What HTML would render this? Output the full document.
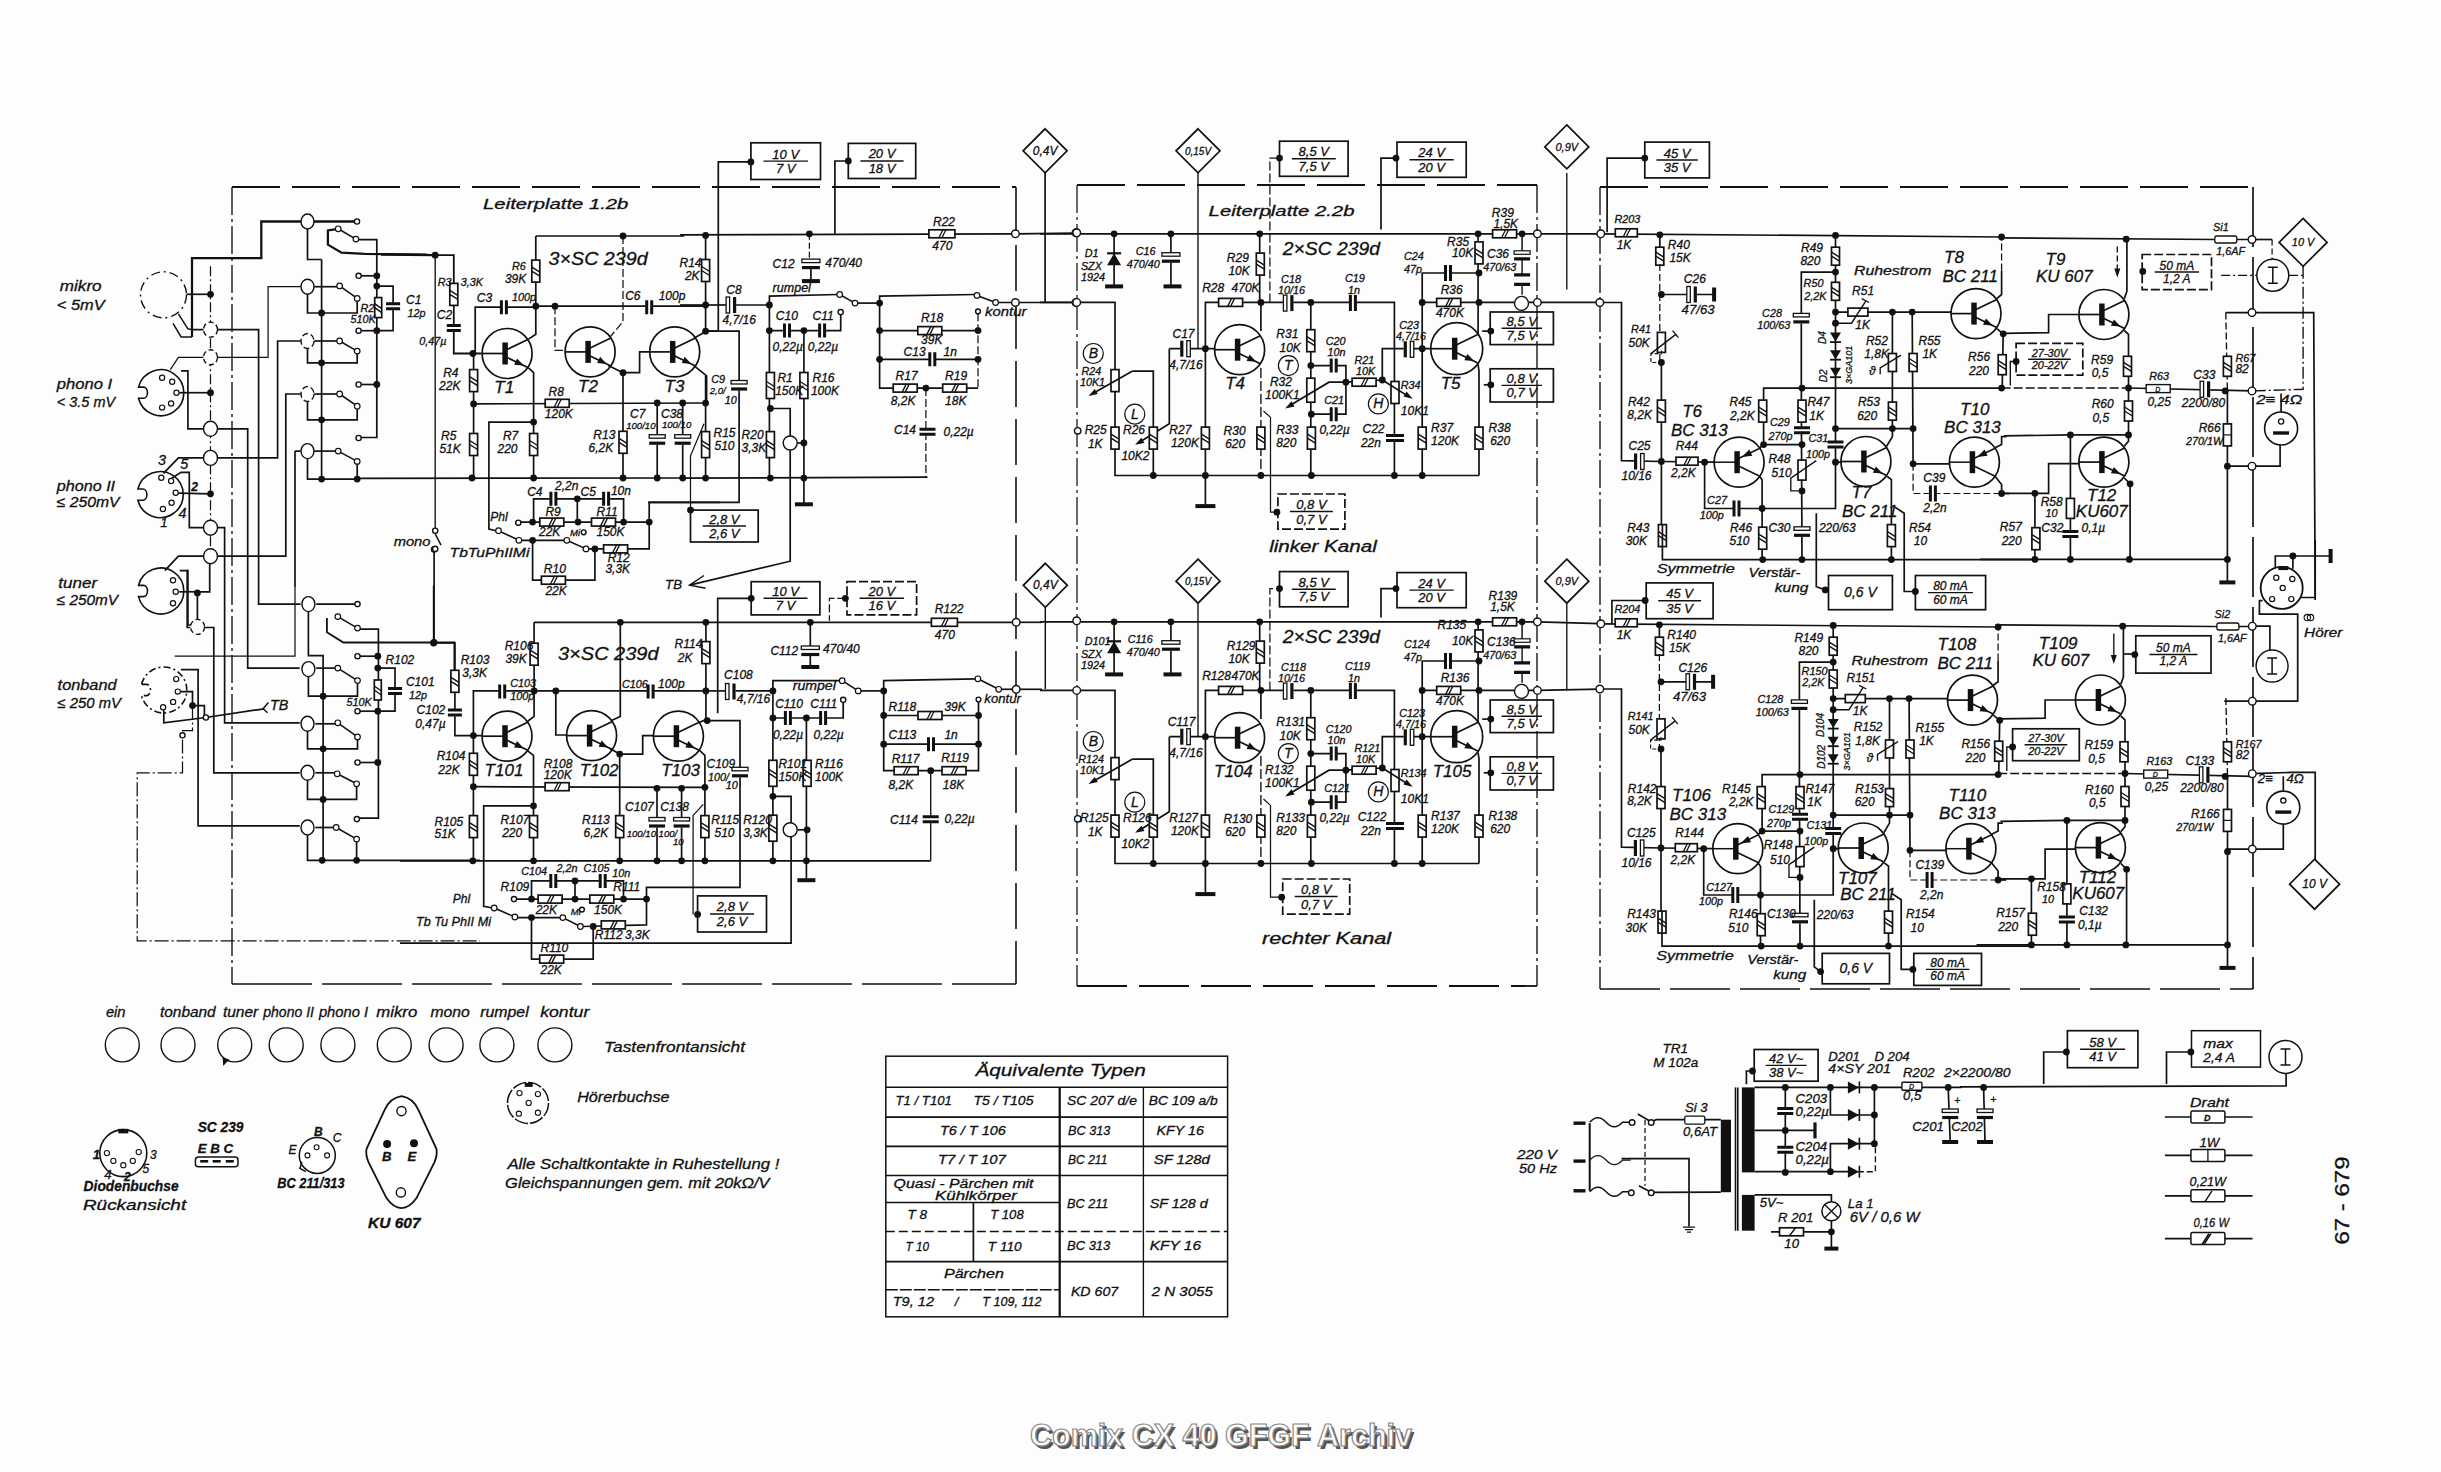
<!DOCTYPE html>
<html><head><meta charset="utf-8"><title>Comix CX 40</title>
<style>html,body{margin:0;padding:0;background:#fff}svg{display:block}text{font-family:"Liberation Sans",sans-serif;stroke:#111;stroke-width:.3px}</style>
</head><body>
<svg width="2441" height="1472" viewBox="0 0 2441 1472">
<rect width="2441" height="1472" fill="#fdfdfd"/>
<circle cx="163.5" cy="294.8" r="23" fill="none" stroke="#111" stroke-width="1.4" stroke-dasharray="9 4 2 4"/>
<path d="M186.6 294.3 L210.5 294.3" stroke="#111" stroke-width="1.69" fill="none"/>
<circle cx="210.5" cy="294.3" r="3.4" fill="#111"/>
<path d="M173.0 323.4 L181.1 337.0 L192.0 337.0" stroke="#111" stroke-width="1.47" fill="none"/>
<path d="M178.4 313.9 L187.9 328.8 L192.0 329.6" stroke="#111" stroke-width="1.47" fill="none"/>
<path d="M192.0 337.0 L192.0 258.2 L261.3 258.2 L261.3 221.5 L355.3 221.5" stroke="#111" stroke-width="2.26" fill="none"/>
<path d="M192.0 329.6 L258.6 329.6 L258.6 587.0" stroke="#111" stroke-width="1.69" fill="none"/>
<path d="M210.5 266.3 L210.5 548.9" stroke="#111" stroke-width="1.24" fill="none" stroke-dasharray="10 3 2 3"/>
<path d="M138.5 387.1 A23 23 0 1 1 138.5 398.3 L143.5 398.3 A4 5.6 0 0 0 143.5 387.1 Z" fill="#fff" stroke="#111" stroke-width="1.6"/>
<path d="M179.2 392.7 L210.5 392.7" stroke="#111" stroke-width="1.69" fill="none"/>
<circle cx="210.5" cy="392.7" r="3.4" fill="#111"/>
<path d="M181.1 370.9 L187.9 370.9 L187.9 428.8 L247.7 428.8 L247.7 587.0" stroke="#111" stroke-width="1.69" fill="none"/>
<path d="M170.3 369.6 L178.4 357.3 L268.1 357.3 L268.1 286.7 L300.7 286.7" stroke="#111" stroke-width="1.24" fill="none"/>
<path d="M137.9 489.0 A23 23 0 1 1 137.9 500.2 L142.9 500.2 A4 5.6 0 0 0 142.9 489.0 Z" fill="#fff" stroke="#111" stroke-width="1.6"/>
<path d="M178.4 493.2 L210.5 493.8" stroke="#111" stroke-width="1.69" fill="none"/>
<circle cx="210.5" cy="493.8" r="3.4" fill="#111"/>
<path d="M163.5 473.4 L178.4 457.9 L277.6 457.9 L277.6 341.0 L300.7 341.0" stroke="#111" stroke-width="1.69" fill="none"/>
<path d="M171.6 478.3 L181.1 472.3 L189.3 472.3 L189.3 527.7 L224.6 527.7 L224.6 587.0" stroke="#111" stroke-width="1.69" fill="none"/>
<text x="158.0" y="464.7" font-size="14.4" font-style="italic" text-anchor="start" fill="#111">3</text>
<text x="180.3" y="468.8" font-size="14.4" font-style="italic" text-anchor="start" fill="#111">5</text>
<text x="191.2" y="490.5" font-size="12.0" font-style="italic" font-weight="bold" text-anchor="start" fill="#111">2</text>
<text x="178.4" y="517.7" font-size="14.4" font-style="italic" text-anchor="start" fill="#111">4</text>
<text x="160.2" y="527.2" font-size="13.2" font-style="italic" text-anchor="start" fill="#111">1</text>
<path d="M138.5 585.4 A23 23 0 1 1 138.5 596.6 L143.5 596.6 A4 5.6 0 0 0 143.5 585.4 Z" fill="#fff" stroke="#111" stroke-width="1.6"/>
<path d="M164.8 570.7 L178.4 556.2 L285.8 556.2 L285.8 394.0 L300.7 394.0" stroke="#111" stroke-width="1.69" fill="none"/>
<path d="M179.2 591.8 L197.4 591.8" stroke="#111" stroke-width="1.69" fill="none"/>
<circle cx="197.4" cy="592.9" r="3.4" fill="#111"/>
<path d="M197.4 591.8 L209.7 591.8 L209.7 562.5" stroke="#111" stroke-width="1.69" fill="none"/>
<path d="M197.4 591.8 L197.4 623.6" stroke="#111" stroke-width="1.69" fill="none"/>
<path d="M179.8 570.7 L187.9 570.7 L187.9 625.0 L191.2 625.0" stroke="#111" stroke-width="1.69" fill="none"/>
<ellipse cx="210.5" cy="329.6" rx="7" ry="7.5" fill="#fff" stroke="#111" stroke-width="1.4" stroke-dasharray="5 3"/>
<ellipse cx="210.5" cy="357.3" rx="7" ry="7.5" fill="#fff" stroke="#111" stroke-width="1.4" stroke-dasharray="5 3"/>
<ellipse cx="210.5" cy="428.8" rx="7" ry="7.5" fill="#fff" stroke="#111" stroke-width="1.4"/>
<ellipse cx="210.5" cy="457.9" rx="7" ry="7.5" fill="#fff" stroke="#111" stroke-width="1.4"/>
<ellipse cx="210.5" cy="527.7" rx="7" ry="7.5" fill="#fff" stroke="#111" stroke-width="1.4"/>
<ellipse cx="210.5" cy="556.2" rx="7" ry="7.5" fill="#fff" stroke="#111" stroke-width="1.4"/>
<path d="M321.6 259.5 L321.6 479.1" stroke="#111" stroke-width="1.69" fill="none"/>
<path d="M307.5 228.3 L307.5 259.5 L321.6 259.5" stroke="#111" stroke-width="1.69" fill="none"/>
<path d="M314.3 286.7 L337.4 286.7" stroke="#111" stroke-width="1.69" fill="none"/>
<path d="M357.2 300.3 L357.2 313.0 L307.5 313.0 L307.5 293.5" stroke="#111" stroke-width="1.69" fill="none"/>
<circle cx="321.6" cy="313.0" r="3.4" fill="#111"/>
<path d="M339.6 285.9 L357.2 298.4" stroke="#111" stroke-width="1.58" fill="none"/>
<ellipse cx="307.5" cy="286.7" rx="6.5" ry="7.5" fill="#fff" stroke="#111" stroke-width="1.4"/>
<path d="M314.3 341.0 L337.4 341.0" stroke="#111" stroke-width="1.69" fill="none"/>
<path d="M357.2 353.3 L357.2 362.8 L307.5 362.8 L307.5 347.8" stroke="#111" stroke-width="1.69" fill="none"/>
<circle cx="321.6" cy="362.8" r="3.4" fill="#111"/>
<path d="M339.6 341.0 L357.2 351.1" stroke="#111" stroke-width="1.58" fill="none"/>
<ellipse cx="307.5" cy="341.0" rx="6.5" ry="7.5" fill="#fff" stroke="#111" stroke-width="1.4" stroke-dasharray="6 3"/>
<path d="M314.3 394.0 L337.4 394.0" stroke="#111" stroke-width="1.69" fill="none"/>
<path d="M357.2 408.2 L357.2 419.8 L307.5 419.8 L307.5 400.8" stroke="#111" stroke-width="1.69" fill="none"/>
<circle cx="321.6" cy="419.8" r="3.4" fill="#111"/>
<path d="M339.6 394.0 L357.2 406.2" stroke="#111" stroke-width="1.58" fill="none"/>
<ellipse cx="307.5" cy="394.0" rx="6.5" ry="7.5" fill="#fff" stroke="#111" stroke-width="1.4" stroke-dasharray="6 3"/>
<path d="M295.0 451.1 L300.7 451.1" stroke="#111" stroke-width="1.69" fill="none"/>
<path d="M314.3 451.1 L336.0 451.1" stroke="#111" stroke-width="1.69" fill="none"/>
<path d="M357.2 463.3 L357.2 479.1" stroke="#111" stroke-width="1.69" fill="none"/>
<path d="M307.5 457.9 L307.5 479.1 L359.1 479.1" stroke="#111" stroke-width="1.69" fill="none"/>
<circle cx="321.6" cy="479.1" r="3.4" fill="#111"/>
<circle cx="357.2" cy="479.1" r="3.4" fill="#111"/>
<path d="M338.2 451.1 L357.2 461.4" stroke="#111" stroke-width="1.58" fill="none"/>
<ellipse cx="307.5" cy="451.1" rx="6.5" ry="7.5" fill="#fff" stroke="#111" stroke-width="1.4"/>
<path d="M295.0 451.1 L295.0 587.0" stroke="#111" stroke-width="1.69" fill="none"/>
<ellipse cx="307.5" cy="221.5" rx="6.5" ry="7.5" fill="#fff" stroke="#111" stroke-width="1.4"/>
<path d="M359.1 221.5 L355.3 221.5" stroke="#111" stroke-width="2.26" fill="none"/>
<path d="M336.6 229.1 L327.9 230.4 L327.9 244.6 L341.5 252.7 L364.6 253.8 L427.1 254.6" stroke="#111" stroke-width="2.26" fill="none"/>
<path d="M338.2 228.8 L355.9 239.1" stroke="#111" stroke-width="1.58" fill="none"/>
<path d="M357.2 239.7 L376.8 239.7 L376.8 437.5 L360.5 437.5" stroke="#111" stroke-width="1.69" fill="none"/>
<path d="M360.5 275.8 L376.8 275.8" stroke="#111" stroke-width="1.69" fill="none"/>
<circle cx="376.8" cy="275.8" r="3.4" fill="#111"/>
<path d="M360.5 330.7 L376.8 330.7" stroke="#111" stroke-width="1.69" fill="none"/>
<circle cx="376.8" cy="330.7" r="3.4" fill="#111"/>
<path d="M360.5 384.5 L376.8 384.5" stroke="#111" stroke-width="1.69" fill="none"/>
<circle cx="376.8" cy="384.5" r="3.4" fill="#111"/>
<circle cx="376.8" cy="286.1" r="3.4" fill="#111"/>
<path d="M376.8 286.1 L393.1 286.1 L393.1 330.7 L376.8 330.7" stroke="#111" stroke-width="1.69" fill="none"/>
<rect x="374.7" y="297.6" width="7" height="20" fill="#fff" stroke="#111" stroke-width="1.7"/>
<path d="M374.7 303.6 L381.7 308.6 M374.7 307.6 L381.7 312.6" stroke="#111" stroke-width="1.4" fill="none"/>
<rect x="386.1" y="302.7" width="14" height="7" fill="#fff"/>
<path d="M386.1 303.7 H400.1 M386.1 308.7 H400.1" stroke="#111" stroke-width="3" fill="none"/>
<text x="360.5" y="312.0" font-size="10.8" font-style="italic" text-anchor="start" fill="#111">R2</text>
<text x="350.4" y="323.4" font-size="10.8" font-style="italic" text-anchor="start" fill="#111">510K</text>
<text x="406.1" y="303.8" font-size="12.0" font-style="italic" text-anchor="start" fill="#111">C1</text>
<text x="407.5" y="316.6" font-size="10.8" font-style="italic" text-anchor="start" fill="#111">12p</text>
<text x="59.8" y="291.2" font-size="14.4" font-style="italic" textLength="41.8" lengthAdjust="spacingAndGlyphs" text-anchor="start" fill="#111">mikro</text>
<text x="56.8" y="310.0" font-size="14.4" font-style="italic" textLength="47.8" lengthAdjust="spacingAndGlyphs" text-anchor="start" fill="#111">&lt;  5mV</text>
<text x="56.8" y="389.3" font-size="14.4" font-style="italic" textLength="55.3" lengthAdjust="spacingAndGlyphs" text-anchor="start" fill="#111">phono I</text>
<text x="56.8" y="407.2" font-size="14.4" font-style="italic" textLength="58.3" lengthAdjust="spacingAndGlyphs" text-anchor="start" fill="#111">&lt; 3.5 mV</text>
<text x="56.8" y="490.9" font-size="14.4" font-style="italic" textLength="58.3" lengthAdjust="spacingAndGlyphs" text-anchor="start" fill="#111">phono II</text>
<text x="56.8" y="507.4" font-size="14.4" font-style="italic" textLength="62.8" lengthAdjust="spacingAndGlyphs" text-anchor="start" fill="#111">≤ 250mV</text>
<text x="58.3" y="588.1" font-size="14.4" font-style="italic" textLength="38.9" lengthAdjust="spacingAndGlyphs" text-anchor="start" fill="#111">tuner</text>
<text x="56.8" y="604.5" font-size="14.4" font-style="italic" textLength="61.3" lengthAdjust="spacingAndGlyphs" text-anchor="start" fill="#111">≤ 250mV</text>
<path d="M295.0 586.9 L295.0 656.2 L174.7 656.2" stroke="#111" stroke-width="1.24" fill="none"/>
<path d="M224.6 586.9 L224.6 722.8 L299.7 722.8" stroke="#111" stroke-width="1.69" fill="none"/>
<path d="M247.7 586.9 L247.7 668.1 L299.7 668.1" stroke="#111" stroke-width="1.69" fill="none"/>
<path d="M258.6 586.9 L258.6 604.1 L300.6 604.1" stroke="#111" stroke-width="1.69" fill="none"/>
<path d="M316.2 604.1 L355.9 604.1" stroke="#111" stroke-width="1.69" fill="none"/>
<ellipse cx="197.5" cy="626.9" rx="7" ry="7.5" fill="#fff" stroke="#111" stroke-width="1.3" stroke-dasharray="5 3"/>
<path d="M205.0 627.5 L213.8 627.5 L213.8 772.8 L299.7 772.8" stroke="#111" stroke-width="1.69" fill="none"/>
<path d="M187.2 569.7 L187.2 627.5 L190.3 627.5" stroke="#111" stroke-width="1.69" fill="none"/>
<path d="M141.5 684.4 A23 23 0 1 1 141.5 695.6 L146.5 695.6 A4 5.6 0 0 0 146.5 684.4 Z" fill="#fff" stroke="#111" stroke-width="1.6" stroke-dasharray="7 3 2 3"/>
<path d="M180.9 669.7 L198.1 669.7 L198.1 825.9 L299.7 825.9" stroke="#111" stroke-width="1.69" fill="none"/>
<path d="M180.9 691.6 L192.5 691.6 L192.5 705.6" stroke="#111" stroke-width="1.69" fill="none"/>
<circle cx="192.5" cy="705.6" r="3.4" fill="#111"/>
<path d="M192.5 705.6 L204.4 705.6 L204.4 716.6" stroke="#111" stroke-width="1.69" fill="none"/>
<path d="M163.8 710.3 L163.8 722.8 L205.9 717.5 L263.8 708.8" stroke="#111" stroke-width="1.69" fill="none"/>
<path d="M268.4 702.5 L263.1 708.8 L267.5 712.8" stroke="#111" stroke-width="1.47" fill="none"/>
<text x="270.0" y="709.7" font-size="14.4" font-style="italic" text-anchor="start" fill="#111">TB</text>
<path d="M192.5 705.6 L192.5 730.6 L182.5 730.6 L182.5 772.8 L137.2 772.8 L137.2 940.9 L480.0 940.9" stroke="#111" stroke-width="1.24" fill="none" stroke-dasharray="14 3 2 3"/>
<path d="M308.4 611.9 L308.4 655.6 L323.1 655.6 L323.1 860.3" stroke="#111" stroke-width="1.69" fill="none"/>
<ellipse cx="308.4" cy="604.1" rx="6.5" ry="7.5" fill="#fff" stroke="#111" stroke-width="1.4"/>
<path d="M326.9 618.1 L326.9 632.2 L343.4 642.5 L434.1 642.5 L454.4 642.5 L454.4 671.2" stroke="#111" stroke-width="1.81" fill="none"/>
<circle cx="434.1" cy="642.5" r="3.4" fill="#111"/>
<path d="M337.8 616.6 L357.5 628.1" stroke="#111" stroke-width="1.58" fill="none"/>
<path d="M359.1 629.1 L378.4 629.1 L378.4 818.1 L359.1 818.1" stroke="#111" stroke-width="1.69" fill="none"/>
<path d="M359.1 656.2 L377.8 656.2" stroke="#111" stroke-width="1.69" fill="none"/>
<circle cx="377.8" cy="656.2" r="3.4" fill="#111"/>
<path d="M359.1 711.2 L377.8 711.2" stroke="#111" stroke-width="1.69" fill="none"/>
<circle cx="377.8" cy="711.2" r="3.4" fill="#111"/>
<path d="M359.1 762.5 L377.8 762.5" stroke="#111" stroke-width="1.69" fill="none"/>
<circle cx="377.8" cy="762.5" r="3.4" fill="#111"/>
<circle cx="377.8" cy="668.1" r="3.4" fill="#111"/>
<path d="M377.8 668.1 L395.0 668.1 L395.0 711.2 L377.8 711.2" stroke="#111" stroke-width="1.69" fill="none"/>
<rect x="374.3" y="680.0" width="7" height="20" fill="#fff" stroke="#111" stroke-width="1.7"/>
<path d="M374.3 686.0 L381.3 691.0 M374.3 690.0 L381.3 695.0" stroke="#111" stroke-width="1.4" fill="none"/>
<rect x="388.0" y="687.4" width="14" height="7" fill="#fff"/>
<path d="M388.0 688.4 H402.0 M388.0 693.4 H402.0" stroke="#111" stroke-width="3" fill="none"/>
<path d="M316.2 668.1 L335.6 668.1" stroke="#111" stroke-width="1.69" fill="none"/>
<path d="M357.5 682.2 L357.5 696.2 L308.4 696.2 L308.4 676.9" stroke="#111" stroke-width="1.69" fill="none"/>
<circle cx="323.1" cy="696.2" r="3.4" fill="#111"/>
<path d="M337.8 668.1 L357.5 680.6" stroke="#111" stroke-width="1.58" fill="none"/>
<ellipse cx="308.4" cy="669.1" rx="6.5" ry="7.5" fill="#fff" stroke="#111" stroke-width="1.4"/>
<path d="M315.3 723.8 L335.6 723.8" stroke="#111" stroke-width="1.69" fill="none"/>
<path d="M357.5 739.1 L357.5 748.8 L307.5 748.8 L307.5 731.2" stroke="#111" stroke-width="1.69" fill="none"/>
<circle cx="323.1" cy="748.8" r="3.4" fill="#111"/>
<path d="M337.8 722.8 L357.5 736.9" stroke="#111" stroke-width="1.58" fill="none"/>
<ellipse cx="307.5" cy="723.8" rx="6.5" ry="7.5" fill="#fff" stroke="#111" stroke-width="1.4"/>
<path d="M315.3 772.8 L335.6 772.8" stroke="#111" stroke-width="1.69" fill="none"/>
<path d="M356.6 785.9 L356.6 799.4 L307.5 799.4 L307.5 780.6" stroke="#111" stroke-width="1.69" fill="none"/>
<circle cx="323.1" cy="799.4" r="3.4" fill="#111"/>
<path d="M337.2 773.8 L356.6 783.8" stroke="#111" stroke-width="1.58" fill="none"/>
<ellipse cx="307.5" cy="772.8" rx="6.5" ry="7.5" fill="#fff" stroke="#111" stroke-width="1.4"/>
<path d="M315.3 827.5 L335.0 827.5" stroke="#111" stroke-width="1.69" fill="none"/>
<path d="M356.6 840.9 L356.6 860.3" stroke="#111" stroke-width="1.69" fill="none"/>
<path d="M307.5 835.3 L307.5 860.3 L480.0 860.3" stroke="#111" stroke-width="1.69" fill="none"/>
<circle cx="322.2" cy="860.3" r="3.4" fill="#111"/>
<circle cx="356.6" cy="860.3" r="3.4" fill="#111"/>
<path d="M336.2 827.5 L356.6 839.1" stroke="#111" stroke-width="1.58" fill="none"/>
<ellipse cx="307.5" cy="827.5" rx="6.5" ry="7.5" fill="#fff" stroke="#111" stroke-width="1.4"/>
<path d="M434.1 550.9 L434.1 642.5" stroke="#111" stroke-width="1.69" fill="none"/>
<text x="385.6" y="664.4" font-size="12.0" font-style="italic" text-anchor="start" fill="#111">R102</text>
<text x="346.6" y="706.2" font-size="10.8" font-style="italic" text-anchor="start" fill="#111">510K</text>
<text x="405.9" y="686.2" font-size="12.0" font-style="italic" text-anchor="start" fill="#111">C101</text>
<text x="409.1" y="698.8" font-size="10.8" font-style="italic" text-anchor="start" fill="#111">12p</text>
<path d="M535.8 236.0 L684.3 236.0" stroke="#111" stroke-width="1.69" fill="none"/>
<path d="M535.8 236.0 L535.8 334.3 L528.5 339.1" stroke="#111" stroke-width="1.69" fill="none"/>
<rect x="531.8" y="260.1" width="8" height="22" fill="#fff" stroke="#111" stroke-width="1.7"/>
<path d="M531.8 267.1 L539.8 272.1 M531.8 271.1 L539.8 276.1" stroke="#111" stroke-width="1.4" fill="none"/>
<circle cx="535.8" cy="306.2" r="3.4" fill="#111"/>
<circle cx="623.0" cy="236.0" r="3.4" fill="#111"/>
<path d="M623.0 236.0 L623.0 321.6 L608.3 339.1" stroke="#111" stroke-width="1.24" fill="none" stroke-dasharray="8 3"/>
<path d="M475.2 353.5 L475.2 307.2 L535.8 307.2" stroke="#111" stroke-width="1.69" fill="none"/>
<rect x="500.4" y="300.2" width="7" height="14" fill="#fff"/>
<path d="M501.4 300.2 V314.2 M506.4 300.2 V314.2" stroke="#111" stroke-width="3" fill="none"/>
<circle cx="555.0" cy="306.2" r="3.4" fill="#111"/>
<path d="M555.0 306.2 L555.0 350.3 L566.2 350.3" stroke="#111" stroke-width="1.24" fill="none" stroke-dasharray="8 3"/>
<path d="M535.8 306.2 L706.6 306.2" stroke="#111" stroke-width="1.69" fill="none"/>
<rect x="645.7" y="300.2" width="7" height="14" fill="#fff"/>
<path d="M646.7 300.2 V314.2 M651.7 300.2 V314.2" stroke="#111" stroke-width="3" fill="none"/>
<path d="M435.2 255.2 L453.8 255.2 L453.8 353.5 L481.5 353.5" stroke="#111" stroke-width="1.81" fill="none"/>
<rect x="449.8" y="283.4" width="8" height="22" fill="#fff" stroke="#111" stroke-width="1.7"/>
<path d="M449.8 290.4 L457.8 295.4 M449.8 294.4 L457.8 299.4" stroke="#111" stroke-width="1.4" fill="none"/>
<rect x="446.8" y="324.5" width="14" height="7" fill="#fff"/>
<path d="M446.8 325.5 H460.8 M446.8 330.5 H460.8" stroke="#111" stroke-width="3" fill="none"/>
<circle cx="472.9" cy="353.5" r="3.4" fill="#111"/>
<circle cx="435.2" cy="255.2" r="3.4" fill="#111"/>
<path d="M381.0 254.5 L435.2 255.2" stroke="#111" stroke-width="2.26" fill="none"/>
<path d="M435.2 255.2 L435.2 529.1" stroke="#111" stroke-width="1.36" fill="none"/>
<path d="M435.2 533.9 L441.0 545.1" stroke="#111" stroke-width="1.47" fill="none"/>
<circle cx="507.1" cy="353.5" r="25" fill="#fff" stroke="#111" stroke-width="1.7"/>
<path d="M505.1 342.5 V364.5" stroke="#111" stroke-width="5.5" fill="none"/>
<path d="M482.1 353.5 H505.1" stroke="#111" stroke-width="1.7"/>
<path d="M507.1 349.5 L527.85 339.5 M507.1 357.5 L527.85 367.5" stroke="#111" stroke-width="1.7" fill="none"/>
<path d="M523.7 365.5 L514.1 364.7 L517.1 358.4 Z" fill="#111"/>
<circle cx="590.1" cy="351.9" r="25" fill="#fff" stroke="#111" stroke-width="1.7"/>
<path d="M588.1 340.9 V362.9" stroke="#111" stroke-width="5.5" fill="none"/>
<path d="M565.1 351.9 H588.1" stroke="#111" stroke-width="1.7"/>
<path d="M590.1 347.9 L610.85 337.9 M590.1 355.9 L610.85 365.9" stroke="#111" stroke-width="1.7" fill="none"/>
<path d="M606.7 363.9 L597.1 363.1 L600.1 356.8 Z" fill="#111"/>
<circle cx="674.7" cy="351.9" r="25" fill="#fff" stroke="#111" stroke-width="1.7"/>
<path d="M672.7 340.9 V362.9" stroke="#111" stroke-width="5.5" fill="none"/>
<path d="M649.7 351.9 H672.7" stroke="#111" stroke-width="1.7"/>
<path d="M674.7 347.9 L695.45 337.9 M674.7 355.9 L695.45 365.9" stroke="#111" stroke-width="1.7" fill="none"/>
<path d="M691.3 363.9 L681.7 363.1 L684.7 356.8 Z" fill="#111"/>
<path d="M473.6 353.5 L473.6 478.0" stroke="#111" stroke-width="1.69" fill="none"/>
<rect x="469.6" y="369.6" width="8" height="22" fill="#fff" stroke="#111" stroke-width="1.7"/>
<path d="M469.6 376.6 L477.6 381.6 M469.6 380.6 L477.6 385.6" stroke="#111" stroke-width="1.4" fill="none"/>
<circle cx="473.6" cy="403.9" r="3.4" fill="#111"/>
<rect x="469.6" y="433.5" width="8" height="22" fill="#fff" stroke="#111" stroke-width="1.7"/>
<path d="M469.6 440.5 L477.6 445.5 M469.6 444.5 L477.6 449.5" stroke="#111" stroke-width="1.4" fill="none"/>
<circle cx="472.0" cy="478.0" r="3.4" fill="#111"/>
<path d="M473.6 403.9 L703.4 403.0" stroke="#111" stroke-width="1.69" fill="none"/>
<rect x="545.2" y="399.3" width="24" height="8" fill="#fff" stroke="#111" stroke-width="1.7"/>
<path d="M554.2 407.3 L558.2 399.3 M557.2 407.3 L561.2 399.3" stroke="#111" stroke-width="1.3" fill="none"/>
<circle cx="657.2" cy="403.0" r="3.4" fill="#111"/>
<circle cx="682.7" cy="403.0" r="3.4" fill="#111"/>
<path d="M528.5 367.9 L533.6 372.7 L533.6 478.0" stroke="#111" stroke-width="1.69" fill="none"/>
<circle cx="533.6" cy="422.1" r="3.4" fill="#111"/>
<rect x="529.6" y="433.5" width="8" height="22" fill="#fff" stroke="#111" stroke-width="1.7"/>
<path d="M529.6 440.5 L537.6 445.5 M529.6 444.5 L537.6 449.5" stroke="#111" stroke-width="1.4" fill="none"/>
<circle cx="533.6" cy="478.0" r="3.4" fill="#111"/>
<path d="M533.6 422.1 L488.9 422.1 L488.9 529.1 L495.9 530.7" stroke="#111" stroke-width="1.69" fill="none"/>
<path d="M608.3 365.6 L623.0 372.7" stroke="#111" stroke-width="1.69" fill="none"/>
<circle cx="623.0" cy="372.7" r="3.4" fill="#111"/>
<path d="M623.0 372.7 L639.6 372.7 L639.6 351.9 L649.2 351.9" stroke="#111" stroke-width="1.69" fill="none"/>
<path d="M623.0 372.7 L623.0 478.0" stroke="#111" stroke-width="1.69" fill="none"/>
<rect x="619.0" y="431.3" width="8" height="22" fill="#fff" stroke="#111" stroke-width="1.7"/>
<path d="M619.0 438.3 L627.0 443.3 M619.0 442.3 L627.0 447.3" stroke="#111" stroke-width="1.4" fill="none"/>
<circle cx="623.0" cy="478.0" r="3.4" fill="#111"/>
<path d="M657.2 403.0 L657.2 478.0" stroke="#111" stroke-width="1.69" fill="none"/>
<rect x="649.2" y="434.7" width="16" height="10" fill="#fff"/>
<rect x="649.2" y="434.7" width="16" height="3.5" fill="#fff" stroke="#111" stroke-width="1.3"/>
<path d="M649.2 443.2 H665.2" stroke="#111" stroke-width="3.2" fill="none"/>
<circle cx="657.2" cy="478.0" r="3.4" fill="#111"/>
<path d="M682.7 403.0 L682.7 478.0" stroke="#111" stroke-width="1.69" fill="none"/>
<rect x="674.7" y="434.7" width="16" height="10" fill="#fff"/>
<rect x="674.7" y="434.7" width="16" height="3.5" fill="#fff" stroke="#111" stroke-width="1.3"/>
<path d="M674.7 443.2 H690.7" stroke="#111" stroke-width="3.2" fill="none"/>
<circle cx="682.7" cy="478.0" r="3.4" fill="#111"/>
<path d="M693.9 365.6 L706.6 375.8 L706.6 403.0" stroke="#111" stroke-width="1.69" fill="none"/>
<path d="M693.9 338.2 L706.6 331.1" stroke="#111" stroke-width="1.69" fill="none"/>
<path d="M358.9 478.3 L684.3 478.0" stroke="#111" stroke-width="1.69" fill="none"/>
<text x="483.1" y="209.2" font-size="15" font-style="italic" textLength="145.3" lengthAdjust="spacingAndGlyphs" text-anchor="start" fill="#111">Leiterplatte  1.2b</text>
<text x="548.6" y="264.7" font-size="19" font-style="italic" textLength="99.0" lengthAdjust="spacingAndGlyphs" text-anchor="start" fill="#111">3×SC 239d</text>
<text x="511.9" y="269.8" font-size="10.8" font-style="italic" text-anchor="start" fill="#111">R6</text>
<text x="504.9" y="282.6" font-size="12.0" font-style="italic" text-anchor="start" fill="#111">39K</text>
<text x="679.5" y="267.3" font-size="12.0" font-style="italic" text-anchor="start" fill="#111">R14</text>
<text x="684.9" y="280.1" font-size="12.0" font-style="italic" text-anchor="start" fill="#111">2K</text>
<text x="437.8" y="285.8" font-size="10.8" font-style="italic" text-anchor="start" fill="#111">R3</text>
<text x="460.8" y="285.8" font-size="10.8" font-style="italic" text-anchor="start" fill="#111">3,3K</text>
<text x="476.8" y="301.8" font-size="12.0" font-style="italic" text-anchor="start" fill="#111">C3</text>
<text x="511.9" y="300.8" font-size="10.8" font-style="italic" text-anchor="start" fill="#111">100p</text>
<text x="625.2" y="300.2" font-size="12.0" font-style="italic" text-anchor="start" fill="#111">C6</text>
<text x="658.7" y="300.2" font-size="12.0" font-style="italic" text-anchor="start" fill="#111">100p</text>
<text x="436.8" y="319.0" font-size="12.0" font-style="italic" text-anchor="start" fill="#111">C2</text>
<text x="419.3" y="344.6" font-size="10.8" font-style="italic" text-anchor="start" fill="#111">0,47µ</text>
<text x="443.2" y="377.4" font-size="12.0" font-style="italic" text-anchor="start" fill="#111">R4</text>
<text x="439.1" y="390.2" font-size="12.0" font-style="italic" text-anchor="start" fill="#111">22K</text>
<text x="494.3" y="392.5" font-size="17" font-style="italic" text-anchor="start" fill="#111">T1</text>
<text x="578.0" y="391.8" font-size="17" font-style="italic" text-anchor="start" fill="#111">T2</text>
<text x="664.5" y="391.8" font-size="17" font-style="italic" text-anchor="start" fill="#111">T3</text>
<text x="548.6" y="395.6" font-size="12.0" font-style="italic" text-anchor="start" fill="#111">R8</text>
<text x="544.8" y="418.0" font-size="12.0" font-style="italic" text-anchor="start" fill="#111">120K</text>
<text x="441.0" y="440.3" font-size="12.0" font-style="italic" text-anchor="start" fill="#111">R5</text>
<text x="439.4" y="453.1" font-size="12.0" font-style="italic" text-anchor="start" fill="#111">51K</text>
<text x="502.9" y="440.3" font-size="12.0" font-style="italic" text-anchor="start" fill="#111">R7</text>
<text x="497.5" y="453.1" font-size="12.0" font-style="italic" text-anchor="start" fill="#111">220</text>
<text x="593.3" y="438.7" font-size="12.0" font-style="italic" text-anchor="start" fill="#111">R13</text>
<text x="588.5" y="451.5" font-size="12.0" font-style="italic" text-anchor="start" fill="#111">6,2K</text>
<text x="630.0" y="418.0" font-size="12.0" font-style="italic" text-anchor="start" fill="#111">C7</text>
<text x="626.2" y="428.5" font-size="9.6" font-style="italic" text-anchor="start" fill="#111">100/10</text>
<text x="661.0" y="418.0" font-size="12.0" font-style="italic" text-anchor="start" fill="#111">C38</text>
<text x="661.9" y="427.9" font-size="9.6" font-style="italic" text-anchor="start" fill="#111">100/10</text>
<path d="M533.6 522.1 L533.6 498.8 L623.6 498.8 L623.6 522.1" stroke="#111" stroke-width="1.69" fill="none"/>
<rect x="549.9" y="491.8" width="7" height="14" fill="#fff"/>
<path d="M550.9 491.8 V505.8 M555.9 491.8 V505.8" stroke="#111" stroke-width="3" fill="none"/>
<circle cx="577.3" cy="498.8" r="3.4" fill="#111"/>
<rect x="602.6" y="491.8" width="7" height="14" fill="#fff"/>
<path d="M603.6 491.8 V505.8 M608.6 491.8 V505.8" stroke="#111" stroke-width="3" fill="none"/>
<path d="M577.3 498.8 L577.3 522.1" stroke="#111" stroke-width="1.69" fill="none"/>
<path d="M520.2 522.1 L649.2 522.1 L649.2 502.3 L720.1 502.3" stroke="#111" stroke-width="1.69" fill="none"/>
<rect x="539.8" y="518.1" width="24" height="8" fill="#fff" stroke="#111" stroke-width="1.7"/>
<path d="M548.8 526.1 L552.8 518.1 M551.8 526.1 L555.8 518.1" stroke="#111" stroke-width="1.3" fill="none"/>
<rect x="591.5" y="518.1" width="24" height="8" fill="#fff" stroke="#111" stroke-width="1.7"/>
<path d="M600.5 526.1 L604.5 518.1 M603.5 526.1 L607.5 518.1" stroke="#111" stroke-width="1.3" fill="none"/>
<circle cx="532.6" cy="522.1" r="3.4" fill="#111"/>
<circle cx="578.0" cy="522.1" r="3.4" fill="#111"/>
<circle cx="623.6" cy="522.1" r="3.4" fill="#111"/>
<circle cx="649.2" cy="522.1" r="3.4" fill="#111"/>
<path d="M498.5 530.7 L518.9 540.3" stroke="#111" stroke-width="1.58" fill="none"/>
<path d="M520.2 540.3 L566.2 540.3" stroke="#111" stroke-width="1.69" fill="none"/>
<circle cx="532.6" cy="540.3" r="3.4" fill="#111"/>
<path d="M566.8 540.3 L586.0 548.9" stroke="#111" stroke-width="1.58" fill="none"/>
<path d="M587.2 548.9 L649.2 548.9 L649.2 522.1" stroke="#111" stroke-width="1.69" fill="none"/>
<circle cx="594.9" cy="548.9" r="3.4" fill="#111"/>
<rect x="603.6" y="544.9" width="24" height="8" fill="#fff" stroke="#111" stroke-width="1.7"/>
<path d="M612.6 552.9 L616.6 544.9 M615.6 552.9 L619.6 544.9" stroke="#111" stroke-width="1.3" fill="none"/>
<path d="M532.6 540.3 L532.6 580.2 L594.9 580.2 L594.9 548.9" stroke="#111" stroke-width="1.69" fill="none"/>
<rect x="541.4" y="576.2" width="24" height="8" fill="#fff" stroke="#111" stroke-width="1.7"/>
<path d="M550.4 584.2 L554.4 576.2 M553.4 584.2 L557.4 576.2" stroke="#111" stroke-width="1.3" fill="none"/>
<text x="527.2" y="496.2" font-size="12.0" font-style="italic" text-anchor="start" fill="#111">C4</text>
<text x="555.0" y="489.8" font-size="12.0" font-style="italic" text-anchor="start" fill="#111">2,2n</text>
<text x="580.5" y="496.2" font-size="12.0" font-style="italic" text-anchor="start" fill="#111">C5</text>
<text x="610.9" y="494.9" font-size="12.0" font-style="italic" text-anchor="start" fill="#111">10n</text>
<text x="545.4" y="515.7" font-size="12.0" font-style="italic" text-anchor="start" fill="#111">R9</text>
<text x="539.0" y="535.5" font-size="12.0" font-style="italic" text-anchor="start" fill="#111">22K</text>
<text x="596.5" y="515.7" font-size="12.0" font-style="italic" text-anchor="start" fill="#111">R11</text>
<text x="596.5" y="535.5" font-size="12.0" font-style="italic" text-anchor="start" fill="#111">150K</text>
<text x="607.7" y="561.7" font-size="12.0" font-style="italic" text-anchor="start" fill="#111">R12</text>
<text x="605.4" y="572.8" font-size="12.0" font-style="italic" text-anchor="start" fill="#111">3,3K</text>
<text x="543.8" y="572.8" font-size="12.0" font-style="italic" text-anchor="start" fill="#111">R10</text>
<text x="545.4" y="595.2" font-size="12.0" font-style="italic" text-anchor="start" fill="#111">22K</text>
<text x="490.2" y="521.1" font-size="12.0" font-style="italic" text-anchor="start" fill="#111">PhI</text>
<text x="570.0" y="536.1" font-size="9.6" font-style="italic" text-anchor="start" fill="#111">Mi</text>
<text x="393.7" y="545.7" font-size="13.2" font-style="italic" textLength="36.8" lengthAdjust="spacingAndGlyphs" text-anchor="start" fill="#111">mono</text>
<text x="449.6" y="556.9" font-size="13.2" font-style="italic" textLength="79.8" lengthAdjust="spacingAndGlyphs" text-anchor="start" fill="#111">TbTuPhIIMi</text>
<text x="665.1" y="588.8" font-size="13.2" font-style="italic" text-anchor="start" fill="#111">TB</text>
<rect x="750.9" y="142.8" width="69.6" height="36.7" fill="#fff" stroke="#111" stroke-width="1.7"/>
<path d="M763.428 161.15 H807.9720000000001" stroke="#111" stroke-width="1.4"/>
<text x="785.7" y="158.65" font-size="13" font-style="italic" text-anchor="middle" fill="#111">10 V</text>
<text x="785.7" y="173.15" font-size="13" font-style="italic" text-anchor="middle" fill="#111">7 V</text>
<circle cx="750.9" cy="161.9" r="3.4" fill="#111"/>
<path d="M750.9 161.9 L718.3 161.9 L718.3 331.2 L705.6 331.2" stroke="#111" stroke-width="1.69" fill="none"/>
<rect x="848.3" y="143.4" width="67.4" height="35.1" fill="#fff" stroke="#111" stroke-width="1.7"/>
<path d="M860.432 160.95 H903.568" stroke="#111" stroke-width="1.4"/>
<text x="882.0" y="158.45" font-size="13" font-style="italic" text-anchor="middle" fill="#111">20 V</text>
<text x="882.0" y="172.95" font-size="13" font-style="italic" text-anchor="middle" fill="#111">18 V</text>
<circle cx="848.3" cy="161.0" r="3.4" fill="#111"/>
<path d="M848.3 161.0 L834.9 161.0 L834.9 233.8" stroke="#111" stroke-width="1.69" fill="none"/>
<path d="M680.0 234.8 L1015.4 233.8 L1076.0 233.2" stroke="#111" stroke-width="1.69" fill="none"/>
<circle cx="705.6" cy="235.4" r="3.4" fill="#111"/>
<circle cx="809.4" cy="233.8" r="3.4" fill="#111"/>
<rect x="928.9" y="229.8" width="26" height="8" fill="#fff" stroke="#111" stroke-width="1.7"/>
<path d="M938.9 237.8 L942.9 229.8 M941.9 237.8 L945.9 229.8" stroke="#111" stroke-width="1.3" fill="none"/>
<path d="M809.4 233.8 L809.4 257.8" stroke="#111" stroke-width="1.24" fill="none" stroke-dasharray="6 3"/>
<rect x="801.9" y="259.1" width="18" height="10" fill="#fff"/>
<rect x="801.9" y="259.1" width="18" height="3.5" fill="#fff" stroke="#111" stroke-width="1.3"/>
<path d="M801.9 267.6 H819.9" stroke="#111" stroke-width="3.2" fill="none"/>
<path d="M810.9 268.0 L810.9 280.1" stroke="#111" stroke-width="1.69" fill="none"/>
<path d="M801.9 281.1 H819.9" stroke="#111" stroke-width="4" fill="none"/>
<path d="M705.6 235.4 L705.6 331.2" stroke="#111" stroke-width="1.69" fill="none"/>
<rect x="701.6" y="259.5" width="8" height="22" fill="#fff" stroke="#111" stroke-width="1.7"/>
<path d="M701.6 266.5 L709.6 271.5 M701.6 270.5 L709.6 275.5" stroke="#111" stroke-width="1.4" fill="none"/>
<circle cx="705.6" cy="305.0" r="3.4" fill="#111"/>
<circle cx="705.6" cy="331.2" r="3.4" fill="#111"/>
<path d="M680.0 305.0 L705.6 305.0" stroke="#111" stroke-width="1.69" fill="none"/>
<path d="M705.6 305.0 L726.3 305.0" stroke="#111" stroke-width="1.69" fill="none"/>
<path d="M735.9 305.0 L769.4 305.0" stroke="#111" stroke-width="1.69" fill="none"/>
<rect x="726.1" y="297.0" width="10" height="16" fill="#fff"/>
<rect x="726.1" y="297.0" width="3.5" height="16" fill="#fff" stroke="#111" stroke-width="1.3"/>
<path d="M734.6 297.0 V313.0" stroke="#111" stroke-width="3.2" fill="none"/>
<circle cx="769.4" cy="305.0" r="3.4" fill="#111"/>
<path d="M769.4 478.1 L769.4 296.1 L838.1 294.5" stroke="#111" stroke-width="1.69" fill="none"/>
<path d="M839.7 294.5 L855.0 303.1" stroke="#111" stroke-width="1.58" fill="none"/>
<path d="M856.6 303.1 L879.6 303.1" stroke="#111" stroke-width="1.69" fill="none"/>
<circle cx="879.6" cy="303.1" r="3.4" fill="#111"/>
<path d="M840.7 314.0 L840.7 330.6 L769.4 330.6" stroke="#111" stroke-width="1.69" fill="none"/>
<rect x="818.6" y="323.6" width="7" height="14" fill="#fff"/>
<path d="M819.6 323.6 V337.6 M824.6 323.6 V337.6" stroke="#111" stroke-width="3" fill="none"/>
<rect x="783.5" y="323.6" width="7" height="14" fill="#fff"/>
<path d="M784.5 323.6 V337.6 M789.5 323.6 V337.6" stroke="#111" stroke-width="3" fill="none"/>
<circle cx="803.9" cy="330.6" r="3.4" fill="#111"/>
<circle cx="769.4" cy="330.6" r="3.4" fill="#111"/>
<path d="M803.9 330.6 L803.9 478.1" stroke="#111" stroke-width="1.69" fill="none"/>
<rect x="799.9" y="372.5" width="8" height="26" fill="#fff" stroke="#111" stroke-width="1.7"/>
<path d="M799.9 381.5 L807.9 386.5 M799.9 385.5 L807.9 390.5" stroke="#111" stroke-width="1.4" fill="none"/>
<circle cx="803.9" cy="443.0" r="3.4" fill="#111"/>
<circle cx="803.9" cy="478.1" r="3.4" fill="#111"/>
<rect x="766.4" y="372.5" width="8" height="26" fill="#fff" stroke="#111" stroke-width="1.7"/>
<path d="M766.4 381.5 L774.4 386.5 M766.4 385.5 L774.4 390.5" stroke="#111" stroke-width="1.4" fill="none"/>
<circle cx="770.4" cy="408.5" r="3.4" fill="#111"/>
<path d="M770.4 408.5 L790.2 408.5 L790.2 436.0" stroke="#111" stroke-width="1.69" fill="none"/>
<path d="M790.2 450.3 L790.2 561.2 L689.6 585.1" stroke="#111" stroke-width="1.69" fill="none"/>
<path d="M704.0 575.5 L689.6 585.1 L705.6 588.3" stroke="#111" stroke-width="1.47" fill="none"/>
<path d="M797.2 443.0 L803.9 443.0" stroke="#111" stroke-width="1.69" fill="none"/>
<rect x="766.4" y="431.6" width="8" height="26" fill="#fff" stroke="#111" stroke-width="1.7"/>
<path d="M766.4 440.6 L774.4 445.6 M766.4 444.6 L774.4 449.6" stroke="#111" stroke-width="1.4" fill="none"/>
<circle cx="770.4" cy="478.1" r="3.4" fill="#111"/>
<path d="M803.9 478.1 L803.9 503.7" stroke="#111" stroke-width="1.69" fill="none"/>
<path d="M794.9 504.3 H812.9" stroke="#111" stroke-width="4" fill="none"/>
<path d="M705.6 331.2 L739.1 331.2 L739.1 502.4 L648.1 502.4" stroke="#111" stroke-width="1.69" fill="none"/>
<rect x="731.1" y="380.5" width="16" height="10" fill="#fff"/>
<rect x="731.1" y="380.5" width="16" height="3.5" fill="#fff" stroke="#111" stroke-width="1.3"/>
<path d="M731.1 389.0 H747.1" stroke="#111" stroke-width="3.2" fill="none"/>
<path d="M705.6 375.9 L705.6 478.1" stroke="#111" stroke-width="1.69" fill="none"/>
<rect x="701.6" y="431.6" width="8" height="26" fill="#fff" stroke="#111" stroke-width="1.7"/>
<path d="M701.6 440.6 L709.6 445.6 M701.6 444.6 L709.6 449.6" stroke="#111" stroke-width="1.4" fill="none"/>
<circle cx="705.6" cy="403.1" r="3.4" fill="#111"/>
<circle cx="705.6" cy="478.1" r="3.4" fill="#111"/>
<path d="M704.0 423.8 L690.5 455.8 L690.5 510.1" stroke="#111" stroke-width="1.24" fill="none"/>
<rect x="690.5" y="510.1" width="67.7" height="31.9" fill="#fff" stroke="#111" stroke-width="1.7"/>
<path d="M702.686 526.05 H746.014" stroke="#111" stroke-width="1.4"/>
<text x="724.35" y="523.55" font-size="13" font-style="italic" text-anchor="middle" fill="#111">2,8 V</text>
<text x="724.35" y="538.05" font-size="13" font-style="italic" text-anchor="middle" fill="#111">2,6 V</text>
<circle cx="690.5" cy="510.1" r="3.4" fill="#111"/>
<path d="M680.0 478.1 L927.5 477.2" stroke="#111" stroke-width="1.69" fill="none"/>
<path d="M879.6 303.1 L879.6 296.1 L975.4 294.5" stroke="#111" stroke-width="1.69" fill="none"/>
<path d="M977.0 295.4 L995.6 302.5" stroke="#111" stroke-width="1.58" fill="none"/>
<path d="M996.8 302.5 L1076.0 302.5" stroke="#111" stroke-width="1.69" fill="none"/>
<path d="M978.0 313.3 L978.0 388.1" stroke="#111" stroke-width="1.24" fill="none" stroke-dasharray="8 3"/>
<path d="M879.6 303.1 L879.6 388.1 L978.0 388.1" stroke="#111" stroke-width="1.69" fill="none"/>
<rect x="893.2" y="384.1" width="24" height="8" fill="#fff" stroke="#111" stroke-width="1.7"/>
<path d="M902.2 392.1 L906.2 384.1 M905.2 392.1 L909.2 384.1" stroke="#111" stroke-width="1.3" fill="none"/>
<circle cx="925.9" cy="388.1" r="3.4" fill="#111"/>
<rect x="942.7" y="384.1" width="24" height="8" fill="#fff" stroke="#111" stroke-width="1.7"/>
<path d="M951.7 392.1 L955.7 384.1 M954.7 392.1 L958.7 384.1" stroke="#111" stroke-width="1.3" fill="none"/>
<path d="M879.6 330.6 L978.0 330.6" stroke="#111" stroke-width="1.69" fill="none"/>
<circle cx="879.6" cy="330.6" r="3.4" fill="#111"/>
<circle cx="978.0" cy="330.6" r="3.4" fill="#111"/>
<rect x="917.8" y="326.6" width="24" height="8" fill="#fff" stroke="#111" stroke-width="1.7"/>
<path d="M926.8 334.6 L930.8 326.6 M929.8 334.6 L933.8 326.6" stroke="#111" stroke-width="1.3" fill="none"/>
<path d="M879.6 359.3 L978.0 359.3" stroke="#111" stroke-width="1.69" fill="none"/>
<circle cx="879.6" cy="359.3" r="3.4" fill="#111"/>
<circle cx="978.0" cy="359.3" r="3.4" fill="#111"/>
<rect x="928.8" y="352.3" width="7" height="14" fill="#fff"/>
<path d="M929.8 352.3 V366.3 M934.8 352.3 V366.3" stroke="#111" stroke-width="3" fill="none"/>
<path d="M925.9 388.1 L925.9 477.2" stroke="#111" stroke-width="1.24" fill="none" stroke-dasharray="8 3"/>
<rect x="919.5" y="428.3" width="16" height="7" fill="#fff"/>
<path d="M919.5 429.3 H935.5 M919.5 434.3 H935.5" stroke="#111" stroke-width="3" fill="none"/>
<path d="M1045.1 128.8 L1067.1 150.8 L1045.1 172.8 L1023.0999999999999 150.8 Z" fill="#fff" stroke="#111" stroke-width="1.7"/>
<text x="1045.1" y="154.8" font-size="12" font-style="italic" text-anchor="middle" fill="#111">0,4V</text>
<path d="M1045.1 173.1 L1045.1 302.5" stroke="#111" stroke-width="1.69" fill="none"/>
<text x="933.0" y="225.8" font-size="12.0" font-style="italic" text-anchor="start" fill="#111">R22</text>
<text x="932.3" y="249.5" font-size="12.0" font-style="italic" text-anchor="start" fill="#111">470</text>
<text x="772.6" y="268.0" font-size="12.0" font-style="italic" text-anchor="start" fill="#111">C12</text>
<text x="825.3" y="266.7" font-size="12.0" font-style="italic" text-anchor="start" fill="#111">470/40</text>
<text x="726.3" y="293.5" font-size="12.0" font-style="italic" text-anchor="start" fill="#111">C8</text>
<text x="722.5" y="323.9" font-size="12.0" font-style="italic" text-anchor="start" fill="#111">4,7/16</text>
<text x="772.6" y="291.9" font-size="12.0" font-style="italic" textLength="38.3" lengthAdjust="spacingAndGlyphs" text-anchor="start" fill="#111">rumpel</text>
<text x="775.8" y="319.7" font-size="12.0" font-style="italic" text-anchor="start" fill="#111">C10</text>
<text x="812.5" y="319.7" font-size="12.0" font-style="italic" text-anchor="start" fill="#111">C11</text>
<text x="772.6" y="351.0" font-size="12.0" font-style="italic" text-anchor="start" fill="#111">0,22µ</text>
<text x="807.8" y="351.0" font-size="12.0" font-style="italic" text-anchor="start" fill="#111">0,22µ</text>
<text x="777.4" y="381.7" font-size="12.0" font-style="italic" text-anchor="start" fill="#111">R1</text>
<text x="775.2" y="394.5" font-size="12.0" font-style="italic" text-anchor="start" fill="#111">150K</text>
<text x="812.5" y="381.7" font-size="12.0" font-style="italic" text-anchor="start" fill="#111">R16</text>
<text x="810.9" y="394.5" font-size="12.0" font-style="italic" text-anchor="start" fill="#111">100K</text>
<text x="711.3" y="383.0" font-size="10.8" font-style="italic" text-anchor="start" fill="#111">C9</text>
<text x="709.7" y="394.1" font-size="9.6" font-style="italic" text-anchor="start" fill="#111">2,0/</text>
<text x="724.7" y="403.7" font-size="10.8" font-style="italic" text-anchor="start" fill="#111">10</text>
<text x="713.5" y="437.3" font-size="12.0" font-style="italic" text-anchor="start" fill="#111">R15</text>
<text x="714.5" y="450.0" font-size="12.0" font-style="italic" text-anchor="start" fill="#111">510</text>
<text x="741.6" y="438.8" font-size="12.0" font-style="italic" text-anchor="start" fill="#111">R20</text>
<text x="741.6" y="451.6" font-size="12.0" font-style="italic" text-anchor="start" fill="#111">3,3K</text>
<text x="921.1" y="321.6" font-size="12.0" font-style="italic" text-anchor="start" fill="#111">R18</text>
<text x="921.1" y="344.0" font-size="12.0" font-style="italic" text-anchor="start" fill="#111">39K</text>
<text x="903.6" y="355.8" font-size="12.0" font-style="italic" text-anchor="start" fill="#111">C13</text>
<text x="943.5" y="355.8" font-size="12.0" font-style="italic" text-anchor="start" fill="#111">1n</text>
<text x="895.6" y="379.8" font-size="12.0" font-style="italic" text-anchor="start" fill="#111">R17</text>
<text x="890.8" y="405.3" font-size="12.0" font-style="italic" text-anchor="start" fill="#111">8,2K</text>
<text x="945.1" y="379.8" font-size="12.0" font-style="italic" text-anchor="start" fill="#111">R19</text>
<text x="945.1" y="405.3" font-size="12.0" font-style="italic" text-anchor="start" fill="#111">18K</text>
<text x="894.0" y="434.4" font-size="12.0" font-style="italic" text-anchor="start" fill="#111">C14</text>
<text x="943.5" y="436.0" font-size="12.0" font-style="italic" text-anchor="start" fill="#111">0,22µ</text>
<text x="985.0" y="316.2" font-size="13.2" font-style="italic" textLength="41.5" lengthAdjust="spacingAndGlyphs" text-anchor="start" fill="#111">kontur</text>
<path d="M433.5 585.5 L433.5 643.0" stroke="#111" stroke-width="1.36" fill="none"/>
<circle cx="433.5" cy="643.0" r="3.4" fill="#111"/>
<path d="M433.5 643.0 L454.9 643.0 L454.9 735.6 L481.4 735.6" stroke="#111" stroke-width="1.69" fill="none"/>
<rect x="450.9" y="670.3" width="8" height="22" fill="#fff" stroke="#111" stroke-width="1.7"/>
<path d="M450.9 677.3 L458.9 682.3 M450.9 681.3 L458.9 686.3" stroke="#111" stroke-width="1.4" fill="none"/>
<rect x="447.9" y="709.1" width="14" height="7" fill="#fff"/>
<path d="M447.9 710.1 H461.9 M447.9 715.1 H461.9" stroke="#111" stroke-width="3" fill="none"/>
<circle cx="473.4" cy="735.6" r="3.4" fill="#111"/>
<path d="M534.1 622.3 L1016.2 622.3" stroke="#111" stroke-width="1.69" fill="none"/>
<circle cx="620.3" cy="622.3" r="3.4" fill="#111"/>
<circle cx="705.9" cy="622.3" r="3.4" fill="#111"/>
<circle cx="810.3" cy="622.3" r="3.4" fill="#111"/>
<rect x="931.4" y="618.3" width="26" height="8" fill="#fff" stroke="#111" stroke-width="1.7"/>
<path d="M941.4 626.3 L945.4 618.3 M944.4 626.3 L948.4 618.3" stroke="#111" stroke-width="1.3" fill="none"/>
<path d="M534.1 622.3 L534.1 716.4 L527.7 721.2" stroke="#111" stroke-width="1.69" fill="none"/>
<rect x="530.1" y="643.2" width="8" height="22" fill="#fff" stroke="#111" stroke-width="1.7"/>
<path d="M530.1 650.2 L538.1 655.2 M530.1 654.2 L538.1 659.2" stroke="#111" stroke-width="1.4" fill="none"/>
<circle cx="534.1" cy="690.9" r="3.4" fill="#111"/>
<path d="M473.4 735.6 L473.4 690.9 L534.1 690.9" stroke="#111" stroke-width="1.69" fill="none"/>
<rect x="498.7" y="684.5" width="7" height="14" fill="#fff"/>
<path d="M499.7 684.5 V698.5 M504.7 684.5 V698.5" stroke="#111" stroke-width="3" fill="none"/>
<circle cx="555.8" cy="690.9" r="3.4" fill="#111"/>
<path d="M555.8 690.9 L555.8 735.0 L566.0 735.0" stroke="#111" stroke-width="1.69" fill="none"/>
<path d="M534.1 690.9 L705.9 690.9" stroke="#111" stroke-width="1.69" fill="none"/>
<rect x="647.1" y="684.5" width="7" height="14" fill="#fff"/>
<path d="M648.1 684.5 V698.5 M653.1 684.5 V698.5" stroke="#111" stroke-width="3" fill="none"/>
<path d="M620.3 622.3 L620.3 716.4 L609.8 721.2" stroke="#111" stroke-width="1.69" fill="none"/>
<path d="M705.9 622.3 L705.9 719.6 L696.9 723.5" stroke="#111" stroke-width="1.69" fill="none"/>
<rect x="701.9" y="641.6" width="8" height="22" fill="#fff" stroke="#111" stroke-width="1.7"/>
<path d="M701.9 648.6 L709.9 653.6 M701.9 652.6 L709.9 657.6" stroke="#111" stroke-width="1.4" fill="none"/>
<circle cx="705.9" cy="690.9" r="3.4" fill="#111"/>
<circle cx="707.2" cy="720.6" r="3.4" fill="#111"/>
<path d="M717.7 713.3 L717.7 598.3 L751.2 598.3" stroke="#111" stroke-width="1.69" fill="none"/>
<rect x="751.2" y="581.7" width="68.7" height="33.2" fill="#fff" stroke="#111" stroke-width="1.7"/>
<path d="M763.566 598.3 H807.5339999999999" stroke="#111" stroke-width="1.4"/>
<text x="785.55" y="595.8" font-size="13" font-style="italic" text-anchor="middle" fill="#111">10 V</text>
<text x="785.55" y="610.3" font-size="13" font-style="italic" text-anchor="middle" fill="#111">7 V</text>
<circle cx="751.2" cy="598.3" r="3.4" fill="#111"/>
<rect x="847.0" y="581.7" width="69.6" height="33.2" fill="#fff" stroke="#111" stroke-width="1.7" stroke-dasharray="9 3"/>
<path d="M859.5279999999999 598.3 H904.072" stroke="#111" stroke-width="1.4"/>
<text x="881.8" y="595.8" font-size="13" font-style="italic" text-anchor="middle" fill="#111">20 V</text>
<text x="881.8" y="610.3" font-size="13" font-style="italic" text-anchor="middle" fill="#111">16 V</text>
<path d="M845.4 598.3 L829.4 598.3 L829.4 620.7" stroke="#111" stroke-width="1.24" fill="none" stroke-dasharray="8 3"/>
<circle cx="845.4" cy="598.3" r="3.4" fill="#111"/>
<path d="M705.9 690.9 L725.7 690.9" stroke="#111" stroke-width="1.69" fill="none"/>
<path d="M735.2 690.9 L772.9 690.9" stroke="#111" stroke-width="1.69" fill="none"/>
<rect x="725.5" y="683.5" width="10" height="16" fill="#fff"/>
<rect x="725.5" y="683.5" width="3.5" height="16" fill="#fff" stroke="#111" stroke-width="1.3"/>
<path d="M734.0 683.5 V699.5" stroke="#111" stroke-width="3.2" fill="none"/>
<circle cx="772.9" cy="690.9" r="3.4" fill="#111"/>
<path d="M810.3 622.3 L810.3 646.2" stroke="#111" stroke-width="1.69" fill="none"/>
<rect x="801.3" y="646.0" width="18" height="10" fill="#fff"/>
<rect x="801.3" y="646.0" width="18" height="3.5" fill="#fff" stroke="#111" stroke-width="1.3"/>
<path d="M801.3 654.5 H819.3" stroke="#111" stroke-width="3.2" fill="none"/>
<path d="M810.3 654.8 L810.3 666.0" stroke="#111" stroke-width="1.69" fill="none"/>
<path d="M801.3 667.0 H819.3" stroke="#111" stroke-width="4" fill="none"/>
<path d="M772.9 690.9 L772.9 680.7 L840.6 680.7" stroke="#111" stroke-width="1.69" fill="none"/>
<path d="M842.2 680.7 L858.2 690.9" stroke="#111" stroke-width="1.58" fill="none"/>
<path d="M859.8 690.9 L883.7 690.9" stroke="#111" stroke-width="1.69" fill="none"/>
<circle cx="883.7" cy="690.9" r="3.4" fill="#111"/>
<path d="M883.7 690.9 L883.7 680.7 L976.3 678.8" stroke="#111" stroke-width="1.69" fill="none"/>
<path d="M977.9 678.8 L998.7 689.3" stroke="#111" stroke-width="1.58" fill="none"/>
<path d="M1000.3 689.3 L1016.2 689.3" stroke="#111" stroke-width="1.69" fill="none"/>
<path d="M843.2 701.8 L843.2 718.0 L772.9 718.0" stroke="#111" stroke-width="1.69" fill="none"/>
<rect x="819.6" y="711.0" width="7" height="14" fill="#fff"/>
<path d="M820.6 711.0 V725.0 M825.6 711.0 V725.0" stroke="#111" stroke-width="3" fill="none"/>
<circle cx="806.4" cy="718.0" r="3.4" fill="#111"/>
<rect x="784.4" y="711.0" width="7" height="14" fill="#fff"/>
<path d="M785.4 711.0 V725.0 M790.4 711.0 V725.0" stroke="#111" stroke-width="3" fill="none"/>
<circle cx="772.9" cy="718.0" r="3.4" fill="#111"/>
<path d="M772.9 690.9 L772.9 860.8" stroke="#111" stroke-width="1.69" fill="none"/>
<rect x="768.9" y="760.3" width="8" height="26" fill="#fff" stroke="#111" stroke-width="1.7"/>
<path d="M768.9 769.3 L776.9 774.3 M768.9 773.3 L776.9 778.3" stroke="#111" stroke-width="1.4" fill="none"/>
<circle cx="772.9" cy="796.3" r="3.4" fill="#111"/>
<rect x="768.9" y="815.2" width="8" height="26" fill="#fff" stroke="#111" stroke-width="1.7"/>
<path d="M768.9 824.2 L776.9 829.2 M768.9 828.2 L776.9 833.2" stroke="#111" stroke-width="1.4" fill="none"/>
<circle cx="772.9" cy="860.8" r="3.4" fill="#111"/>
<path d="M806.4 718.0 L806.4 879.3" stroke="#111" stroke-width="1.69" fill="none"/>
<rect x="803.1" y="760.3" width="8" height="26" fill="#fff" stroke="#111" stroke-width="1.7"/>
<path d="M803.1 769.3 L811.1 774.3 M803.1 773.3 L811.1 778.3" stroke="#111" stroke-width="1.4" fill="none"/>
<circle cx="807.1" cy="829.8" r="3.4" fill="#111"/>
<circle cx="806.4" cy="860.8" r="3.4" fill="#111"/>
<path d="M797.4 880.2 H815.4" stroke="#111" stroke-width="4" fill="none"/>
<path d="M772.9 796.3 L791.1 796.3 L791.1 822.5" stroke="#111" stroke-width="1.69" fill="none"/>
<path d="M791.1 837.1 L791.1 943.1 L400.0 943.1" stroke="#111" stroke-width="1.69" fill="none"/>
<path d="M797.5 829.8 L807.1 829.8" stroke="#111" stroke-width="1.69" fill="none"/>
<path d="M883.7 690.9 L883.7 770.7 L978.5 770.7 L978.5 701.4" stroke="#111" stroke-width="1.69" fill="none"/>
<path d="M883.7 715.5 L978.5 715.5" stroke="#111" stroke-width="1.69" fill="none"/>
<circle cx="883.7" cy="715.5" r="3.4" fill="#111"/>
<circle cx="978.5" cy="715.5" r="3.4" fill="#111"/>
<rect x="918.0" y="711.5" width="24" height="8" fill="#fff" stroke="#111" stroke-width="1.7"/>
<path d="M927.0 719.5 L931.0 711.5 M930.0 719.5 L934.0 711.5" stroke="#111" stroke-width="1.3" fill="none"/>
<path d="M883.7 744.2 L978.5 744.2" stroke="#111" stroke-width="1.69" fill="none"/>
<circle cx="883.7" cy="744.2" r="3.4" fill="#111"/>
<circle cx="978.5" cy="744.2" r="3.4" fill="#111"/>
<rect x="927.5" y="737.2" width="7" height="14" fill="#fff"/>
<path d="M928.5 737.2 V751.2 M933.5 737.2 V751.2" stroke="#111" stroke-width="3" fill="none"/>
<rect x="894.1" y="766.7" width="24" height="8" fill="#fff" stroke="#111" stroke-width="1.7"/>
<path d="M903.1 774.7 L907.1 766.7 M906.1 774.7 L910.1 766.7" stroke="#111" stroke-width="1.3" fill="none"/>
<circle cx="930.7" cy="770.7" r="3.4" fill="#111"/>
<rect x="942.0" y="766.7" width="24" height="8" fill="#fff" stroke="#111" stroke-width="1.7"/>
<path d="M951.0 774.7 L955.0 766.7 M954.0 774.7 L958.0 766.7" stroke="#111" stroke-width="1.3" fill="none"/>
<path d="M930.7 770.7 L930.7 860.8" stroke="#111" stroke-width="1.36" fill="none"/>
<rect x="922.7" y="815.8" width="16" height="7" fill="#fff"/>
<path d="M922.7 816.8 H938.7 M922.7 821.8 H938.7" stroke="#111" stroke-width="3" fill="none"/>
<path d="M400.0 860.8 L930.7 860.8" stroke="#111" stroke-width="1.69" fill="none"/>
<circle cx="472.8" cy="860.8" r="3.4" fill="#111"/>
<circle cx="533.5" cy="860.8" r="3.4" fill="#111"/>
<circle cx="619.7" cy="860.8" r="3.4" fill="#111"/>
<circle cx="657.0" cy="860.8" r="3.4" fill="#111"/>
<circle cx="681.6" cy="860.8" r="3.4" fill="#111"/>
<circle cx="704.9" cy="860.8" r="3.4" fill="#111"/>
<path d="M473.4 735.6 L473.4 860.8" stroke="#111" stroke-width="1.69" fill="none"/>
<rect x="469.4" y="753.3" width="8" height="22" fill="#fff" stroke="#111" stroke-width="1.7"/>
<path d="M469.4 760.3 L477.4 765.3 M469.4 764.3 L477.4 769.3" stroke="#111" stroke-width="1.4" fill="none"/>
<circle cx="473.4" cy="786.7" r="3.4" fill="#111"/>
<rect x="469.4" y="815.6" width="8" height="22" fill="#fff" stroke="#111" stroke-width="1.7"/>
<path d="M469.4 822.6 L477.4 827.6 M469.4 826.6 L477.4 831.6" stroke="#111" stroke-width="1.4" fill="none"/>
<path d="M473.4 786.7 L704.9 787.3" stroke="#111" stroke-width="1.69" fill="none"/>
<rect x="545.1" y="782.7" width="24" height="8" fill="#fff" stroke="#111" stroke-width="1.7"/>
<path d="M554.1 790.7 L558.1 782.7 M557.1 790.7 L561.1 782.7" stroke="#111" stroke-width="1.3" fill="none"/>
<circle cx="657.0" cy="788.3" r="3.4" fill="#111"/>
<circle cx="681.6" cy="788.3" r="3.4" fill="#111"/>
<circle cx="704.9" cy="787.3" r="3.4" fill="#111"/>
<path d="M657.0 788.3 L657.0 860.8" stroke="#111" stroke-width="1.69" fill="none"/>
<rect x="649.0" y="817.5" width="16" height="10" fill="#fff"/>
<rect x="649.0" y="817.5" width="16" height="3.5" fill="#fff" stroke="#111" stroke-width="1.3"/>
<path d="M649.0 826.0 H665.0" stroke="#111" stroke-width="3.2" fill="none"/>
<path d="M681.6 788.3 L681.6 860.8" stroke="#111" stroke-width="1.69" fill="none"/>
<rect x="673.6" y="817.5" width="16" height="10" fill="#fff"/>
<rect x="673.6" y="817.5" width="16" height="3.5" fill="#fff" stroke="#111" stroke-width="1.3"/>
<path d="M673.6 826.0 H689.6" stroke="#111" stroke-width="3.2" fill="none"/>
<circle cx="507.0" cy="736.2" r="25" fill="#fff" stroke="#111" stroke-width="1.7"/>
<path d="M505.0 725.2 V747.2" stroke="#111" stroke-width="5.5" fill="none"/>
<path d="M482.0 736.2 H505.0" stroke="#111" stroke-width="1.7"/>
<path d="M507.0 732.2 L527.75 722.2 M507.0 740.2 L527.75 750.2" stroke="#111" stroke-width="1.7" fill="none"/>
<path d="M523.6 748.2 L514.0 747.4 L517.0 741.1 Z" fill="#111"/>
<circle cx="591.6" cy="735.6" r="25" fill="#fff" stroke="#111" stroke-width="1.7"/>
<path d="M589.6 724.6 V746.6" stroke="#111" stroke-width="5.5" fill="none"/>
<path d="M566.6 735.6 H589.6" stroke="#111" stroke-width="1.7"/>
<path d="M591.6 731.6 L612.35 721.6 M591.6 739.6 L612.35 749.6" stroke="#111" stroke-width="1.7" fill="none"/>
<path d="M608.2 747.6 L598.6 746.8 L601.6 740.5 Z" fill="#111"/>
<circle cx="678.4" cy="736.2" r="25" fill="#fff" stroke="#111" stroke-width="1.7"/>
<path d="M676.4 725.2 V747.2" stroke="#111" stroke-width="5.5" fill="none"/>
<path d="M653.4 736.2 H676.4" stroke="#111" stroke-width="1.7"/>
<path d="M678.4 732.2 L699.15 722.2 M678.4 740.2 L699.15 750.2" stroke="#111" stroke-width="1.7" fill="none"/>
<path d="M695.0 748.2 L685.4 747.4 L688.4 741.1 Z" fill="#111"/>
<path d="M527.7 750.9 L533.5 755.4 L533.5 860.8" stroke="#111" stroke-width="1.69" fill="none"/>
<circle cx="533.5" cy="805.8" r="3.4" fill="#111"/>
<rect x="529.5" y="815.6" width="8" height="22" fill="#fff" stroke="#111" stroke-width="1.7"/>
<path d="M529.5 822.6 L537.5 827.6 M529.5 826.6 L537.5 831.6" stroke="#111" stroke-width="1.4" fill="none"/>
<path d="M533.5 805.8 L483.7 805.8 L483.7 906.4 L492.6 908.0" stroke="#111" stroke-width="1.69" fill="none"/>
<path d="M609.8 748.4 L619.7 754.1" stroke="#111" stroke-width="1.69" fill="none"/>
<circle cx="619.7" cy="754.1" r="3.4" fill="#111"/>
<path d="M619.7 754.1 L642.7 754.1 L642.7 735.6 L653.8 735.6" stroke="#111" stroke-width="1.69" fill="none"/>
<path d="M619.7 754.1 L619.7 860.8" stroke="#111" stroke-width="1.69" fill="none"/>
<rect x="615.7" y="815.6" width="8" height="22" fill="#fff" stroke="#111" stroke-width="1.7"/>
<path d="M615.7 822.6 L623.7 827.6 M615.7 826.6 L623.7 831.6" stroke="#111" stroke-width="1.4" fill="none"/>
<path d="M699.2 750.0 L704.9 755.4 L704.9 860.8" stroke="#111" stroke-width="1.69" fill="none"/>
<rect x="700.9" y="815.6" width="8" height="22" fill="#fff" stroke="#111" stroke-width="1.7"/>
<path d="M700.9 822.6 L708.9 827.6 M700.9 826.6 L708.9 831.6" stroke="#111" stroke-width="1.4" fill="none"/>
<path d="M707.2 720.6 L740.0 720.6 L740.0 887.3 L646.5 887.3 L646.5 899.1" stroke="#111" stroke-width="1.69" fill="none"/>
<rect x="732.0" y="767.3" width="16" height="10" fill="#fff"/>
<rect x="732.0" y="767.3" width="16" height="3.5" fill="#fff" stroke="#111" stroke-width="1.3"/>
<path d="M732.0 775.8 H748.0" stroke="#111" stroke-width="3.2" fill="none"/>
<path d="M703.3 804.3 L693.1 815.4 L693.1 914.4" stroke="#111" stroke-width="1.24" fill="none"/>
<rect x="697.6" y="895.9" width="68.9" height="36.1" fill="#fff" stroke="#111" stroke-width="1.7"/>
<path d="M710.002 913.95 H754.098" stroke="#111" stroke-width="1.4"/>
<text x="732.05" y="911.45" font-size="13" font-style="italic" text-anchor="middle" fill="#111">2,8 V</text>
<text x="732.05" y="925.95" font-size="13" font-style="italic" text-anchor="middle" fill="#111">2,6 V</text>
<circle cx="697.6" cy="914.4" r="3.4" fill="#111"/>
<path d="M531.5 899.1 L531.5 880.9 L623.5 880.9 L623.5 899.1" stroke="#111" stroke-width="1.69" fill="none"/>
<rect x="549.8" y="873.9" width="7" height="14" fill="#fff"/>
<path d="M550.8 873.9 V887.9 M555.8 873.9 V887.9" stroke="#111" stroke-width="3" fill="none"/>
<circle cx="575.0" cy="880.9" r="3.4" fill="#111"/>
<rect x="599.2" y="873.9" width="7" height="14" fill="#fff"/>
<path d="M600.2 873.9 V887.9 M605.2 873.9 V887.9" stroke="#111" stroke-width="3" fill="none"/>
<path d="M575.0 880.9 L575.0 899.1" stroke="#111" stroke-width="1.69" fill="none"/>
<path d="M515.9 899.1 L646.5 899.1" stroke="#111" stroke-width="1.69" fill="none"/>
<rect x="538.1" y="895.1" width="24" height="8" fill="#fff" stroke="#111" stroke-width="1.7"/>
<path d="M547.1 903.1 L551.1 895.1 M550.1 903.1 L554.1 895.1" stroke="#111" stroke-width="1.3" fill="none"/>
<rect x="589.8" y="895.1" width="24" height="8" fill="#fff" stroke="#111" stroke-width="1.7"/>
<path d="M598.8 903.1 L602.8 895.1 M601.8 903.1 L605.8 895.1" stroke="#111" stroke-width="1.3" fill="none"/>
<circle cx="531.5" cy="899.1" r="3.4" fill="#111"/>
<circle cx="575.0" cy="899.1" r="3.4" fill="#111"/>
<circle cx="623.5" cy="899.1" r="3.4" fill="#111"/>
<circle cx="646.5" cy="899.1" r="3.4" fill="#111"/>
<path d="M494.2 908.0 L514.9 917.0" stroke="#111" stroke-width="1.58" fill="none"/>
<path d="M516.5 917.6 L562.8 917.6" stroke="#111" stroke-width="1.69" fill="none"/>
<circle cx="531.5" cy="917.6" r="3.4" fill="#111"/>
<path d="M562.8 917.6 L580.4 926.5" stroke="#111" stroke-width="1.58" fill="none"/>
<path d="M582.0 926.5 L646.5 924.9 L646.5 899.1" stroke="#111" stroke-width="1.69" fill="none"/>
<circle cx="593.2" cy="926.5" r="3.4" fill="#111"/>
<rect x="601.3" y="920.9" width="24" height="8" fill="#fff" stroke="#111" stroke-width="1.7"/>
<path d="M610.3 928.9 L614.3 920.9 M613.3 928.9 L617.3 920.9" stroke="#111" stroke-width="1.3" fill="none"/>
<path d="M531.5 917.6 L531.5 959.1 L593.2 959.1 L593.2 926.5" stroke="#111" stroke-width="1.69" fill="none"/>
<rect x="539.7" y="955.1" width="24" height="8" fill="#fff" stroke="#111" stroke-width="1.7"/>
<path d="M548.7 963.1 L552.7 955.1 M551.7 963.1 L555.7 955.1" stroke="#111" stroke-width="1.3" fill="none"/>
<text x="460.7" y="664.4" font-size="12.0" font-style="italic" text-anchor="start" fill="#111">R103</text>
<text x="462.3" y="677.2" font-size="12.0" font-style="italic" text-anchor="start" fill="#111">3,3K</text>
<text x="416.6" y="713.9" font-size="12.0" font-style="italic" text-anchor="start" fill="#111">C102</text>
<text x="415.3" y="728.3" font-size="12.0" font-style="italic" text-anchor="start" fill="#111">0,47µ</text>
<text x="504.7" y="650.0" font-size="12.0" font-style="italic" text-anchor="start" fill="#111">R106</text>
<text x="505.4" y="663.4" font-size="12.0" font-style="italic" text-anchor="start" fill="#111">39K</text>
<text x="558.0" y="659.6" font-size="19" font-style="italic" textLength="100.6" lengthAdjust="spacingAndGlyphs" text-anchor="start" fill="#111">3×SC 239d</text>
<text x="674.6" y="648.4" font-size="12.0" font-style="italic" text-anchor="start" fill="#111">R114</text>
<text x="677.8" y="662.2" font-size="12.0" font-style="italic" text-anchor="start" fill="#111">2K</text>
<text x="510.2" y="686.8" font-size="10.8" font-style="italic" text-anchor="start" fill="#111">C103</text>
<text x="510.2" y="699.5" font-size="10.8" font-style="italic" text-anchor="start" fill="#111">100p</text>
<text x="621.9" y="688.4" font-size="10.8" font-style="italic" text-anchor="start" fill="#111">C106</text>
<text x="658.0" y="688.4" font-size="12.0" font-style="italic" text-anchor="start" fill="#111">100p</text>
<text x="724.1" y="679.4" font-size="12.0" font-style="italic" text-anchor="start" fill="#111">C108</text>
<text x="736.8" y="703.0" font-size="12.0" font-style="italic" text-anchor="start" fill="#111">4,7/16</text>
<text x="770.4" y="654.8" font-size="12.0" font-style="italic" text-anchor="start" fill="#111">C112</text>
<text x="823.1" y="653.2" font-size="12.0" font-style="italic" text-anchor="start" fill="#111">470/40</text>
<text x="934.8" y="613.3" font-size="12.0" font-style="italic" text-anchor="start" fill="#111">R122</text>
<text x="934.8" y="638.9" font-size="12.0" font-style="italic" text-anchor="start" fill="#111">470</text>
<text x="792.7" y="689.9" font-size="12.0" font-style="italic" textLength="43.1" lengthAdjust="spacingAndGlyphs" text-anchor="start" fill="#111">rumpel</text>
<text x="775.2" y="707.5" font-size="12.0" font-style="italic" text-anchor="start" fill="#111">C110</text>
<text x="810.3" y="707.5" font-size="12.0" font-style="italic" text-anchor="start" fill="#111">C111</text>
<text x="772.9" y="739.4" font-size="12.0" font-style="italic" text-anchor="start" fill="#111">0,22µ</text>
<text x="813.5" y="739.4" font-size="12.0" font-style="italic" text-anchor="start" fill="#111">0,22µ</text>
<text x="778.4" y="768.2" font-size="12.0" font-style="italic" text-anchor="start" fill="#111">R101</text>
<text x="778.4" y="780.9" font-size="12.0" font-style="italic" text-anchor="start" fill="#111">150K</text>
<text x="815.1" y="768.2" font-size="12.0" font-style="italic" text-anchor="start" fill="#111">R116</text>
<text x="815.1" y="780.9" font-size="12.0" font-style="italic" text-anchor="start" fill="#111">100K</text>
<text x="743.2" y="824.0" font-size="12.0" font-style="italic" text-anchor="start" fill="#111">R120</text>
<text x="743.2" y="836.8" font-size="12.0" font-style="italic" text-anchor="start" fill="#111">3,3K</text>
<text x="711.3" y="824.0" font-size="12.0" font-style="italic" text-anchor="start" fill="#111">R115</text>
<text x="714.5" y="836.8" font-size="12.0" font-style="italic" text-anchor="start" fill="#111">510</text>
<text x="706.5" y="768.2" font-size="12.0" font-style="italic" text-anchor="start" fill="#111">C109</text>
<text x="708.1" y="780.9" font-size="10.8" font-style="italic" text-anchor="start" fill="#111">100/</text>
<text x="725.7" y="788.9" font-size="10.8" font-style="italic" text-anchor="start" fill="#111">10</text>
<text x="625.1" y="811.3" font-size="12.0" font-style="italic" text-anchor="start" fill="#111">C107</text>
<text x="660.2" y="811.3" font-size="12.0" font-style="italic" text-anchor="start" fill="#111">C138</text>
<text x="626.7" y="836.8" font-size="9.6" font-style="italic" text-anchor="start" fill="#111">100/10</text>
<text x="658.6" y="836.8" font-size="9.6" font-style="italic" text-anchor="start" fill="#111">100/</text>
<text x="673.0" y="844.8" font-size="9.6" font-style="italic" text-anchor="start" fill="#111">10</text>
<text x="582.0" y="824.0" font-size="12.0" font-style="italic" text-anchor="start" fill="#111">R113</text>
<text x="583.6" y="836.8" font-size="12.0" font-style="italic" text-anchor="start" fill="#111">6,2K</text>
<text x="500.6" y="824.0" font-size="12.0" font-style="italic" text-anchor="start" fill="#111">R107</text>
<text x="502.2" y="836.8" font-size="12.0" font-style="italic" text-anchor="start" fill="#111">220</text>
<text x="434.5" y="825.6" font-size="12.0" font-style="italic" text-anchor="start" fill="#111">R105</text>
<text x="434.5" y="838.4" font-size="12.0" font-style="italic" text-anchor="start" fill="#111">51K</text>
<text x="436.7" y="760.2" font-size="12.0" font-style="italic" text-anchor="start" fill="#111">R104</text>
<text x="438.3" y="773.9" font-size="12.0" font-style="italic" text-anchor="start" fill="#111">22K</text>
<text x="543.7" y="768.2" font-size="12.0" font-style="italic" text-anchor="start" fill="#111">R108</text>
<text x="543.7" y="779.3" font-size="12.0" font-style="italic" text-anchor="start" fill="#111">120K</text>
<text x="484.6" y="775.5" font-size="17" font-style="italic" text-anchor="start" fill="#111">T101</text>
<text x="579.8" y="775.5" font-size="17" font-style="italic" text-anchor="start" fill="#111">T102</text>
<text x="661.2" y="775.5" font-size="17" font-style="italic" text-anchor="start" fill="#111">T103</text>
<text x="888.5" y="710.7" font-size="12.0" font-style="italic" text-anchor="start" fill="#111">R118</text>
<text x="944.4" y="710.7" font-size="12.0" font-style="italic" text-anchor="start" fill="#111">39K</text>
<text x="888.5" y="739.4" font-size="12.0" font-style="italic" text-anchor="start" fill="#111">C113</text>
<text x="944.4" y="739.4" font-size="12.0" font-style="italic" text-anchor="start" fill="#111">1n</text>
<text x="891.7" y="763.4" font-size="12.0" font-style="italic" text-anchor="start" fill="#111">R117</text>
<text x="941.2" y="761.8" font-size="12.0" font-style="italic" text-anchor="start" fill="#111">R119</text>
<text x="888.5" y="788.9" font-size="12.0" font-style="italic" text-anchor="start" fill="#111">8,2K</text>
<text x="942.8" y="788.9" font-size="12.0" font-style="italic" text-anchor="start" fill="#111">18K</text>
<text x="890.1" y="824.0" font-size="12.0" font-style="italic" text-anchor="start" fill="#111">C114</text>
<text x="944.4" y="822.5" font-size="12.0" font-style="italic" text-anchor="start" fill="#111">0,22µ</text>
<text x="984.3" y="702.7" font-size="13.2" font-style="italic" textLength="36.7" lengthAdjust="spacingAndGlyphs" text-anchor="start" fill="#111">kontur</text>
<text x="521.3" y="875.1" font-size="10.8" font-style="italic" text-anchor="start" fill="#111">C104</text>
<text x="556.4" y="871.9" font-size="10.8" font-style="italic" text-anchor="start" fill="#111">2,2n</text>
<text x="583.6" y="871.9" font-size="10.8" font-style="italic" text-anchor="start" fill="#111">C105</text>
<text x="612.3" y="876.7" font-size="10.8" font-style="italic" text-anchor="start" fill="#111">10n</text>
<text x="500.6" y="891.1" font-size="12.0" font-style="italic" text-anchor="start" fill="#111">R109</text>
<text x="613.3" y="891.1" font-size="12.0" font-style="italic" text-anchor="start" fill="#111">R111</text>
<text x="535.7" y="914.4" font-size="12.0" font-style="italic" text-anchor="start" fill="#111">22K</text>
<text x="594.1" y="914.4" font-size="12.0" font-style="italic" text-anchor="start" fill="#111">150K</text>
<text x="570.8" y="915.4" font-size="9.6" font-style="italic" text-anchor="start" fill="#111">Mi</text>
<text x="452.7" y="902.9" font-size="12.0" font-style="italic" text-anchor="start" fill="#111">PhI</text>
<text x="416.0" y="926.2" font-size="12.0" font-style="italic" textLength="75.0" lengthAdjust="spacingAndGlyphs" text-anchor="start" fill="#111">Tb Tu PhII Mi</text>
<text x="594.8" y="939.0" font-size="12.0" font-style="italic" text-anchor="start" fill="#111">R112</text>
<text x="625.1" y="939.0" font-size="12.0" font-style="italic" text-anchor="start" fill="#111">3,3K</text>
<text x="540.5" y="951.8" font-size="12.0" font-style="italic" text-anchor="start" fill="#111">R110</text>
<text x="540.5" y="974.1" font-size="12.0" font-style="italic" text-anchor="start" fill="#111">22K</text>
<path d="M1016.2 622.3 L1041.8 622.3" stroke="#111" stroke-width="1.69" fill="none"/>
<path d="M1016.2 689.3 L1041.8 689.3" stroke="#111" stroke-width="1.69" fill="none"/>
<path d="M1045.3 607.0 L1045.3 689.0" stroke="#111" stroke-width="1.47" fill="none"/>
<path d="M1045.3 563.3 L1067.3 585.3 L1045.3 607.3 L1023.3 585.3 Z" fill="#fff" stroke="#111" stroke-width="1.7"/>
<text x="1045.3" y="589.3" font-size="12" font-style="italic" text-anchor="middle" fill="#111">0,4V</text>
<path d="M1040.0 233.8 L1537.4 233.8 L1600.0 233.8" stroke="#111" stroke-width="1.69" fill="none"/>
<circle cx="1114.1" cy="233.8" r="3.4" fill="#111"/>
<circle cx="1170.9" cy="233.8" r="3.4" fill="#111"/>
<circle cx="1259.7" cy="233.8" r="3.4" fill="#111"/>
<circle cx="1478.1" cy="233.8" r="3.4" fill="#111"/>
<circle cx="1522.1" cy="233.8" r="3.4" fill="#111"/>
<rect x="1492.6" y="229.8" width="24" height="8" fill="#fff" stroke="#111" stroke-width="1.7"/>
<path d="M1501.6 237.8 L1505.6 229.8 M1504.6 237.8 L1508.6 229.8" stroke="#111" stroke-width="1.3" fill="none"/>
<path d="M1040.0 302.4 L1115.0 302.4 L1115.0 475.5 L1479.0 475.5" stroke="#111" stroke-width="1.69" fill="none"/>
<path d="M1114.1 233.8 L1114.1 285.8" stroke="#111" stroke-width="1.69" fill="none"/>
<path d="M1107.1 265.3 L1121.1 265.3 L1114.1 253.3 Z" fill="#111"/>
<path d="M1107.1 253.3 H1121.1" stroke="#111" stroke-width="2.2"/>
<path d="M1105.1 286.4 H1123.1" stroke="#111" stroke-width="4" fill="none"/>
<path d="M1170.9 233.8 L1170.9 285.8" stroke="#111" stroke-width="1.69" fill="none"/>
<rect x="1161.9" y="252.7" width="18" height="10" fill="#fff"/>
<rect x="1161.9" y="252.7" width="18" height="3.5" fill="#fff" stroke="#111" stroke-width="1.3"/>
<path d="M1161.9 261.2 H1179.9" stroke="#111" stroke-width="3.2" fill="none"/>
<path d="M1163.5 286.4 H1181.5" stroke="#111" stroke-width="4" fill="none"/>
<path d="M1259.7 233.8 L1259.7 302.4" stroke="#111" stroke-width="1.69" fill="none"/>
<rect x="1256.3" y="253.10000000000002" width="8" height="22" fill="#fff" stroke="#111" stroke-width="1.7"/>
<path d="M1256.3 260.1 L1264.3 265.1 M1256.3 264.1 L1264.3 269.1" stroke="#111" stroke-width="1.4" fill="none"/>
<circle cx="1260.9" cy="302.4" r="3.4" fill="#111"/>
<path d="M1205.4 348.7 L1205.4 302.4 L1260.9 302.4" stroke="#111" stroke-width="1.69" fill="none"/>
<rect x="1218.6" y="298.4" width="24" height="8" fill="#fff" stroke="#111" stroke-width="1.7"/>
<path d="M1227.6 306.4 L1231.6 298.4 M1230.6 306.4 L1234.6 298.4" stroke="#111" stroke-width="1.3" fill="none"/>
<path d="M1260.9 302.4 L1394.4 302.4 L1394.4 475.5" stroke="#111" stroke-width="1.69" fill="none"/>
<rect x="1283.4" y="295.1" width="10" height="16" fill="#fff"/>
<rect x="1283.4" y="295.1" width="3.5" height="16" fill="#fff" stroke="#111" stroke-width="1.3"/>
<path d="M1291.9 295.1 V311.1" stroke="#111" stroke-width="3.2" fill="none"/>
<circle cx="1310.8" cy="302.4" r="3.4" fill="#111"/>
<rect x="1349.4" y="295.1" width="7" height="16" fill="#fff"/>
<path d="M1350.4 295.1 V311.1 M1355.4 295.1 V311.1" stroke="#111" stroke-width="3" fill="none"/>
<path d="M1310.8 302.4 L1310.8 475.5" stroke="#111" stroke-width="1.69" fill="none"/>
<rect x="1306.8" y="329.7" width="8" height="22" fill="#fff" stroke="#111" stroke-width="1.7"/>
<path d="M1306.8 336.7 L1314.8 341.7 M1306.8 340.7 L1314.8 345.7" stroke="#111" stroke-width="1.4" fill="none"/>
<circle cx="1310.8" cy="365.6" r="3.4" fill="#111"/>
<rect x="1306.8" y="378.2" width="8" height="24" fill="#fff" stroke="#111" stroke-width="1.7"/>
<circle cx="1311.4" cy="414.2" r="3.4" fill="#111"/>
<rect x="1307.4" y="427.1" width="8" height="22" fill="#fff" stroke="#111" stroke-width="1.7"/>
<path d="M1307.4 434.1 L1315.4 439.1 M1307.4 438.1 L1315.4 443.1" stroke="#111" stroke-width="1.4" fill="none"/>
<circle cx="1311.4" cy="475.5" r="3.4" fill="#111"/>
<path d="M1310.8 365.6 L1345.9 365.6 L1345.9 414.2 L1311.4 414.2" stroke="#111" stroke-width="1.69" fill="none"/>
<rect x="1330.2" y="358.6" width="7" height="14" fill="#fff"/>
<path d="M1331.2 358.6 V372.6 M1336.2 358.6 V372.6" stroke="#111" stroke-width="3" fill="none"/>
<rect x="1330.2" y="407.2" width="7" height="14" fill="#fff"/>
<path d="M1331.2 407.2 V421.2 M1336.2 407.2 V421.2" stroke="#111" stroke-width="3" fill="none"/>
<circle cx="1345.9" cy="382.2" r="3.4" fill="#111"/>
<path d="M1345.9 382.2 L1329.0 382.2 L1287.4 407.1" stroke="#111" stroke-width="1.69" fill="none"/>
<path d="M1285.2 408.4 L1291.5 401.3 L1294.5 406.5 Z" fill="#111"/>
<path d="M1345.9 382.2 L1382.3 380.0" stroke="#111" stroke-width="1.69" fill="none"/>
<rect x="1352.1" y="378.2" width="24" height="8" fill="#fff" stroke="#111" stroke-width="1.7"/>
<path d="M1361.1 386.2 L1365.1 378.2 M1364.1 386.2 L1368.1 378.2" stroke="#111" stroke-width="1.3" fill="none"/>
<circle cx="1382.3" cy="380.0" r="3.4" fill="#111"/>
<path d="M1382.3 380.0 L1382.3 348.7 L1431.1 348.7" stroke="#111" stroke-width="1.69" fill="none"/>
<rect x="1403.8" y="341.3" width="10" height="16" fill="#fff"/>
<rect x="1410.3" y="341.3" width="3.5" height="16" fill="#fff" stroke="#111" stroke-width="1.3"/>
<path d="M1405.3 341.3 V357.3" stroke="#111" stroke-width="3.2" fill="none"/>
<circle cx="1422.2" cy="348.7" r="3.4" fill="#111"/>
<rect x="1391.0" y="381.5" width="8" height="22" fill="#fff" stroke="#111" stroke-width="1.7"/>
<rect x="1386.0" y="434.6" width="18" height="7" fill="#fff"/>
<path d="M1386.0 435.6 H1404.0 M1386.0 440.6 H1404.0" stroke="#111" stroke-width="3" fill="none"/>
<circle cx="1394.4" cy="475.5" r="3.4" fill="#111"/>
<path d="M1382.3 380.0 L1410.4 397.6" stroke="#111" stroke-width="1.69" fill="none"/>
<path d="M1412.6 398.8 L1403.4 396.6 L1406.6 391.5 Z" fill="#111"/>
<path d="M1169.3 348.7 L1214.0 348.7" stroke="#111" stroke-width="1.69" fill="none"/>
<rect x="1180.3" y="340.7" width="10" height="16" fill="#fff"/>
<rect x="1186.8" y="340.7" width="3.5" height="16" fill="#fff" stroke="#111" stroke-width="1.3"/>
<path d="M1181.8 340.7 V356.7" stroke="#111" stroke-width="3.2" fill="none"/>
<circle cx="1205.4" cy="348.7" r="3.4" fill="#111"/>
<path d="M1169.3 348.7 L1169.3 423.7 L1137.4 443.5" stroke="#111" stroke-width="1.69" fill="none"/>
<path d="M1135.1 444.8 L1141.4 437.7 L1144.4 442.9 Z" fill="#111"/>
<circle cx="1239.6" cy="349.7" r="25" fill="#fff" stroke="#111" stroke-width="1.7"/>
<path d="M1237.6 338.7 V360.7" stroke="#111" stroke-width="5.5" fill="none"/>
<path d="M1214.6 349.7 H1237.6" stroke="#111" stroke-width="1.7"/>
<path d="M1239.6 345.7 L1260.35 335.7 M1239.6 353.7 L1260.35 363.7" stroke="#111" stroke-width="1.7" fill="none"/>
<path d="M1256.2 361.7 L1246.6 360.9 L1249.6 354.6 Z" fill="#111"/>
<circle cx="1456.7" cy="348.7" r="26" fill="#fff" stroke="#111" stroke-width="1.7"/>
<path d="M1454.7 337.7 V359.7" stroke="#111" stroke-width="5.5" fill="none"/>
<path d="M1430.7 348.7 H1454.7" stroke="#111" stroke-width="1.7"/>
<path d="M1456.7 344.7 L1478.28 334.14 M1456.7 352.7 L1478.28 363.26" stroke="#111" stroke-width="1.7" fill="none"/>
<path d="M1474.0 361.1 L1464.3 360.3 L1467.4 354.0 Z" fill="#111"/>
<path d="M1260.9 331.1 L1260.9 302.4" stroke="#111" stroke-width="1.69" fill="none"/>
<path d="M1260.9 367.9 L1260.9 475.5" stroke="#111" stroke-width="1.36" fill="none" stroke-dasharray="10 3"/>
<rect x="1256.9" y="427.1" width="8" height="22" fill="#fff" stroke="#111" stroke-width="1.7"/>
<path d="M1256.9 434.1 L1264.9 439.1 M1256.9 438.1 L1264.9 443.1" stroke="#111" stroke-width="1.4" fill="none"/>
<circle cx="1260.9" cy="475.5" r="3.4" fill="#111"/>
<path d="M1205.4 348.7 L1205.4 505.2" stroke="#111" stroke-width="1.69" fill="none"/>
<rect x="1201.4" y="427.1" width="8" height="22" fill="#fff" stroke="#111" stroke-width="1.7"/>
<path d="M1201.4 434.1 L1209.4 439.1 M1201.4 438.1 L1209.4 443.1" stroke="#111" stroke-width="1.4" fill="none"/>
<circle cx="1205.4" cy="475.5" r="3.4" fill="#111"/>
<path d="M1195.4 506.1 H1215.4" stroke="#111" stroke-width="4" fill="none"/>
<rect x="1111.0" y="369.6" width="8" height="22" fill="#fff" stroke="#111" stroke-width="1.7"/>
<rect x="1111.0" y="427.1" width="8" height="22" fill="#fff" stroke="#111" stroke-width="1.7"/>
<path d="M1111.0 434.1 L1119.0 439.1 M1111.0 438.1 L1119.0 443.1" stroke="#111" stroke-width="1.4" fill="none"/>
<path d="M1132.6 371.1 L1153.3 371.1 L1153.3 475.5" stroke="#111" stroke-width="1.69" fill="none"/>
<path d="M1132.6 371.1 L1091.1 394.4" stroke="#111" stroke-width="1.69" fill="none"/>
<path d="M1088.5 396.0 L1094.8 388.9 L1097.8 394.1 Z" fill="#111"/>
<rect x="1149.3" y="427.1" width="8" height="22" fill="#fff" stroke="#111" stroke-width="1.7"/>
<path d="M1149.3 434.1 L1157.3 439.1 M1149.3 438.1 L1157.3 443.1" stroke="#111" stroke-width="1.4" fill="none"/>
<circle cx="1153.3" cy="475.5" r="3.4" fill="#111"/>
<circle cx="1093.3" cy="353.5" r="10" fill="#fff" stroke="#111" stroke-width="1.2"/>
<text x="1093.3" y="358.0" font-size="14" font-style="italic" text-anchor="middle" fill="#111">B</text>
<circle cx="1134.8" cy="414.2" r="10" fill="#fff" stroke="#111" stroke-width="1.2"/>
<text x="1134.8" y="418.7" font-size="14" font-style="italic" text-anchor="middle" fill="#111">L</text>
<circle cx="1288.4" cy="365.6" r="10" fill="#fff" stroke="#111" stroke-width="1.2"/>
<text x="1288.4" y="370.1" font-size="14" font-style="italic" text-anchor="middle" fill="#111">T</text>
<circle cx="1378.4" cy="403.9" r="10" fill="#fff" stroke="#111" stroke-width="1.2"/>
<text x="1378.4" y="408.4" font-size="14" font-style="italic" text-anchor="middle" fill="#111">H</text>
<path d="M1422.2 475.5 L1422.2 273.0 L1479.0 273.0" stroke="#111" stroke-width="1.69" fill="none"/>
<rect x="1444.5" y="265.0" width="7" height="16" fill="#fff"/>
<path d="M1445.5 265.0 V281.0 M1450.5 265.0 V281.0" stroke="#111" stroke-width="3" fill="none"/>
<circle cx="1479.0" cy="273.0" r="3.4" fill="#111"/>
<path d="M1422.2 302.4 L1479.0 302.4" stroke="#111" stroke-width="1.69" fill="none"/>
<circle cx="1422.2" cy="302.4" r="3.4" fill="#111"/>
<rect x="1436.7" y="298.4" width="24" height="8" fill="#fff" stroke="#111" stroke-width="1.7"/>
<path d="M1445.7 306.4 L1449.7 298.4 M1448.7 306.4 L1452.7 298.4" stroke="#111" stroke-width="1.3" fill="none"/>
<circle cx="1479.0" cy="302.4" r="3.4" fill="#111"/>
<path d="M1478.1 233.8 L1478.1 334.3" stroke="#111" stroke-width="1.69" fill="none"/>
<rect x="1475.0" y="241.9" width="8" height="22" fill="#fff" stroke="#111" stroke-width="1.7"/>
<path d="M1475.0 248.9 L1483.0 253.9 M1475.0 252.9 L1483.0 257.9" stroke="#111" stroke-width="1.4" fill="none"/>
<path d="M1479.0 302.4 L1537.4 302.4 L1600.0 302.4" stroke="#111" stroke-width="1.69" fill="none"/>
<path d="M1522.1 233.8 V251.8" stroke="#111" stroke-width="1.5"/>
<rect x="1514.1" y="250.8" width="16" height="3.5" fill="#fff" stroke="#111" stroke-width="1.2"/>
<path d="M1514.1 258.8 H1530.1 M1514.1 274.8 H1530.1 M1514.1 284.3 H1530.1" stroke="#111" stroke-width="3.2"/>
<path d="M1522.1 258.8 V274.8 M1522.1 284.8 V294.8" stroke="#111" stroke-width="1.4"/>
<path d="M1478.1 364.7 L1479.0 371.1 L1479.0 475.5" stroke="#111" stroke-width="1.69" fill="none"/>
<rect x="1475.0" y="427.1" width="8" height="22" fill="#fff" stroke="#111" stroke-width="1.7"/>
<path d="M1475.0 434.1 L1483.0 439.1 M1475.0 438.1 L1483.0 443.1" stroke="#111" stroke-width="1.4" fill="none"/>
<rect x="1418.2" y="427.1" width="8" height="22" fill="#fff" stroke="#111" stroke-width="1.7"/>
<path d="M1418.2 434.1 L1426.2 439.1 M1418.2 438.1 L1426.2 443.1" stroke="#111" stroke-width="1.4" fill="none"/>
<circle cx="1422.2" cy="475.5" r="3.4" fill="#111"/>
<path d="M1482.2 331.1 L1490.8 331.1" stroke="#111" stroke-width="1.69" fill="none"/>
<rect x="1490.2" y="312.0" width="63.2" height="32.6" fill="#fff" stroke="#111" stroke-width="1.7"/>
<path d="M1501.5760000000002 328.3 H1542.0240000000001" stroke="#111" stroke-width="1.4"/>
<text x="1521.8000000000002" y="325.8" font-size="13" font-style="italic" text-anchor="middle" fill="#111">8,5 V</text>
<text x="1521.8000000000002" y="340.3" font-size="13" font-style="italic" text-anchor="middle" fill="#111">7,5 V</text>
<circle cx="1490.8" cy="331.1" r="3.4" fill="#111"/>
<path d="M1483.8 384.8 L1490.8 384.8" stroke="#111" stroke-width="1.69" fill="none"/>
<rect x="1490.2" y="368.8" width="63.2" height="33.2" fill="#fff" stroke="#111" stroke-width="1.7"/>
<path d="M1501.5760000000002 385.4 H1542.0240000000001" stroke="#111" stroke-width="1.4"/>
<text x="1521.8000000000002" y="382.9" font-size="13" font-style="italic" text-anchor="middle" fill="#111">0,8 V</text>
<text x="1521.8000000000002" y="397.4" font-size="13" font-style="italic" text-anchor="middle" fill="#111">0,7 V</text>
<circle cx="1490.8" cy="384.8" r="3.4" fill="#111"/>
<path d="M1263.5 411.0 L1270.5 417.4 L1270.5 512.2 L1276.9 512.2" stroke="#111" stroke-width="1.24" fill="none"/>
<rect x="1277.9" y="494.0" width="67.0" height="35.1" fill="#fff" stroke="#111" stroke-width="1.7" stroke-dasharray="9 3"/>
<path d="M1289.96 511.55 H1332.8400000000001" stroke="#111" stroke-width="1.4"/>
<text x="1311.4" y="509.05" font-size="13" font-style="italic" text-anchor="middle" fill="#111">0,8 V</text>
<text x="1311.4" y="523.55" font-size="13" font-style="italic" text-anchor="middle" fill="#111">0,7 V</text>
<circle cx="1276.9" cy="512.2" r="3.4" fill="#111"/>
<path d="M1269.9 302.4 L1269.9 158.1 L1279.5 158.1" stroke="#111" stroke-width="1.24" fill="none" stroke-dasharray="9 3"/>
<rect x="1279.5" y="141.2" width="68.6" height="35.1" fill="#fff" stroke="#111" stroke-width="1.7"/>
<path d="M1291.848 158.75 H1335.752" stroke="#111" stroke-width="1.4"/>
<text x="1313.8" y="156.25" font-size="13" font-style="italic" text-anchor="middle" fill="#111">8,5 V</text>
<text x="1313.8" y="170.75" font-size="13" font-style="italic" text-anchor="middle" fill="#111">7,5 V</text>
<circle cx="1279.5" cy="158.1" r="3.4" fill="#111"/>
<path d="M1381.0 229.6 L1381.0 158.1 L1396.0 158.1" stroke="#111" stroke-width="1.69" fill="none"/>
<rect x="1397.0" y="142.1" width="69.2" height="35.2" fill="#fff" stroke="#111" stroke-width="1.7"/>
<path d="M1409.456 159.7 H1453.744" stroke="#111" stroke-width="1.4"/>
<text x="1431.6" y="157.2" font-size="13" font-style="italic" text-anchor="middle" fill="#111">24 V</text>
<text x="1431.6" y="171.7" font-size="13" font-style="italic" text-anchor="middle" fill="#111">20 V</text>
<circle cx="1396.0" cy="158.1" r="3.4" fill="#111"/>
<path d="M1198.0 173.1 L1198.0 348.7" stroke="#111" stroke-width="1.36" fill="none"/>
<path d="M1198.0 128.8 L1220.0 150.8 L1198.0 172.8 L1176.0 150.8 Z" fill="#fff" stroke="#111" stroke-width="1.7"/>
<text x="1198.0" y="154.8" font-size="10" font-style="italic" text-anchor="middle" fill="#111">0,15V</text>
<path d="M1566.8 173.1 L1566.8 289.6" stroke="#111" stroke-width="1.36" fill="none"/>
<path d="M1566.8 124.9 L1588.8 146.9 L1566.8 168.9 L1544.8 146.9 Z" fill="#fff" stroke="#111" stroke-width="1.7"/>
<text x="1566.8" y="150.9" font-size="11" font-style="italic" text-anchor="middle" fill="#111">0,9V</text>
<text x="1084.7" y="256.8" font-size="10.8" font-style="italic" text-anchor="start" fill="#111">D1</text>
<text x="1080.9" y="269.5" font-size="10.8" font-style="italic" text-anchor="start" fill="#111">SZX</text>
<text x="1080.9" y="280.7" font-size="10.8" font-style="italic" text-anchor="start" fill="#111">1924</text>
<text x="1135.8" y="255.2" font-size="10.8" font-style="italic" text-anchor="start" fill="#111">C16</text>
<text x="1126.8" y="267.9" font-size="10.8" font-style="italic" text-anchor="start" fill="#111">470/40</text>
<text x="1226.8" y="262.2" font-size="12.0" font-style="italic" text-anchor="start" fill="#111">R29</text>
<text x="1228.4" y="275.0" font-size="12.0" font-style="italic" text-anchor="start" fill="#111">10K</text>
<text x="1202.2" y="291.9" font-size="12.0" font-style="italic" text-anchor="start" fill="#111">R28</text>
<text x="1231.6" y="291.9" font-size="12.0" font-style="italic" text-anchor="start" fill="#111">470K</text>
<text x="1281.1" y="283.3" font-size="10.8" font-style="italic" text-anchor="start" fill="#111">C18</text>
<text x="1277.9" y="294.1" font-size="10.8" font-style="italic" text-anchor="start" fill="#111">10/16</text>
<text x="1344.9" y="282.3" font-size="10.8" font-style="italic" text-anchor="start" fill="#111">C19</text>
<text x="1348.1" y="293.5" font-size="10.8" font-style="italic" text-anchor="start" fill="#111">1n</text>
<text x="1404.0" y="259.9" font-size="10.8" font-style="italic" text-anchor="start" fill="#111">C24</text>
<text x="1404.0" y="272.7" font-size="10.8" font-style="italic" text-anchor="start" fill="#111">47p</text>
<text x="1447.1" y="246.2" font-size="12.0" font-style="italic" text-anchor="start" fill="#111">R35</text>
<text x="1451.9" y="256.8" font-size="12.0" font-style="italic" text-anchor="start" fill="#111">10K</text>
<text x="1487.0" y="258.4" font-size="12.0" font-style="italic" text-anchor="start" fill="#111">C36</text>
<text x="1483.2" y="271.1" font-size="10.8" font-style="italic" text-anchor="start" fill="#111">470/63</text>
<text x="1491.8" y="216.8" font-size="12.0" font-style="italic" text-anchor="start" fill="#111">R39</text>
<text x="1493.4" y="228.0" font-size="12.0" font-style="italic" text-anchor="start" fill="#111">1,5K</text>
<text x="1440.7" y="293.5" font-size="12.0" font-style="italic" text-anchor="start" fill="#111">R36</text>
<text x="1435.9" y="317.4" font-size="12.0" font-style="italic" text-anchor="start" fill="#111">470K</text>
<text x="1172.5" y="338.2" font-size="12.0" font-style="italic" text-anchor="start" fill="#111">C17</text>
<text x="1169.3" y="368.5" font-size="12.0" font-style="italic" text-anchor="start" fill="#111">4,7/16</text>
<text x="1399.2" y="328.6" font-size="10.8" font-style="italic" text-anchor="start" fill="#111">C23</text>
<text x="1396.0" y="339.8" font-size="10.8" font-style="italic" text-anchor="start" fill="#111">4,7/16</text>
<text x="1276.3" y="338.2" font-size="12.0" font-style="italic" text-anchor="start" fill="#111">R31</text>
<text x="1279.5" y="351.6" font-size="12.0" font-style="italic" text-anchor="start" fill="#111">10K</text>
<text x="1325.8" y="344.6" font-size="10.8" font-style="italic" text-anchor="start" fill="#111">C20</text>
<text x="1327.4" y="355.7" font-size="10.8" font-style="italic" text-anchor="start" fill="#111">10n</text>
<text x="1354.5" y="364.4" font-size="10.8" font-style="italic" text-anchor="start" fill="#111">R21</text>
<text x="1356.1" y="374.9" font-size="10.8" font-style="italic" text-anchor="start" fill="#111">10K</text>
<text x="1269.9" y="386.1" font-size="12.0" font-style="italic" text-anchor="start" fill="#111">R32</text>
<text x="1265.1" y="398.8" font-size="12.0" font-style="italic" text-anchor="start" fill="#111">100K1</text>
<text x="1324.2" y="403.6" font-size="10.8" font-style="italic" text-anchor="start" fill="#111">C21</text>
<text x="1319.4" y="434.0" font-size="12.0" font-style="italic" text-anchor="start" fill="#111">0,22µ</text>
<text x="1400.8" y="388.6" font-size="10.8" font-style="italic" text-anchor="start" fill="#111">R34</text>
<text x="1400.8" y="414.8" font-size="12.0" font-style="italic" text-anchor="start" fill="#111">10K1</text>
<text x="1276.3" y="434.0" font-size="12.0" font-style="italic" text-anchor="start" fill="#111">R33</text>
<text x="1276.3" y="447.4" font-size="12.0" font-style="italic" text-anchor="start" fill="#111">820</text>
<text x="1362.5" y="433.3" font-size="12.0" font-style="italic" text-anchor="start" fill="#111">C22</text>
<text x="1360.9" y="446.7" font-size="12.0" font-style="italic" text-anchor="start" fill="#111">22n</text>
<text x="1431.1" y="432.4" font-size="12.0" font-style="italic" text-anchor="start" fill="#111">R37</text>
<text x="1431.1" y="445.1" font-size="12.0" font-style="italic" text-anchor="start" fill="#111">120K</text>
<text x="1488.6" y="432.4" font-size="12.0" font-style="italic" text-anchor="start" fill="#111">R38</text>
<text x="1490.2" y="445.1" font-size="12.0" font-style="italic" text-anchor="start" fill="#111">620</text>
<text x="1223.6" y="434.6" font-size="12.0" font-style="italic" text-anchor="start" fill="#111">R30</text>
<text x="1225.2" y="448.3" font-size="12.0" font-style="italic" text-anchor="start" fill="#111">620</text>
<text x="1169.3" y="434.0" font-size="12.0" font-style="italic" text-anchor="start" fill="#111">R27</text>
<text x="1170.9" y="447.4" font-size="12.0" font-style="italic" text-anchor="start" fill="#111">120K</text>
<text x="1084.7" y="434.0" font-size="12.0" font-style="italic" text-anchor="start" fill="#111">R25</text>
<text x="1087.9" y="448.3" font-size="12.0" font-style="italic" text-anchor="start" fill="#111">1K</text>
<text x="1123.0" y="434.0" font-size="12.0" font-style="italic" text-anchor="start" fill="#111">R26</text>
<text x="1121.4" y="459.5" font-size="12.0" font-style="italic" text-anchor="start" fill="#111">10K2</text>
<text x="1081.5" y="374.9" font-size="10.8" font-style="italic" text-anchor="start" fill="#111">R24</text>
<text x="1079.9" y="386.1" font-size="10.8" font-style="italic" text-anchor="start" fill="#111">10K1</text>
<text x="1225.2" y="389.3" font-size="17" font-style="italic" text-anchor="start" fill="#111">T4</text>
<text x="1440.7" y="389.3" font-size="17" font-style="italic" text-anchor="start" fill="#111">T5</text>
<text x="1282.7" y="255.2" font-size="19" font-style="italic" textLength="97.3" lengthAdjust="spacingAndGlyphs" text-anchor="start" fill="#111">2×SC 239d</text>
<path d="M1040.0 621.8 L1537.4 621.8 L1600.0 623.7" stroke="#111" stroke-width="1.69" fill="none"/>
<circle cx="1114.1" cy="621.8" r="3.4" fill="#111"/>
<circle cx="1170.9" cy="621.8" r="3.4" fill="#111"/>
<circle cx="1259.7" cy="621.8" r="3.4" fill="#111"/>
<circle cx="1478.1" cy="621.8" r="3.4" fill="#111"/>
<circle cx="1522.1" cy="621.8" r="3.4" fill="#111"/>
<rect x="1492.6" y="617.8" width="24" height="8" fill="#fff" stroke="#111" stroke-width="1.7"/>
<path d="M1501.6 625.8 L1505.6 617.8 M1504.6 625.8 L1508.6 617.8" stroke="#111" stroke-width="1.3" fill="none"/>
<path d="M1040.0 690.4 L1115.0 690.4 L1115.0 863.5 L1479.0 863.5" stroke="#111" stroke-width="1.69" fill="none"/>
<path d="M1114.1 621.8 L1114.1 673.8" stroke="#111" stroke-width="1.69" fill="none"/>
<path d="M1107.1 653.3 L1121.1 653.3 L1114.1 641.3 Z" fill="#111"/>
<path d="M1107.1 641.3 H1121.1" stroke="#111" stroke-width="2.2"/>
<path d="M1105.1 674.4 H1123.1" stroke="#111" stroke-width="4" fill="none"/>
<path d="M1170.9 621.8 L1170.9 673.8" stroke="#111" stroke-width="1.69" fill="none"/>
<rect x="1161.9" y="640.7" width="18" height="10" fill="#fff"/>
<rect x="1161.9" y="640.7" width="18" height="3.5" fill="#fff" stroke="#111" stroke-width="1.3"/>
<path d="M1161.9 649.2 H1179.9" stroke="#111" stroke-width="3.2" fill="none"/>
<path d="M1163.5 674.4 H1181.5" stroke="#111" stroke-width="4" fill="none"/>
<path d="M1259.7 621.8 L1259.7 690.4" stroke="#111" stroke-width="1.69" fill="none"/>
<rect x="1256.3" y="641.1" width="8" height="22" fill="#fff" stroke="#111" stroke-width="1.7"/>
<path d="M1256.3 648.1 L1264.3 653.1 M1256.3 652.1 L1264.3 657.1" stroke="#111" stroke-width="1.4" fill="none"/>
<circle cx="1260.9" cy="690.4" r="3.4" fill="#111"/>
<path d="M1205.4 736.7 L1205.4 690.4 L1260.9 690.4" stroke="#111" stroke-width="1.69" fill="none"/>
<rect x="1218.6" y="686.4" width="24" height="8" fill="#fff" stroke="#111" stroke-width="1.7"/>
<path d="M1227.6 694.4 L1231.6 686.4 M1230.6 694.4 L1234.6 686.4" stroke="#111" stroke-width="1.3" fill="none"/>
<path d="M1260.9 690.4 L1394.4 690.4 L1394.4 863.5" stroke="#111" stroke-width="1.69" fill="none"/>
<rect x="1283.4" y="683.1" width="10" height="16" fill="#fff"/>
<rect x="1283.4" y="683.1" width="3.5" height="16" fill="#fff" stroke="#111" stroke-width="1.3"/>
<path d="M1291.9 683.1 V699.1" stroke="#111" stroke-width="3.2" fill="none"/>
<circle cx="1310.8" cy="690.4" r="3.4" fill="#111"/>
<rect x="1349.4" y="683.1" width="7" height="16" fill="#fff"/>
<path d="M1350.4 683.1 V699.1 M1355.4 683.1 V699.1" stroke="#111" stroke-width="3" fill="none"/>
<path d="M1310.8 690.4 L1310.8 863.5" stroke="#111" stroke-width="1.69" fill="none"/>
<rect x="1306.8" y="717.7" width="8" height="22" fill="#fff" stroke="#111" stroke-width="1.7"/>
<path d="M1306.8 724.7 L1314.8 729.7 M1306.8 728.7 L1314.8 733.7" stroke="#111" stroke-width="1.4" fill="none"/>
<circle cx="1310.8" cy="753.6" r="3.4" fill="#111"/>
<rect x="1306.8" y="766.2" width="8" height="24" fill="#fff" stroke="#111" stroke-width="1.7"/>
<circle cx="1311.4" cy="802.2" r="3.4" fill="#111"/>
<rect x="1307.4" y="815.1" width="8" height="22" fill="#fff" stroke="#111" stroke-width="1.7"/>
<path d="M1307.4 822.1 L1315.4 827.1 M1307.4 826.1 L1315.4 831.1" stroke="#111" stroke-width="1.4" fill="none"/>
<circle cx="1311.4" cy="863.5" r="3.4" fill="#111"/>
<path d="M1310.8 753.6 L1345.9 753.6 L1345.9 802.2 L1311.4 802.2" stroke="#111" stroke-width="1.69" fill="none"/>
<rect x="1330.2" y="746.6" width="7" height="14" fill="#fff"/>
<path d="M1331.2 746.6 V760.6 M1336.2 746.6 V760.6" stroke="#111" stroke-width="3" fill="none"/>
<rect x="1330.2" y="795.2" width="7" height="14" fill="#fff"/>
<path d="M1331.2 795.2 V809.2 M1336.2 795.2 V809.2" stroke="#111" stroke-width="3" fill="none"/>
<circle cx="1345.9" cy="770.2" r="3.4" fill="#111"/>
<path d="M1345.9 770.2 L1329.0 770.2 L1287.4 795.1" stroke="#111" stroke-width="1.69" fill="none"/>
<path d="M1285.2 796.4 L1291.5 789.3 L1294.5 794.5 Z" fill="#111"/>
<path d="M1345.9 770.2 L1382.3 768.0" stroke="#111" stroke-width="1.69" fill="none"/>
<rect x="1352.1" y="766.2" width="24" height="8" fill="#fff" stroke="#111" stroke-width="1.7"/>
<path d="M1361.1 774.2 L1365.1 766.2 M1364.1 774.2 L1368.1 766.2" stroke="#111" stroke-width="1.3" fill="none"/>
<circle cx="1382.3" cy="768.0" r="3.4" fill="#111"/>
<path d="M1382.3 768.0 L1382.3 736.7 L1431.1 736.7" stroke="#111" stroke-width="1.69" fill="none"/>
<rect x="1403.8" y="729.3" width="10" height="16" fill="#fff"/>
<rect x="1410.3" y="729.3" width="3.5" height="16" fill="#fff" stroke="#111" stroke-width="1.3"/>
<path d="M1405.3 729.3 V745.3" stroke="#111" stroke-width="3.2" fill="none"/>
<circle cx="1422.2" cy="736.7" r="3.4" fill="#111"/>
<rect x="1391.0" y="769.5" width="8" height="22" fill="#fff" stroke="#111" stroke-width="1.7"/>
<rect x="1386.0" y="822.6" width="18" height="7" fill="#fff"/>
<path d="M1386.0 823.6 H1404.0 M1386.0 828.6 H1404.0" stroke="#111" stroke-width="3" fill="none"/>
<circle cx="1394.4" cy="863.5" r="3.4" fill="#111"/>
<path d="M1382.3 768.0 L1410.4 785.6" stroke="#111" stroke-width="1.69" fill="none"/>
<path d="M1412.6 786.8 L1403.4 784.6 L1406.6 779.5 Z" fill="#111"/>
<path d="M1169.3 736.7 L1214.0 736.7" stroke="#111" stroke-width="1.69" fill="none"/>
<rect x="1180.3" y="728.7" width="10" height="16" fill="#fff"/>
<rect x="1186.8" y="728.7" width="3.5" height="16" fill="#fff" stroke="#111" stroke-width="1.3"/>
<path d="M1181.8 728.7 V744.7" stroke="#111" stroke-width="3.2" fill="none"/>
<circle cx="1205.4" cy="736.7" r="3.4" fill="#111"/>
<path d="M1169.3 736.7 L1169.3 811.7 L1137.4 831.5" stroke="#111" stroke-width="1.69" fill="none"/>
<path d="M1135.1 832.8 L1141.4 825.7 L1144.4 830.9 Z" fill="#111"/>
<circle cx="1239.6" cy="737.7" r="25" fill="#fff" stroke="#111" stroke-width="1.7"/>
<path d="M1237.6 726.7 V748.7" stroke="#111" stroke-width="5.5" fill="none"/>
<path d="M1214.6 737.7 H1237.6" stroke="#111" stroke-width="1.7"/>
<path d="M1239.6 733.7 L1260.35 723.7 M1239.6 741.7 L1260.35 751.7" stroke="#111" stroke-width="1.7" fill="none"/>
<path d="M1256.2 749.7 L1246.6 748.9 L1249.6 742.6 Z" fill="#111"/>
<circle cx="1456.7" cy="736.7" r="26" fill="#fff" stroke="#111" stroke-width="1.7"/>
<path d="M1454.7 725.7 V747.7" stroke="#111" stroke-width="5.5" fill="none"/>
<path d="M1430.7 736.7 H1454.7" stroke="#111" stroke-width="1.7"/>
<path d="M1456.7 732.7 L1478.28 722.1400000000001 M1456.7 740.7 L1478.28 751.26" stroke="#111" stroke-width="1.7" fill="none"/>
<path d="M1474.0 749.1 L1464.3 748.3 L1467.4 742.0 Z" fill="#111"/>
<path d="M1260.9 719.1 L1260.9 690.4" stroke="#111" stroke-width="1.69" fill="none"/>
<path d="M1260.9 755.9 L1260.9 863.5" stroke="#111" stroke-width="1.36" fill="none" stroke-dasharray="10 3"/>
<rect x="1256.9" y="815.1" width="8" height="22" fill="#fff" stroke="#111" stroke-width="1.7"/>
<path d="M1256.9 822.1 L1264.9 827.1 M1256.9 826.1 L1264.9 831.1" stroke="#111" stroke-width="1.4" fill="none"/>
<circle cx="1260.9" cy="863.5" r="3.4" fill="#111"/>
<path d="M1205.4 736.7 L1205.4 893.2" stroke="#111" stroke-width="1.69" fill="none"/>
<rect x="1201.4" y="815.1" width="8" height="22" fill="#fff" stroke="#111" stroke-width="1.7"/>
<path d="M1201.4 822.1 L1209.4 827.1 M1201.4 826.1 L1209.4 831.1" stroke="#111" stroke-width="1.4" fill="none"/>
<circle cx="1205.4" cy="863.5" r="3.4" fill="#111"/>
<path d="M1195.4 894.1 H1215.4" stroke="#111" stroke-width="4" fill="none"/>
<rect x="1111.0" y="757.6" width="8" height="22" fill="#fff" stroke="#111" stroke-width="1.7"/>
<rect x="1111.0" y="815.1" width="8" height="22" fill="#fff" stroke="#111" stroke-width="1.7"/>
<path d="M1111.0 822.1 L1119.0 827.1 M1111.0 826.1 L1119.0 831.1" stroke="#111" stroke-width="1.4" fill="none"/>
<path d="M1132.6 759.1 L1153.3 759.1 L1153.3 863.5" stroke="#111" stroke-width="1.69" fill="none"/>
<path d="M1132.6 759.1 L1091.1 782.4" stroke="#111" stroke-width="1.69" fill="none"/>
<path d="M1088.5 784.0 L1094.8 776.9 L1097.8 782.1 Z" fill="#111"/>
<rect x="1149.3" y="815.1" width="8" height="22" fill="#fff" stroke="#111" stroke-width="1.7"/>
<path d="M1149.3 822.1 L1157.3 827.1 M1149.3 826.1 L1157.3 831.1" stroke="#111" stroke-width="1.4" fill="none"/>
<circle cx="1153.3" cy="863.5" r="3.4" fill="#111"/>
<circle cx="1093.3" cy="741.5" r="10" fill="#fff" stroke="#111" stroke-width="1.2"/>
<text x="1093.3" y="746.0" font-size="14" font-style="italic" text-anchor="middle" fill="#111">B</text>
<circle cx="1134.8" cy="802.2" r="10" fill="#fff" stroke="#111" stroke-width="1.2"/>
<text x="1134.8" y="806.7" font-size="14" font-style="italic" text-anchor="middle" fill="#111">L</text>
<circle cx="1288.4" cy="753.6" r="10" fill="#fff" stroke="#111" stroke-width="1.2"/>
<text x="1288.4" y="758.1" font-size="14" font-style="italic" text-anchor="middle" fill="#111">T</text>
<circle cx="1378.4" cy="791.9" r="10" fill="#fff" stroke="#111" stroke-width="1.2"/>
<text x="1378.4" y="796.4" font-size="14" font-style="italic" text-anchor="middle" fill="#111">H</text>
<path d="M1422.2 863.5 L1422.2 661.0 L1479.0 661.0" stroke="#111" stroke-width="1.69" fill="none"/>
<rect x="1444.5" y="653.0" width="7" height="16" fill="#fff"/>
<path d="M1445.5 653.0 V669.0 M1450.5 653.0 V669.0" stroke="#111" stroke-width="3" fill="none"/>
<circle cx="1479.0" cy="661.0" r="3.4" fill="#111"/>
<path d="M1422.2 690.4 L1479.0 690.4" stroke="#111" stroke-width="1.69" fill="none"/>
<circle cx="1422.2" cy="690.4" r="3.4" fill="#111"/>
<rect x="1436.7" y="686.4" width="24" height="8" fill="#fff" stroke="#111" stroke-width="1.7"/>
<path d="M1445.7 694.4 L1449.7 686.4 M1448.7 694.4 L1452.7 686.4" stroke="#111" stroke-width="1.3" fill="none"/>
<circle cx="1479.0" cy="690.4" r="3.4" fill="#111"/>
<path d="M1478.1 621.8 L1478.1 722.3" stroke="#111" stroke-width="1.69" fill="none"/>
<rect x="1475.0" y="629.9" width="8" height="22" fill="#fff" stroke="#111" stroke-width="1.7"/>
<path d="M1475.0 636.9 L1483.0 641.9 M1475.0 640.9 L1483.0 645.9" stroke="#111" stroke-width="1.4" fill="none"/>
<path d="M1479.0 690.4 L1537.4 690.4 L1600.0 689.1" stroke="#111" stroke-width="1.69" fill="none"/>
<path d="M1522.1 621.8 V639.8" stroke="#111" stroke-width="1.5"/>
<rect x="1514.1" y="638.8" width="16" height="3.5" fill="#fff" stroke="#111" stroke-width="1.2"/>
<path d="M1514.1 646.8 H1530.1 M1514.1 662.8 H1530.1 M1514.1 672.3 H1530.1" stroke="#111" stroke-width="3.2"/>
<path d="M1522.1 646.8 V662.8 M1522.1 672.8 V682.8" stroke="#111" stroke-width="1.4"/>
<path d="M1478.1 752.7 L1479.0 759.1 L1479.0 863.5" stroke="#111" stroke-width="1.69" fill="none"/>
<rect x="1475.0" y="815.1" width="8" height="22" fill="#fff" stroke="#111" stroke-width="1.7"/>
<path d="M1475.0 822.1 L1483.0 827.1 M1475.0 826.1 L1483.0 831.1" stroke="#111" stroke-width="1.4" fill="none"/>
<rect x="1418.2" y="815.1" width="8" height="22" fill="#fff" stroke="#111" stroke-width="1.7"/>
<path d="M1418.2 822.1 L1426.2 827.1 M1418.2 826.1 L1426.2 831.1" stroke="#111" stroke-width="1.4" fill="none"/>
<circle cx="1422.2" cy="863.5" r="3.4" fill="#111"/>
<path d="M1482.2 719.1 L1490.8 719.1" stroke="#111" stroke-width="1.69" fill="none"/>
<rect x="1490.2" y="700.0" width="63.2" height="32.6" fill="#fff" stroke="#111" stroke-width="1.7"/>
<path d="M1501.5760000000002 716.3 H1542.0240000000001" stroke="#111" stroke-width="1.4"/>
<text x="1521.8000000000002" y="713.8" font-size="13" font-style="italic" text-anchor="middle" fill="#111">8,5 V</text>
<text x="1521.8000000000002" y="728.3" font-size="13" font-style="italic" text-anchor="middle" fill="#111">7,5 V</text>
<circle cx="1490.8" cy="719.1" r="3.4" fill="#111"/>
<path d="M1483.8 772.8 L1490.8 772.8" stroke="#111" stroke-width="1.69" fill="none"/>
<rect x="1490.2" y="756.8" width="63.2" height="33.2" fill="#fff" stroke="#111" stroke-width="1.7"/>
<path d="M1501.5760000000002 773.4 H1542.0240000000001" stroke="#111" stroke-width="1.4"/>
<text x="1521.8000000000002" y="770.9" font-size="13" font-style="italic" text-anchor="middle" fill="#111">0,8 V</text>
<text x="1521.8000000000002" y="785.4" font-size="13" font-style="italic" text-anchor="middle" fill="#111">0,7 V</text>
<circle cx="1490.8" cy="772.8" r="3.4" fill="#111"/>
<path d="M1263.5 799.0 L1270.5 805.4 L1270.5 897.2 L1281.7 897.2" stroke="#111" stroke-width="1.24" fill="none"/>
<rect x="1282.7" y="879.0" width="67.0" height="35.1" fill="#fff" stroke="#111" stroke-width="1.7" stroke-dasharray="9 3"/>
<path d="M1294.76 896.55 H1337.64" stroke="#111" stroke-width="1.4"/>
<text x="1316.2" y="894.05" font-size="13" font-style="italic" text-anchor="middle" fill="#111">0,8 V</text>
<text x="1316.2" y="908.55" font-size="13" font-style="italic" text-anchor="middle" fill="#111">0,7 V</text>
<circle cx="1281.7" cy="897.2" r="3.4" fill="#111"/>
<path d="M1269.9 690.4 L1269.9 588.6 L1279.5 588.6" stroke="#111" stroke-width="1.24" fill="none" stroke-dasharray="9 3"/>
<rect x="1279.5" y="571.6" width="68.6" height="35.2" fill="#fff" stroke="#111" stroke-width="1.7"/>
<path d="M1291.848 589.2 H1335.752" stroke="#111" stroke-width="1.4"/>
<text x="1313.8" y="586.7" font-size="13" font-style="italic" text-anchor="middle" fill="#111">8,5 V</text>
<text x="1313.8" y="601.2" font-size="13" font-style="italic" text-anchor="middle" fill="#111">7,5 V</text>
<circle cx="1279.5" cy="588.6" r="3.4" fill="#111"/>
<path d="M1381.0 617.6 L1381.0 588.6 L1396.0 588.6" stroke="#111" stroke-width="1.69" fill="none"/>
<rect x="1397.0" y="572.6" width="69.2" height="35.1" fill="#fff" stroke="#111" stroke-width="1.7"/>
<path d="M1409.456 590.1500000000001 H1453.744" stroke="#111" stroke-width="1.4"/>
<text x="1431.6" y="587.6500000000001" font-size="13" font-style="italic" text-anchor="middle" fill="#111">24 V</text>
<text x="1431.6" y="602.1500000000001" font-size="13" font-style="italic" text-anchor="middle" fill="#111">20 V</text>
<circle cx="1396.0" cy="588.6" r="3.4" fill="#111"/>
<path d="M1198.0 603.6 L1198.0 736.7" stroke="#111" stroke-width="1.36" fill="none"/>
<path d="M1198.0 559.2 L1220.0 581.2 L1198.0 603.2 L1176.0 581.2 Z" fill="#fff" stroke="#111" stroke-width="1.7"/>
<text x="1198.0" y="585.2" font-size="10" font-style="italic" text-anchor="middle" fill="#111">0,15V</text>
<path d="M1566.8 603.6 L1566.8 690.4" stroke="#111" stroke-width="1.36" fill="none"/>
<path d="M1566.8 559.2 L1588.8 581.2 L1566.8 603.2 L1544.8 581.2 Z" fill="#fff" stroke="#111" stroke-width="1.7"/>
<text x="1566.8" y="585.2" font-size="11" font-style="italic" text-anchor="middle" fill="#111">0,9V</text>
<text x="1084.7" y="644.8" font-size="10.8" font-style="italic" text-anchor="start" fill="#111">D101</text>
<text x="1080.9" y="657.5" font-size="10.8" font-style="italic" text-anchor="start" fill="#111">SZX</text>
<text x="1080.9" y="668.7" font-size="10.8" font-style="italic" text-anchor="start" fill="#111">1924</text>
<text x="1127.8" y="643.2" font-size="10.8" font-style="italic" text-anchor="start" fill="#111">C116</text>
<text x="1126.8" y="655.9" font-size="10.8" font-style="italic" text-anchor="start" fill="#111">470/40</text>
<text x="1226.8" y="650.2" font-size="12.0" font-style="italic" text-anchor="start" fill="#111">R129</text>
<text x="1228.4" y="663.0" font-size="12.0" font-style="italic" text-anchor="start" fill="#111">10K</text>
<text x="1202.2" y="679.9" font-size="12.0" font-style="italic" text-anchor="start" fill="#111">R128</text>
<text x="1231.6" y="679.9" font-size="12.0" font-style="italic" text-anchor="start" fill="#111">470K</text>
<text x="1281.1" y="671.3" font-size="10.8" font-style="italic" text-anchor="start" fill="#111">C118</text>
<text x="1277.9" y="682.1" font-size="10.8" font-style="italic" text-anchor="start" fill="#111">10/16</text>
<text x="1344.9" y="670.3" font-size="10.8" font-style="italic" text-anchor="start" fill="#111">C119</text>
<text x="1348.1" y="681.5" font-size="10.8" font-style="italic" text-anchor="start" fill="#111">1n</text>
<text x="1404.0" y="647.9" font-size="10.8" font-style="italic" text-anchor="start" fill="#111">C124</text>
<text x="1404.0" y="660.7" font-size="10.8" font-style="italic" text-anchor="start" fill="#111">47p</text>
<text x="1437.5" y="629.4" font-size="12.0" font-style="italic" text-anchor="start" fill="#111">R135</text>
<text x="1451.9" y="644.8" font-size="12.0" font-style="italic" text-anchor="start" fill="#111">10K</text>
<text x="1487.0" y="646.4" font-size="12.0" font-style="italic" text-anchor="start" fill="#111">C136</text>
<text x="1483.2" y="659.1" font-size="10.8" font-style="italic" text-anchor="start" fill="#111">470/63</text>
<text x="1488.6" y="600.1" font-size="12.0" font-style="italic" text-anchor="start" fill="#111">R139</text>
<text x="1490.2" y="611.2" font-size="12.0" font-style="italic" text-anchor="start" fill="#111">1,5K</text>
<text x="1440.7" y="681.5" font-size="12.0" font-style="italic" text-anchor="start" fill="#111">R136</text>
<text x="1435.9" y="705.4" font-size="12.0" font-style="italic" text-anchor="start" fill="#111">470K</text>
<text x="1167.7" y="726.2" font-size="12.0" font-style="italic" text-anchor="start" fill="#111">C117</text>
<text x="1169.3" y="756.5" font-size="12.0" font-style="italic" text-anchor="start" fill="#111">4,7/16</text>
<text x="1399.2" y="716.6" font-size="10.8" font-style="italic" text-anchor="start" fill="#111">C123</text>
<text x="1396.0" y="727.8" font-size="10.8" font-style="italic" text-anchor="start" fill="#111">4,7/16</text>
<text x="1276.3" y="726.2" font-size="12.0" font-style="italic" text-anchor="start" fill="#111">R131</text>
<text x="1279.5" y="739.6" font-size="12.0" font-style="italic" text-anchor="start" fill="#111">10K</text>
<text x="1325.8" y="732.6" font-size="10.8" font-style="italic" text-anchor="start" fill="#111">C120</text>
<text x="1327.4" y="743.7" font-size="10.8" font-style="italic" text-anchor="start" fill="#111">10n</text>
<text x="1354.5" y="752.4" font-size="10.8" font-style="italic" text-anchor="start" fill="#111">R121</text>
<text x="1356.1" y="762.9" font-size="10.8" font-style="italic" text-anchor="start" fill="#111">10K</text>
<text x="1265.1" y="774.1" font-size="12.0" font-style="italic" text-anchor="start" fill="#111">R132</text>
<text x="1265.1" y="786.8" font-size="12.0" font-style="italic" text-anchor="start" fill="#111">100K1</text>
<text x="1324.2" y="791.6" font-size="10.8" font-style="italic" text-anchor="start" fill="#111">C121</text>
<text x="1319.4" y="822.0" font-size="12.0" font-style="italic" text-anchor="start" fill="#111">0,22µ</text>
<text x="1400.8" y="776.6" font-size="10.8" font-style="italic" text-anchor="start" fill="#111">R134</text>
<text x="1400.8" y="802.8" font-size="12.0" font-style="italic" text-anchor="start" fill="#111">10K1</text>
<text x="1276.3" y="822.0" font-size="12.0" font-style="italic" text-anchor="start" fill="#111">R133</text>
<text x="1276.3" y="835.4" font-size="12.0" font-style="italic" text-anchor="start" fill="#111">820</text>
<text x="1357.7" y="821.3" font-size="12.0" font-style="italic" text-anchor="start" fill="#111">C122</text>
<text x="1360.9" y="834.7" font-size="12.0" font-style="italic" text-anchor="start" fill="#111">22n</text>
<text x="1431.1" y="820.4" font-size="12.0" font-style="italic" text-anchor="start" fill="#111">R137</text>
<text x="1431.1" y="833.1" font-size="12.0" font-style="italic" text-anchor="start" fill="#111">120K</text>
<text x="1488.6" y="820.4" font-size="12.0" font-style="italic" text-anchor="start" fill="#111">R138</text>
<text x="1490.2" y="833.1" font-size="12.0" font-style="italic" text-anchor="start" fill="#111">620</text>
<text x="1223.6" y="822.6" font-size="12.0" font-style="italic" text-anchor="start" fill="#111">R130</text>
<text x="1225.2" y="836.3" font-size="12.0" font-style="italic" text-anchor="start" fill="#111">620</text>
<text x="1169.3" y="822.0" font-size="12.0" font-style="italic" text-anchor="start" fill="#111">R127</text>
<text x="1170.9" y="835.4" font-size="12.0" font-style="italic" text-anchor="start" fill="#111">120K</text>
<text x="1079.9" y="822.0" font-size="12.0" font-style="italic" text-anchor="start" fill="#111">R125</text>
<text x="1087.9" y="836.3" font-size="12.0" font-style="italic" text-anchor="start" fill="#111">1K</text>
<text x="1123.0" y="822.0" font-size="12.0" font-style="italic" text-anchor="start" fill="#111">R126</text>
<text x="1121.4" y="847.5" font-size="12.0" font-style="italic" text-anchor="start" fill="#111">10K2</text>
<text x="1078.3" y="762.9" font-size="10.8" font-style="italic" text-anchor="start" fill="#111">R124</text>
<text x="1079.9" y="774.1" font-size="10.8" font-style="italic" text-anchor="start" fill="#111">10K1</text>
<text x="1214.0" y="777.3" font-size="17" font-style="italic" text-anchor="start" fill="#111">T104</text>
<text x="1432.7" y="777.3" font-size="17" font-style="italic" text-anchor="start" fill="#111">T105</text>
<text x="1282.7" y="643.2" font-size="19" font-style="italic" textLength="97.3" lengthAdjust="spacingAndGlyphs" text-anchor="start" fill="#111">2×SC 239d</text>
<text x="1208.6" y="215.6" font-size="15" font-style="italic" textLength="145.9" lengthAdjust="spacingAndGlyphs" text-anchor="start" fill="#111">Leiterplatte 2.2b</text>
<text x="1269.2" y="551.5" font-size="16" font-style="italic" textLength="107.6" lengthAdjust="spacingAndGlyphs" text-anchor="start" fill="#111">linker Kanal</text>
<text x="1261.9" y="943.6" font-size="16" font-style="italic" textLength="129.3" lengthAdjust="spacingAndGlyphs" text-anchor="start" fill="#111">rechter Kanal</text>
<path d="M1599.8 233.8 L2001.6 237.0" stroke="#111" stroke-width="1.69" fill="none"/>
<rect x="1615.3" y="228.8" width="22" height="8" fill="#fff" stroke="#111" stroke-width="1.7"/>
<path d="M1623.3 236.8 L1627.3 228.8 M1626.3 236.8 L1630.3 228.8" stroke="#111" stroke-width="1.3" fill="none"/>
<circle cx="1659.8" cy="234.8" r="3.4" fill="#111"/>
<circle cx="1835.5" cy="235.4" r="3.4" fill="#111"/>
<circle cx="2001.6" cy="237.0" r="3.4" fill="#111"/>
<path d="M1599.8 302.5 L1621.5 302.5 L1621.5 460.6 L1661.4 461.5" stroke="#111" stroke-width="1.69" fill="none"/>
<rect x="1634.1" y="453.5" width="10" height="16" fill="#fff"/>
<rect x="1640.6" y="453.5" width="3.5" height="16" fill="#fff" stroke="#111" stroke-width="1.3"/>
<path d="M1635.6 453.5 V469.5" stroke="#111" stroke-width="3.2" fill="none"/>
<circle cx="1661.4" cy="461.5" r="3.4" fill="#111"/>
<path d="M1659.8 234.8 L1659.8 264.1" stroke="#111" stroke-width="1.69" fill="none"/>
<rect x="1655.8" y="247.2" width="8" height="18" fill="#fff" stroke="#111" stroke-width="1.7"/>
<path d="M1655.8 252.2 L1663.8 257.2 M1655.8 256.2 L1663.8 261.2" stroke="#111" stroke-width="1.4" fill="none"/>
<path d="M1659.8 264.1 L1659.8 363.2" stroke="#111" stroke-width="1.24" fill="none" stroke-dasharray="7 3"/>
<circle cx="1661.4" cy="294.5" r="3.4" fill="#111"/>
<path d="M1661.4 294.5 L1714.1 294.5" stroke="#111" stroke-width="1.69" fill="none"/>
<rect x="1686.8" y="286.5" width="10" height="16" fill="#fff"/>
<rect x="1686.8" y="286.5" width="3.5" height="16" fill="#fff" stroke="#111" stroke-width="1.3"/>
<path d="M1695.3 286.5 V302.5" stroke="#111" stroke-width="3.2" fill="none"/>
<path d="M1714.1 287.5 V301.5" stroke="#111" stroke-width="4"/>
<rect x="1657.4" y="332.4" width="8" height="20" fill="#fff" stroke="#111" stroke-width="1.7"/>
<path d="M1650.9 353.6 L1675.8 334.4" stroke="#111" stroke-width="1.36" fill="none"/>
<path d="M1672.6 330.6 L1678.4 337.6" stroke="#111" stroke-width="1.36" fill="none"/>
<circle cx="1661.4" cy="362.5" r="3.4" fill="#111"/>
<path d="M1661.4 350.4 L1661.4 353.6 L1650.9 353.6 L1650.9 362.5 L1661.4 362.5" stroke="#111" stroke-width="1.13" fill="none" stroke-dasharray="4 2"/>
<path d="M1661.4 362.5 L1661.4 524.4" stroke="#111" stroke-width="1.69" fill="none"/>
<rect x="1657.4" y="400.1" width="8" height="22" fill="#fff" stroke="#111" stroke-width="1.7"/>
<path d="M1657.4 407.1 L1665.4 412.1 M1657.4 411.1 L1665.4 416.1" stroke="#111" stroke-width="1.4" fill="none"/>
<rect x="1658.4" y="524.6" width="8" height="22" fill="#fff" stroke="#111" stroke-width="1.7"/>
<path d="M1658.4 531.6 L1666.4 536.6 M1658.4 535.6 L1666.4 540.6" stroke="#111" stroke-width="1.4" fill="none"/>
<path d="M1662.4 524.4 L1662.4 559.6 L2035.1 559.6" stroke="#111" stroke-width="1.69" fill="none"/>
<circle cx="1762.7" cy="559.6" r="3.4" fill="#111"/>
<circle cx="1802.0" cy="559.6" r="3.4" fill="#111"/>
<circle cx="1891.4" cy="559.6" r="3.4" fill="#111"/>
<path d="M1661.4 461.5 L1714.1 462.2" stroke="#111" stroke-width="1.69" fill="none"/>
<rect x="1676.0" y="457.2" width="22" height="8" fill="#fff" stroke="#111" stroke-width="1.7"/>
<path d="M1684.0 465.2 L1688.0 457.2 M1687.0 465.2 L1691.0 457.2" stroke="#111" stroke-width="1.3" fill="none"/>
<circle cx="1704.6" cy="462.2" r="3.4" fill="#111"/>
<circle cx="1739.1" cy="462.2" r="25" fill="#fff" stroke="#111" stroke-width="1.7"/>
<path d="M1737.1 451.2 V473.2" stroke="#111" stroke-width="5.5" fill="none"/>
<path d="M1714.1 462.2 H1737.1" stroke="#111" stroke-width="1.5"/>
<path d="M1739.1 458.2 L1759.85 448.2 M1739.1 466.2 L1759.85 476.2" stroke="#111" stroke-width="1.5" fill="none"/>
<path d="M1741.8 456.9 L1752.3 455.7 L1749.3 449.4 Z" fill="#111"/>
<path d="M1759.5 476.5 L1762.1 479.7 L1762.1 559.6" stroke="#111" stroke-width="1.69" fill="none"/>
<rect x="1758.7" y="527.2" width="8" height="22" fill="#fff" stroke="#111" stroke-width="1.7"/>
<path d="M1758.7 534.2 L1766.7 539.2 M1758.7 538.2 L1766.7 543.2" stroke="#111" stroke-width="1.4" fill="none"/>
<path d="M1759.5 447.8 L1763.6 444.6 L1763.6 388.1 L2001.6 388.1" stroke="#111" stroke-width="1.69" fill="none"/>
<circle cx="1763.6" cy="444.6" r="3.4" fill="#111"/>
<rect x="1758.7" y="400.1" width="8" height="22" fill="#fff" stroke="#111" stroke-width="1.7"/>
<path d="M1758.7 407.1 L1766.7 412.1 M1758.7 411.1 L1766.7 416.1" stroke="#111" stroke-width="1.4" fill="none"/>
<circle cx="1802.0" cy="388.1" r="3.4" fill="#111"/>
<circle cx="2001.6" cy="388.1" r="3.4" fill="#111"/>
<path d="M1704.6 462.2 L1704.6 508.5 L1835.5 508.5 L1835.5 462.2" stroke="#111" stroke-width="1.69" fill="none"/>
<rect x="1733.0" y="500.5" width="7" height="16" fill="#fff"/>
<path d="M1734.0 500.5 V516.5 M1739.0 500.5 V516.5" stroke="#111" stroke-width="3" fill="none"/>
<circle cx="1762.1" cy="508.5" r="3.4" fill="#111"/>
<path d="M1835.5 235.4 L1835.5 462.2" stroke="#111" stroke-width="1.69" fill="none"/>
<rect x="1831.5" y="247.2" width="8" height="18" fill="#fff" stroke="#111" stroke-width="1.7"/>
<path d="M1831.5 252.2 L1839.5 257.2 M1831.5 256.2 L1839.5 261.2" stroke="#111" stroke-width="1.4" fill="none"/>
<circle cx="1835.5" cy="272.1" r="3.4" fill="#111"/>
<rect x="1831.5" y="282.3" width="8" height="18" fill="#fff" stroke="#111" stroke-width="1.7"/>
<path d="M1831.5 287.3 L1839.5 292.3 M1831.5 291.3 L1839.5 296.3" stroke="#111" stroke-width="1.4" fill="none"/>
<circle cx="1835.5" cy="312.1" r="3.4" fill="#111"/>
<circle cx="1835.5" cy="323.2" r="3.4" fill="#111"/>
<path d="M1830.0 332.6 L1841.0 332.6 L1835.5 341.6 Z" fill="#111"/>
<path d="M1830.0 342.1 H1841.0" stroke="#111" stroke-width="1.8"/>
<path d="M1830.0 350.2 L1841.0 350.2 L1835.5 359.2 Z" fill="#111"/>
<path d="M1830.0 359.7 H1841.0" stroke="#111" stroke-width="1.8"/>
<path d="M1830.0 367.7 L1841.0 367.7 L1835.5 376.7 Z" fill="#111"/>
<path d="M1830.0 377.2 H1841.0" stroke="#111" stroke-width="1.8"/>
<circle cx="1835.5" cy="428.6" r="3.4" fill="#111"/>
<rect x="1827.5" y="441.1" width="16" height="7" fill="#fff"/>
<path d="M1827.5 442.1 H1843.5 M1827.5 447.1 H1843.5" stroke="#111" stroke-width="3" fill="none"/>
<circle cx="1835.5" cy="462.2" r="3.4" fill="#111"/>
<path d="M1835.5 272.1 L1801.3 272.1 L1801.3 388.1" stroke="#111" stroke-width="1.69" fill="none"/>
<rect x="1793.3" y="313.4" width="16" height="10" fill="#fff"/>
<rect x="1793.3" y="313.4" width="16" height="3.5" fill="#fff" stroke="#111" stroke-width="1.3"/>
<path d="M1793.3 321.9 H1809.3" stroke="#111" stroke-width="3.2" fill="none"/>
<path d="M1801.3 388.1 L1802.0 559.6" stroke="#111" stroke-width="1.69" fill="none"/>
<rect x="1798.0" y="400.1" width="8" height="22" fill="#fff" stroke="#111" stroke-width="1.7"/>
<path d="M1798.0 407.1 L1806.0 412.1 M1798.0 411.1 L1806.0 416.1" stroke="#111" stroke-width="1.4" fill="none"/>
<rect x="1794.0" y="426.7" width="16" height="7" fill="#fff"/>
<path d="M1794.0 427.7 H1810.0 M1794.0 432.7 H1810.0" stroke="#111" stroke-width="3" fill="none"/>
<circle cx="1802.0" cy="444.6" r="3.4" fill="#111"/>
<rect x="1798.0" y="460.1" width="8" height="20" fill="#fff" stroke="#111" stroke-width="1.7"/>
<circle cx="1802.0" cy="490.9" r="3.4" fill="#111"/>
<rect x="1794.0" y="526.8" width="16" height="10" fill="#fff"/>
<rect x="1794.0" y="526.8" width="16" height="3.5" fill="#fff" stroke="#111" stroke-width="1.3"/>
<path d="M1794.0 535.3 H1810.0" stroke="#111" stroke-width="3.2" fill="none"/>
<path d="M1763.6 444.6 L1802.0 444.6" stroke="#111" stroke-width="1.69" fill="none"/>
<path d="M1802.0 490.9 L1790.8 490.9 L1790.8 478.1 L1816.3 460.6" stroke="#111" stroke-width="1.36" fill="none"/>
<path d="M1835.5 312.1 L1952.1 312.1" stroke="#111" stroke-width="1.69" fill="none"/>
<rect x="1847.9" y="308.1" width="20" height="8" fill="#fff" stroke="#111" stroke-width="1.7"/>
<circle cx="1892.4" cy="312.1" r="3.4" fill="#111"/>
<circle cx="1912.2" cy="312.1" r="3.4" fill="#111"/>
<path d="M1835.5 323.2 L1851.5 323.2 L1865.9 300.9" stroke="#111" stroke-width="1.36" fill="none"/>
<path d="M1861.7 298.6 L1869.0 302.5" stroke="#111" stroke-width="1.36" fill="none"/>
<path d="M1892.4 312.1 L1892.4 428.6" stroke="#111" stroke-width="1.69" fill="none"/>
<rect x="1888.4" y="353.5" width="8" height="18" fill="#fff" stroke="#111" stroke-width="1.7"/>
<path d="M1880.2 374.3 L1880.2 367.9 L1901.0 355.2" stroke="#111" stroke-width="1.36" fill="none"/>
<rect x="1888.4" y="402.1" width="8" height="18" fill="#fff" stroke="#111" stroke-width="1.7"/>
<path d="M1888.4 407.1 L1896.4 412.1 M1888.4 411.1 L1896.4 416.1" stroke="#111" stroke-width="1.4" fill="none"/>
<path d="M1912.2 312.1 L1913.1 463.8 L1950.5 463.8" stroke="#111" stroke-width="1.69" fill="none"/>
<rect x="1909.1" y="353.5" width="8" height="18" fill="#fff" stroke="#111" stroke-width="1.7"/>
<path d="M1909.1 358.5 L1917.1 363.5 M1909.1 362.5 L1917.1 367.5" stroke="#111" stroke-width="1.4" fill="none"/>
<circle cx="1913.1" cy="428.6" r="3.4" fill="#111"/>
<circle cx="1913.1" cy="463.8" r="3.4" fill="#111"/>
<path d="M1835.5 428.6 L1913.1 428.6" stroke="#111" stroke-width="1.69" fill="none"/>
<circle cx="1892.4" cy="428.6" r="3.4" fill="#111"/>
<circle cx="1865.9" cy="461.5" r="25" fill="#fff" stroke="#111" stroke-width="1.7"/>
<path d="M1863.9 450.5 V472.5" stroke="#111" stroke-width="5.5" fill="none"/>
<path d="M1840.9 461.5 H1863.9" stroke="#111" stroke-width="1.7"/>
<path d="M1865.9 457.5 L1886.65 447.5 M1865.9 465.5 L1886.65 475.5" stroke="#111" stroke-width="1.7" fill="none"/>
<path d="M1882.5 473.5 L1872.9 472.7 L1875.9 466.4 Z" fill="#111"/>
<path d="M1841.9 462.2 L1835.5 462.2" stroke="#111" stroke-width="1.69" fill="none"/>
<path d="M1886.6 446.2 L1892.4 436.6 L1892.4 428.6" stroke="#111" stroke-width="1.69" fill="none"/>
<path d="M1887.3 476.5 L1891.4 479.7 L1891.4 559.6" stroke="#111" stroke-width="1.69" fill="none"/>
<rect x="1887.4" y="524.6" width="8" height="22" fill="#fff" stroke="#111" stroke-width="1.7"/>
<path d="M1887.4 531.6 L1895.4 536.6 M1887.4 535.6 L1895.4 540.6" stroke="#111" stroke-width="1.4" fill="none"/>
<circle cx="1976.0" cy="313.6" r="25" fill="#fff" stroke="#111" stroke-width="1.7"/>
<path d="M1974.0 302.6 V324.6" stroke="#111" stroke-width="5.5" fill="none"/>
<path d="M1951.0 313.6 H1974.0" stroke="#111" stroke-width="1.7"/>
<path d="M1976.0 309.6 L1996.75 299.6 M1976.0 317.6 L1996.75 327.6" stroke="#111" stroke-width="1.7" fill="none"/>
<path d="M1992.6 325.6 L1983.0 324.8 L1986.0 318.5 Z" fill="#111"/>
<path d="M1996.8 298.6 L2001.6 294.5 L2001.6 270.5" stroke="#111" stroke-width="1.69" fill="none"/>
<path d="M2001.6 270.5 L2001.6 237.0" stroke="#111" stroke-width="1.24" fill="none" stroke-dasharray="7 3"/>
<path d="M1996.8 328.7 L2003.2 333.8" stroke="#111" stroke-width="1.69" fill="none"/>
<circle cx="2003.2" cy="333.8" r="3.4" fill="#111"/>
<path d="M2003.2 333.8 L2002.2 388.1" stroke="#111" stroke-width="1.69" fill="none"/>
<rect x="1998.2" y="354.7" width="8" height="20" fill="#fff" stroke="#111" stroke-width="1.7"/>
<path d="M1998.2 360.7 L2006.2 365.7 M1998.2 364.7 L2006.2 369.7" stroke="#111" stroke-width="1.4" fill="none"/>
<circle cx="1974.4" cy="462.2" r="25" fill="#fff" stroke="#111" stroke-width="1.7"/>
<path d="M1972.4 451.2 V473.2" stroke="#111" stroke-width="5.5" fill="none"/>
<path d="M1949.4 462.2 H1972.4" stroke="#111" stroke-width="1.5"/>
<path d="M1974.4 458.2 L1995.15 448.2 M1974.4 466.2 L1995.15 476.2" stroke="#111" stroke-width="1.5" fill="none"/>
<path d="M1977.1 456.9 L1987.6 455.7 L1984.6 449.4 Z" fill="#111"/>
<path d="M1995.2 447.8 L2001.6 444.6 L2001.6 436.6 L2006.4 436.6" stroke="#111" stroke-width="1.69" fill="none"/>
<path d="M1995.2 476.5 L2001.6 484.5 L2001.6 493.5" stroke="#111" stroke-width="1.69" fill="none"/>
<circle cx="2001.6" cy="493.5" r="3.4" fill="#111"/>
<path d="M2001.6 493.5 L2009.6 493.5" stroke="#111" stroke-width="1.69" fill="none"/>
<path d="M1913.1 463.8 L1913.1 493.5 L2001.6 493.5" stroke="#111" stroke-width="1.24" fill="none" stroke-dasharray="7 3"/>
<rect x="1929.4" y="485.5" width="7" height="16" fill="#fff"/>
<path d="M1930.4 485.5 V501.5 M1935.4 485.5 V501.5" stroke="#111" stroke-width="3" fill="none"/>
<path d="M1607.1 232.2 L1607.1 158.1 L1644.8 158.1" stroke="#111" stroke-width="1.69" fill="none"/>
<rect x="1644.8" y="142.1" width="64.6" height="35.8" fill="#fff" stroke="#111" stroke-width="1.7"/>
<path d="M1656.4279999999999 160.0 H1697.772" stroke="#111" stroke-width="1.4"/>
<text x="1677.1" y="157.5" font-size="13" font-style="italic" text-anchor="middle" fill="#111">45 V</text>
<text x="1677.1" y="172.0" font-size="13" font-style="italic" text-anchor="middle" fill="#111">35 V</text>
<circle cx="1644.8" cy="158.1" r="3.4" fill="#111"/>
<path d="M1894.6 506.9 L1904.2 513.3 L1904.2 591.5 L1915.4 591.5" stroke="#111" stroke-width="1.69" fill="none"/>
<rect x="1915.4" y="575.5" width="70.2" height="34.2" fill="#fff" stroke="#111" stroke-width="1.7"/>
<path d="M1928.036 592.6 H1972.964" stroke="#111" stroke-width="1.4"/>
<text x="1950.5" y="590.1" font-size="12" font-style="italic" text-anchor="middle" fill="#111">80 mA</text>
<text x="1950.5" y="603.6" font-size="12" font-style="italic" text-anchor="middle" fill="#111">60 mA</text>
<circle cx="1915.4" cy="591.5" r="3.4" fill="#111"/>
<path d="M1816.3 513.3 L1816.3 586.7 L1825.3 589.9" stroke="#111" stroke-width="1.69" fill="none"/>
<rect x="1828.5" y="575.5" width="63.9" height="34.2" fill="#fff" stroke="#111" stroke-width="1.7"/>
<text x="1860.45" y="597.28" font-size="14" font-style="italic" text-anchor="middle" fill="#111">0,6 V</text>
<circle cx="1825.3" cy="589.9" r="3.4" fill="#111"/>
<text x="1614.5" y="223.3" font-size="10.8" font-style="italic" text-anchor="start" fill="#111">R203</text>
<text x="1616.7" y="248.8" font-size="12.0" font-style="italic" text-anchor="start" fill="#111">1K</text>
<text x="1667.8" y="248.8" font-size="12.0" font-style="italic" text-anchor="start" fill="#111">R40</text>
<text x="1669.4" y="262.2" font-size="12.0" font-style="italic" text-anchor="start" fill="#111">15K</text>
<text x="1683.8" y="283.3" font-size="12.0" font-style="italic" text-anchor="start" fill="#111">C26</text>
<text x="1681.6" y="314.3" font-size="13.2" font-style="italic" text-anchor="start" fill="#111">47/63</text>
<text x="1631.1" y="333.4" font-size="10.8" font-style="italic" text-anchor="start" fill="#111">R41</text>
<text x="1628.5" y="347.2" font-size="12.0" font-style="italic" text-anchor="start" fill="#111">50K</text>
<text x="1627.9" y="406.0" font-size="12.0" font-style="italic" text-anchor="start" fill="#111">R42</text>
<text x="1627.3" y="418.7" font-size="12.0" font-style="italic" text-anchor="start" fill="#111">8,2K</text>
<text x="1682.2" y="416.5" font-size="17" font-style="italic" text-anchor="start" fill="#111">T6</text>
<text x="1671.0" y="435.7" font-size="17" font-style="italic" text-anchor="start" fill="#111">BC 313</text>
<text x="1944.1" y="263.2" font-size="17" font-style="italic" text-anchor="start" fill="#111">T8</text>
<text x="1942.5" y="282.3" font-size="17" font-style="italic" text-anchor="start" fill="#111">BC 211</text>
<text x="1960.1" y="414.9" font-size="17" font-style="italic" text-anchor="start" fill="#111">T10</text>
<text x="1944.1" y="432.5" font-size="17" font-style="italic" text-anchor="start" fill="#111">BC 313</text>
<text x="1851.5" y="497.9" font-size="17" font-style="italic" text-anchor="start" fill="#111">T7</text>
<text x="1841.9" y="517.1" font-size="17" font-style="italic" text-anchor="start" fill="#111">BC 211</text>
<text x="1628.5" y="450.0" font-size="12.0" font-style="italic" text-anchor="start" fill="#111">C25</text>
<text x="1621.5" y="480.4" font-size="12.0" font-style="italic" text-anchor="start" fill="#111">10/16</text>
<text x="1675.8" y="450.0" font-size="12.0" font-style="italic" text-anchor="start" fill="#111">R44</text>
<text x="1671.0" y="477.2" font-size="12.0" font-style="italic" text-anchor="start" fill="#111">2,2K</text>
<text x="1707.1" y="504.3" font-size="10.8" font-style="italic" text-anchor="start" fill="#111">C27</text>
<text x="1699.8" y="518.7" font-size="10.8" font-style="italic" text-anchor="start" fill="#111">100p</text>
<text x="1627.3" y="531.5" font-size="12.0" font-style="italic" text-anchor="start" fill="#111">R43</text>
<text x="1625.7" y="545.2" font-size="12.0" font-style="italic" text-anchor="start" fill="#111">30K</text>
<text x="1730.1" y="531.5" font-size="12.0" font-style="italic" text-anchor="start" fill="#111">R46</text>
<text x="1729.5" y="545.2" font-size="12.0" font-style="italic" text-anchor="start" fill="#111">510</text>
<text x="1768.4" y="531.5" font-size="12.0" font-style="italic" text-anchor="start" fill="#111">C30</text>
<text x="1818.9" y="532.4" font-size="12.0" font-style="italic" text-anchor="start" fill="#111">220/63</text>
<text x="1729.5" y="406.0" font-size="12.0" font-style="italic" text-anchor="start" fill="#111">R45</text>
<text x="1730.1" y="419.7" font-size="12.0" font-style="italic" text-anchor="start" fill="#111">2,2K</text>
<text x="1807.4" y="406.0" font-size="12.0" font-style="italic" text-anchor="start" fill="#111">R47</text>
<text x="1809.3" y="419.7" font-size="12.0" font-style="italic" text-anchor="start" fill="#111">1K</text>
<text x="1770.0" y="426.1" font-size="10.8" font-style="italic" text-anchor="start" fill="#111">C29</text>
<text x="1768.4" y="440.4" font-size="10.8" font-style="italic" text-anchor="start" fill="#111">270p</text>
<text x="1808.4" y="442.0" font-size="10.8" font-style="italic" text-anchor="start" fill="#111">C31</text>
<text x="1806.1" y="458.0" font-size="10.8" font-style="italic" text-anchor="start" fill="#111">100p</text>
<text x="1768.4" y="462.8" font-size="12.0" font-style="italic" text-anchor="start" fill="#111">R48</text>
<text x="1771.6" y="477.2" font-size="12.0" font-style="italic" text-anchor="start" fill="#111">510</text>
<text x="1801.0" y="252.0" font-size="12.0" font-style="italic" text-anchor="start" fill="#111">R49</text>
<text x="1800.4" y="264.8" font-size="12.0" font-style="italic" text-anchor="start" fill="#111">820</text>
<text x="1803.6" y="287.1" font-size="10.8" font-style="italic" text-anchor="start" fill="#111">R50</text>
<text x="1804.2" y="299.9" font-size="10.8" font-style="italic" text-anchor="start" fill="#111">2,2K</text>
<text x="1762.1" y="316.5" font-size="10.8" font-style="italic" text-anchor="start" fill="#111">C28</text>
<text x="1757.3" y="329.3" font-size="10.8" font-style="italic" text-anchor="start" fill="#111">100/63</text>
<text x="1852.1" y="295.1" font-size="12.0" font-style="italic" text-anchor="start" fill="#111">R51</text>
<text x="1855.3" y="328.7" font-size="12.0" font-style="italic" text-anchor="start" fill="#111">1K</text>
<text x="1854.0" y="275.0" font-size="12.0" font-style="italic" textLength="77.3" lengthAdjust="spacingAndGlyphs" text-anchor="start" fill="#111">Ruhestrom</text>
<text x="1825.9" y="344.0" font-size="10" font-style="italic" fill="#111" transform="rotate(-90 1825.9 344.0)">D4</text>
<text x="1827.5" y="382.3" font-size="10" font-style="italic" fill="#111" transform="rotate(-90 1827.5 382.3)">D2</text>
<text x="1852.1" y="383.9" font-size="9" font-style="italic" fill="#111" transform="rotate(-90 1852.1 383.9)">3×GA101</text>
<text x="1865.9" y="344.6" font-size="12.0" font-style="italic" text-anchor="start" fill="#111">R52</text>
<text x="1864.3" y="358.0" font-size="12.0" font-style="italic" text-anchor="start" fill="#111">1,8K</text>
<text x="1869.0" y="375.3" font-size="12.0" font-style="italic" text-anchor="start" fill="#111">ϑ</text>
<text x="1918.5" y="345.3" font-size="12.0" font-style="italic" text-anchor="start" fill="#111">R55</text>
<text x="1922.4" y="358.0" font-size="12.0" font-style="italic" text-anchor="start" fill="#111">1K</text>
<text x="1857.9" y="406.0" font-size="12.0" font-style="italic" text-anchor="start" fill="#111">R53</text>
<text x="1857.2" y="419.7" font-size="12.0" font-style="italic" text-anchor="start" fill="#111">620</text>
<text x="1968.1" y="361.2" font-size="12.0" font-style="italic" text-anchor="start" fill="#111">R56</text>
<text x="1969.0" y="375.0" font-size="12.0" font-style="italic" text-anchor="start" fill="#111">220</text>
<text x="1923.3" y="482.0" font-size="12.0" font-style="italic" text-anchor="start" fill="#111">C39</text>
<text x="1923.3" y="512.3" font-size="12.0" font-style="italic" text-anchor="start" fill="#111">2,2n</text>
<text x="1909.0" y="531.5" font-size="12.0" font-style="italic" text-anchor="start" fill="#111">R54</text>
<text x="1913.8" y="545.2" font-size="12.0" font-style="italic" text-anchor="start" fill="#111">10</text>
<text x="1656.7" y="573.0" font-size="13.2" font-style="italic" textLength="78.2" lengthAdjust="spacingAndGlyphs" text-anchor="start" fill="#111">Symmetrie</text>
<text x="1748.6" y="577.1" font-size="13.2" font-style="italic" textLength="51.8" lengthAdjust="spacingAndGlyphs" text-anchor="start" fill="#111">Verstär-</text>
<text x="1774.8" y="592.2" font-size="13.2" font-style="italic" textLength="33.6" lengthAdjust="spacingAndGlyphs" text-anchor="start" fill="#111">kung</text>
<path d="M1999.2 237.9 L2214.7 239.5" stroke="#111" stroke-width="1.69" fill="none"/>
<circle cx="2126.2" cy="239.2" r="3.4" fill="#111"/>
<path d="M2214.7 239.5 L2251.4 239.5" stroke="#111" stroke-width="1.69" fill="none"/>
<rect x="2214.8" y="236.0" width="22" height="7" rx="2" fill="#fff" stroke="#111" stroke-width="1.3"/>
<circle cx="2103.9" cy="314.5" r="25" fill="#fff" stroke="#111" stroke-width="1.7"/>
<path d="M2101.9 303.5 V325.5" stroke="#111" stroke-width="5.5" fill="none"/>
<path d="M2078.9 314.5 H2101.9" stroke="#111" stroke-width="1.7"/>
<path d="M2103.9 310.5 L2124.65 300.5 M2103.9 318.5 L2124.65 328.5" stroke="#111" stroke-width="1.7" fill="none"/>
<path d="M2120.5 326.5 L2110.9 325.7 L2113.9 319.4 Z" fill="#111"/>
<path d="M2124.3 298.6 L2126.9 291.2 L2126.9 239.2" stroke="#111" stroke-width="1.69" fill="none"/>
<path d="M2003.0 333.4 L2048.6 332.7 L2048.6 314.5 L2079.0 314.5" stroke="#111" stroke-width="1.69" fill="none"/>
<path d="M2124.3 330.5 L2128.5 334.3 L2128.5 434.9" stroke="#111" stroke-width="1.69" fill="none"/>
<rect x="2123.5" y="356.3" width="8" height="20" fill="#fff" stroke="#111" stroke-width="1.7"/>
<path d="M2123.5 362.3 L2131.5 367.3 M2123.5 366.3 L2131.5 371.3" stroke="#111" stroke-width="1.4" fill="none"/>
<circle cx="2128.5" cy="388.0" r="3.4" fill="#111"/>
<rect x="2124.5" y="401.0" width="8" height="20" fill="#fff" stroke="#111" stroke-width="1.7"/>
<path d="M2124.5 407.0 L2132.5 412.0 M2124.5 411.0 L2132.5 416.0" stroke="#111" stroke-width="1.4" fill="none"/>
<circle cx="2128.5" cy="434.9" r="3.4" fill="#111"/>
<path d="M2117.3 246.5 L2117.3 270.5" stroke="#111" stroke-width="1.36" fill="none" stroke-dasharray="6 3"/>
<path d="M2117.3 277.5 L2114.3 268.5 L2120.3 268.5 Z" fill="#111"/>
<rect x="2142.2" y="254.5" width="69.3" height="35.1" fill="#fff" stroke="#111" stroke-width="1.7" stroke-dasharray="9 3"/>
<path d="M2154.674 272.05 H2199.026" stroke="#111" stroke-width="1.4"/>
<text x="2176.85" y="269.55" font-size="12" font-style="italic" text-anchor="middle" fill="#111">50 mA</text>
<text x="2176.85" y="283.05" font-size="12" font-style="italic" text-anchor="middle" fill="#111">1,2 A</text>
<circle cx="2142.8" cy="271.4" r="3.4" fill="#111"/>
<rect x="2016.1" y="343.3" width="66.7" height="31.9" fill="#fff" stroke="#111" stroke-width="1.7" stroke-dasharray="9 3"/>
<path d="M2028.1059999999998 359.25 H2070.794" stroke="#111" stroke-width="1.4"/>
<text x="2049.45" y="356.75" font-size="11" font-style="italic" text-anchor="middle" fill="#111">27-30V</text>
<text x="2049.45" y="369.25" font-size="11" font-style="italic" text-anchor="middle" fill="#111">20-22V</text>
<circle cx="2016.1" cy="361.5" r="3.4" fill="#111"/>
<path d="M2016.1 361.5 L2010.3 361.5 L2010.3 385.4" stroke="#111" stroke-width="1.36" fill="none"/>
<path d="M2001.7 388.0 L2128.5 388.0" stroke="#111" stroke-width="1.36" fill="none" stroke-dasharray="9 3"/>
<path d="M2128.5 388.0 L2252.0 390.9" stroke="#111" stroke-width="1.69" fill="none"/>
<rect x="2146.2" y="384.6" width="24" height="8" fill="#fff" stroke="#111" stroke-width="1.4"/>
<text x="2155.2" y="391.6" font-size="7" font-style="italic" fill="#111">D</text>
<rect x="2200.1" y="381.3" width="10" height="16" fill="#fff"/>
<rect x="2200.1" y="381.3" width="3.5" height="16" fill="#fff" stroke="#111" stroke-width="1.3"/>
<path d="M2208.6 381.3 V397.3" stroke="#111" stroke-width="3.2" fill="none"/>
<circle cx="2225.2" cy="390.9" r="3.4" fill="#111"/>
<path d="M2225.8 312.6 L2227.4 390.9" stroke="#111" stroke-width="1.36" fill="none" stroke-dasharray="7 3"/>
<rect x="2223.4" y="356.3" width="8" height="20" fill="#fff" stroke="#111" stroke-width="1.7"/>
<path d="M2223.4 362.3 L2231.4 367.3 M2223.4 366.3 L2231.4 371.3" stroke="#111" stroke-width="1.4" fill="none"/>
<path d="M2227.4 390.9 L2227.4 581.8" stroke="#111" stroke-width="1.69" fill="none"/>
<rect x="2223.4" y="423.9" width="8" height="22" fill="#fff" stroke="#111" stroke-width="1.7"/>
<path d="M2223.4 434.9 H2231.4" stroke="#111" stroke-width="1.2"/>
<circle cx="2227.4" cy="466.2" r="3.4" fill="#111"/>
<circle cx="2227.4" cy="559.4" r="3.4" fill="#111"/>
<path d="M2219.4 582.4 H2235.4" stroke="#111" stroke-width="4" fill="none"/>
<path d="M1980.0 559.4 L2227.4 559.4" stroke="#111" stroke-width="1.69" fill="none"/>
<circle cx="2034.9" cy="559.4" r="3.4" fill="#111"/>
<circle cx="2070.4" cy="559.4" r="3.4" fill="#111"/>
<circle cx="2129.4" cy="559.4" r="3.4" fill="#111"/>
<circle cx="2103.9" cy="462.1" r="25" fill="#fff" stroke="#111" stroke-width="1.7"/>
<path d="M2101.9 451.1 V473.1" stroke="#111" stroke-width="5.5" fill="none"/>
<path d="M2078.9 462.1 H2101.9" stroke="#111" stroke-width="1.7"/>
<path d="M2103.9 458.1 L2124.65 448.1 M2103.9 466.1 L2124.65 476.1" stroke="#111" stroke-width="1.7" fill="none"/>
<path d="M2120.5 474.1 L2110.9 473.3 L2113.9 467.0 Z" fill="#111"/>
<path d="M2124.3 446.1 L2128.5 441.3 L2128.5 434.9" stroke="#111" stroke-width="1.69" fill="none"/>
<path d="M2128.5 434.9 L2070.4 434.9 L2003.9 435.9" stroke="#111" stroke-width="1.69" fill="none"/>
<circle cx="2070.4" cy="434.9" r="3.4" fill="#111"/>
<path d="M2002.3 493.3 L2048.6 493.3 L2048.6 463.7 L2079.0 463.7" stroke="#111" stroke-width="1.69" fill="none"/>
<circle cx="2034.9" cy="493.3" r="3.4" fill="#111"/>
<path d="M2124.3 478.0 L2130.1 483.8 L2130.1 559.4" stroke="#111" stroke-width="1.69" fill="none"/>
<circle cx="2130.1" cy="483.8" r="3.4" fill="#111"/>
<path d="M2070.4 434.9 L2070.4 559.4" stroke="#111" stroke-width="1.69" fill="none"/>
<rect x="2066.4" y="498.4" width="8" height="20" fill="#fff" stroke="#111" stroke-width="1.7"/>
<rect x="2062.4" y="530.4" width="16" height="7" fill="#fff"/>
<path d="M2062.4 531.4 H2078.4 M2062.4 536.4 H2078.4" stroke="#111" stroke-width="3" fill="none"/>
<path d="M2034.9 493.3 L2034.9 559.4" stroke="#111" stroke-width="1.69" fill="none"/>
<rect x="2031.9" y="527.7" width="8" height="22" fill="#fff" stroke="#111" stroke-width="1.7"/>
<path d="M2031.9 534.7 L2039.9 539.7 M2031.9 538.7 L2039.9 543.7" stroke="#111" stroke-width="1.4" fill="none"/>
<text x="2213.1" y="231.2" font-size="10.8" font-style="italic" text-anchor="start" fill="#111">Si1</text>
<text x="2216.3" y="255.2" font-size="10.8" font-style="italic" text-anchor="start" fill="#111">1,6AF</text>
<text x="2045.5" y="264.7" font-size="17" font-style="italic" text-anchor="start" fill="#111">T9</text>
<text x="2035.9" y="282.3" font-size="17" font-style="italic" text-anchor="start" fill="#111">KU 607</text>
<text x="2087.0" y="501.0" font-size="17" font-style="italic" text-anchor="start" fill="#111">T12</text>
<text x="2075.8" y="517.0" font-size="17" font-style="italic" text-anchor="start" fill="#111">KU607</text>
<text x="2091.1" y="363.7" font-size="12.0" font-style="italic" text-anchor="start" fill="#111">R59</text>
<text x="2091.7" y="377.1" font-size="12.0" font-style="italic" text-anchor="start" fill="#111">0,5</text>
<text x="2091.7" y="408.4" font-size="12.0" font-style="italic" text-anchor="start" fill="#111">R60</text>
<text x="2092.4" y="421.8" font-size="12.0" font-style="italic" text-anchor="start" fill="#111">0,5</text>
<text x="2149.2" y="379.7" font-size="10.8" font-style="italic" text-anchor="start" fill="#111">R63</text>
<text x="2147.6" y="405.9" font-size="12.0" font-style="italic" text-anchor="start" fill="#111">0,25</text>
<text x="2193.3" y="379.0" font-size="12.0" font-style="italic" text-anchor="start" fill="#111">C33</text>
<text x="2181.8" y="406.8" font-size="12.0" font-style="italic" text-anchor="start" fill="#111">2200/80</text>
<text x="2235.4" y="362.1" font-size="10.8" font-style="italic" text-anchor="start" fill="#111">R67</text>
<text x="2235.4" y="373.3" font-size="12.0" font-style="italic" text-anchor="start" fill="#111">82</text>
<text x="2198.7" y="432.4" font-size="12.0" font-style="italic" text-anchor="start" fill="#111">R66</text>
<text x="2185.9" y="445.1" font-size="10.8" font-style="italic" text-anchor="start" fill="#111">270/1W</text>
<text x="2040.7" y="505.8" font-size="12.0" font-style="italic" text-anchor="start" fill="#111">R58</text>
<text x="2045.5" y="517.0" font-size="10.8" font-style="italic" text-anchor="start" fill="#111">10</text>
<text x="1999.8" y="531.3" font-size="12.0" font-style="italic" text-anchor="start" fill="#111">R57</text>
<text x="2001.7" y="545.1" font-size="12.0" font-style="italic" text-anchor="start" fill="#111">220</text>
<text x="2041.3" y="532.3" font-size="12.0" font-style="italic" text-anchor="start" fill="#111">C32</text>
<text x="2081.5" y="532.3" font-size="12.0" font-style="italic" text-anchor="start" fill="#111">0,1µ</text>
<path d="M1599.8 623.8 L1998.1 627.0" stroke="#111" stroke-width="1.69" fill="none"/>
<rect x="1615.2" y="618.8" width="22" height="8" fill="#fff" stroke="#111" stroke-width="1.7"/>
<path d="M1623.2 626.8 L1627.2 618.8 M1626.2 626.8 L1630.2 618.8" stroke="#111" stroke-width="1.3" fill="none"/>
<circle cx="1659.4" cy="624.8" r="3.4" fill="#111"/>
<circle cx="1833.2" cy="625.4" r="3.4" fill="#111"/>
<circle cx="1998.1" cy="627.0" r="3.4" fill="#111"/>
<path d="M1599.8 689.0 L1621.5 689.0 L1621.5 847.1 L1661.0 848.0" stroke="#111" stroke-width="1.69" fill="none"/>
<rect x="1633.9" y="840.0" width="10" height="16" fill="#fff"/>
<rect x="1640.4" y="840.0" width="3.5" height="16" fill="#fff" stroke="#111" stroke-width="1.3"/>
<path d="M1635.4 840.0 V856.0" stroke="#111" stroke-width="3.2" fill="none"/>
<circle cx="1661.0" cy="848.0" r="3.4" fill="#111"/>
<path d="M1659.4 624.8 L1659.4 654.1" stroke="#111" stroke-width="1.69" fill="none"/>
<rect x="1655.4" y="637.2" width="8" height="18" fill="#fff" stroke="#111" stroke-width="1.7"/>
<path d="M1655.4 642.2 L1663.4 647.2 M1655.4 646.2 L1663.4 651.2" stroke="#111" stroke-width="1.4" fill="none"/>
<path d="M1659.4 654.1 L1659.4 749.7" stroke="#111" stroke-width="1.24" fill="none" stroke-dasharray="7 3"/>
<circle cx="1661.0" cy="681.8" r="3.4" fill="#111"/>
<path d="M1661.0 681.8 L1713.1 681.8" stroke="#111" stroke-width="1.69" fill="none"/>
<rect x="1686.0" y="673.8" width="10" height="16" fill="#fff"/>
<rect x="1686.0" y="673.8" width="3.5" height="16" fill="#fff" stroke="#111" stroke-width="1.3"/>
<path d="M1694.5 673.8 V689.8" stroke="#111" stroke-width="3.2" fill="none"/>
<path d="M1713.1 674.8 V688.8" stroke="#111" stroke-width="4"/>
<rect x="1657.0" y="718.9" width="8" height="20" fill="#fff" stroke="#111" stroke-width="1.7"/>
<path d="M1650.6 740.1 L1675.2 720.9" stroke="#111" stroke-width="1.36" fill="none"/>
<path d="M1672.1 717.1 L1677.8 724.1" stroke="#111" stroke-width="1.36" fill="none"/>
<circle cx="1661.0" cy="749.0" r="3.4" fill="#111"/>
<path d="M1661.0 736.9 L1661.0 740.1 L1650.6 740.1 L1650.6 749.0 L1661.0 749.0" stroke="#111" stroke-width="1.13" fill="none" stroke-dasharray="4 2"/>
<path d="M1661.0 749.0 L1661.0 910.9" stroke="#111" stroke-width="1.69" fill="none"/>
<rect x="1657.0" y="786.6" width="8" height="22" fill="#fff" stroke="#111" stroke-width="1.7"/>
<path d="M1657.0 793.6 L1665.0 798.6 M1657.0 797.6 L1665.0 802.6" stroke="#111" stroke-width="1.4" fill="none"/>
<rect x="1658.0" y="911.1" width="8" height="22" fill="#fff" stroke="#111" stroke-width="1.7"/>
<path d="M1658.0 918.1 L1666.0 923.1 M1658.0 922.1 L1666.0 927.1" stroke="#111" stroke-width="1.4" fill="none"/>
<path d="M1662.0 910.9 L1662.0 946.1 L2031.6 946.1" stroke="#111" stroke-width="1.69" fill="none"/>
<circle cx="1761.2" cy="946.1" r="3.4" fill="#111"/>
<circle cx="1800.0" cy="946.1" r="3.4" fill="#111"/>
<circle cx="1888.5" cy="946.1" r="3.4" fill="#111"/>
<path d="M1661.0 848.0 L1713.1 848.7" stroke="#111" stroke-width="1.69" fill="none"/>
<rect x="1675.3" y="843.7" width="22" height="8" fill="#fff" stroke="#111" stroke-width="1.7"/>
<path d="M1683.3 851.7 L1687.3 843.7 M1686.3 851.7 L1690.3 843.7" stroke="#111" stroke-width="1.3" fill="none"/>
<circle cx="1703.7" cy="848.7" r="3.4" fill="#111"/>
<circle cx="1737.8" cy="848.7" r="25" fill="#fff" stroke="#111" stroke-width="1.7"/>
<path d="M1735.8 837.7 V859.7" stroke="#111" stroke-width="5.5" fill="none"/>
<path d="M1712.8 848.7 H1735.8" stroke="#111" stroke-width="1.5"/>
<path d="M1737.8 844.7 L1758.55 834.7 M1737.8 852.7 L1758.55 862.7" stroke="#111" stroke-width="1.5" fill="none"/>
<path d="M1740.5 843.4 L1751.0 842.2 L1748.0 835.9 Z" fill="#111"/>
<path d="M1758.0 863.0 L1760.5 866.2 L1760.5 946.1" stroke="#111" stroke-width="1.69" fill="none"/>
<rect x="1757.2" y="913.7" width="8" height="22" fill="#fff" stroke="#111" stroke-width="1.7"/>
<path d="M1757.2 920.7 L1765.2 925.7 M1757.2 924.7 L1765.2 929.7" stroke="#111" stroke-width="1.4" fill="none"/>
<path d="M1758.0 834.3 L1762.1 831.1 L1762.1 774.6 L1998.1 774.6" stroke="#111" stroke-width="1.69" fill="none"/>
<circle cx="1762.1" cy="831.1" r="3.4" fill="#111"/>
<rect x="1757.2" y="786.6" width="8" height="22" fill="#fff" stroke="#111" stroke-width="1.7"/>
<path d="M1757.2 793.6 L1765.2 798.6 M1757.2 797.6 L1765.2 802.6" stroke="#111" stroke-width="1.4" fill="none"/>
<circle cx="1800.0" cy="774.6" r="3.4" fill="#111"/>
<circle cx="1998.1" cy="774.6" r="3.4" fill="#111"/>
<path d="M1703.7 848.7 L1703.7 895.0 L1833.2 895.0 L1833.2 848.7" stroke="#111" stroke-width="1.69" fill="none"/>
<rect x="1731.8" y="887.0" width="7" height="16" fill="#fff"/>
<path d="M1732.8 887.0 V903.0 M1737.8 887.0 V903.0" stroke="#111" stroke-width="3" fill="none"/>
<circle cx="1760.5" cy="895.0" r="3.4" fill="#111"/>
<path d="M1833.2 625.4 L1833.2 848.7" stroke="#111" stroke-width="1.69" fill="none"/>
<rect x="1829.2" y="637.2" width="8" height="18" fill="#fff" stroke="#111" stroke-width="1.7"/>
<path d="M1829.2 642.2 L1837.2 647.2 M1829.2 646.2 L1837.2 651.2" stroke="#111" stroke-width="1.4" fill="none"/>
<circle cx="1833.2" cy="662.1" r="3.4" fill="#111"/>
<rect x="1829.2" y="670.0" width="8" height="18" fill="#fff" stroke="#111" stroke-width="1.7"/>
<path d="M1829.2 675.0 L1837.2 680.0 M1829.2 679.0 L1837.2 684.0" stroke="#111" stroke-width="1.4" fill="none"/>
<circle cx="1833.2" cy="698.6" r="3.4" fill="#111"/>
<circle cx="1833.2" cy="709.7" r="3.4" fill="#111"/>
<path d="M1827.7 719.1 L1838.7 719.1 L1833.2 728.1 Z" fill="#111"/>
<path d="M1827.7 728.6 H1838.7" stroke="#111" stroke-width="1.8"/>
<path d="M1827.7 736.7 L1838.7 736.7 L1833.2 745.7 Z" fill="#111"/>
<path d="M1827.7 746.2 H1838.7" stroke="#111" stroke-width="1.8"/>
<path d="M1827.7 754.2 L1838.7 754.2 L1833.2 763.2 Z" fill="#111"/>
<path d="M1827.7 763.7 H1838.7" stroke="#111" stroke-width="1.8"/>
<circle cx="1833.2" cy="815.1" r="3.4" fill="#111"/>
<rect x="1825.2" y="827.6" width="16" height="7" fill="#fff"/>
<path d="M1825.2 828.6 H1841.2 M1825.2 833.6 H1841.2" stroke="#111" stroke-width="3" fill="none"/>
<circle cx="1833.2" cy="848.7" r="3.4" fill="#111"/>
<path d="M1833.2 662.1 L1799.4 662.1 L1799.4 774.6" stroke="#111" stroke-width="1.69" fill="none"/>
<rect x="1791.4" y="699.9" width="16" height="10" fill="#fff"/>
<rect x="1791.4" y="699.9" width="16" height="3.5" fill="#fff" stroke="#111" stroke-width="1.3"/>
<path d="M1791.4 708.4 H1807.4" stroke="#111" stroke-width="3.2" fill="none"/>
<path d="M1799.4 774.6 L1800.0 946.1" stroke="#111" stroke-width="1.69" fill="none"/>
<rect x="1796.0" y="786.6" width="8" height="22" fill="#fff" stroke="#111" stroke-width="1.7"/>
<path d="M1796.0 793.6 L1804.0 798.6 M1796.0 797.6 L1804.0 802.6" stroke="#111" stroke-width="1.4" fill="none"/>
<rect x="1792.0" y="813.2" width="16" height="7" fill="#fff"/>
<path d="M1792.0 814.2 H1808.0 M1792.0 819.2 H1808.0" stroke="#111" stroke-width="3" fill="none"/>
<circle cx="1800.0" cy="831.1" r="3.4" fill="#111"/>
<rect x="1796.0" y="846.6" width="8" height="20" fill="#fff" stroke="#111" stroke-width="1.7"/>
<circle cx="1800.0" cy="877.4" r="3.4" fill="#111"/>
<rect x="1792.0" y="913.3" width="16" height="10" fill="#fff"/>
<rect x="1792.0" y="913.3" width="16" height="3.5" fill="#fff" stroke="#111" stroke-width="1.3"/>
<path d="M1792.0 921.8 H1808.0" stroke="#111" stroke-width="3.2" fill="none"/>
<path d="M1762.1 831.1 L1800.0 831.1" stroke="#111" stroke-width="1.69" fill="none"/>
<path d="M1800.0 877.4 L1789.0 877.4 L1789.0 864.6 L1814.3 847.1" stroke="#111" stroke-width="1.36" fill="none"/>
<path d="M1833.2 698.6 L1948.6 698.6" stroke="#111" stroke-width="1.69" fill="none"/>
<rect x="1845.3" y="694.6" width="20" height="8" fill="#fff" stroke="#111" stroke-width="1.7"/>
<circle cx="1889.5" cy="698.6" r="3.4" fill="#111"/>
<circle cx="1909.1" cy="698.6" r="3.4" fill="#111"/>
<path d="M1833.2 709.7 L1849.0 709.7 L1863.2 687.4" stroke="#111" stroke-width="1.36" fill="none"/>
<path d="M1859.1 685.3 L1866.4 689.0" stroke="#111" stroke-width="1.36" fill="none"/>
<path d="M1889.5 698.6 L1889.5 815.1" stroke="#111" stroke-width="1.69" fill="none"/>
<rect x="1885.5" y="740.0" width="8" height="18" fill="#fff" stroke="#111" stroke-width="1.7"/>
<path d="M1877.5 760.8 L1877.5 754.4 L1898.0 741.7" stroke="#111" stroke-width="1.36" fill="none"/>
<rect x="1885.5" y="788.6" width="8" height="18" fill="#fff" stroke="#111" stroke-width="1.7"/>
<path d="M1885.5 793.6 L1893.5 798.6 M1885.5 797.6 L1893.5 802.6" stroke="#111" stroke-width="1.4" fill="none"/>
<path d="M1909.1 698.6 L1910.0 850.3 L1947.0 850.3" stroke="#111" stroke-width="1.69" fill="none"/>
<rect x="1906.0" y="740.0" width="8" height="18" fill="#fff" stroke="#111" stroke-width="1.7"/>
<path d="M1906.0 745.0 L1914.0 750.0 M1906.0 749.0 L1914.0 754.0" stroke="#111" stroke-width="1.4" fill="none"/>
<circle cx="1910.0" cy="815.1" r="3.4" fill="#111"/>
<circle cx="1910.0" cy="850.3" r="3.4" fill="#111"/>
<path d="M1833.2 815.1 L1910.0 815.1" stroke="#111" stroke-width="1.69" fill="none"/>
<circle cx="1889.5" cy="815.1" r="3.4" fill="#111"/>
<circle cx="1863.2" cy="848.0" r="25" fill="#fff" stroke="#111" stroke-width="1.7"/>
<path d="M1861.2 837.0 V859.0" stroke="#111" stroke-width="5.5" fill="none"/>
<path d="M1838.2 848.0 H1861.2" stroke="#111" stroke-width="1.7"/>
<path d="M1863.2 844.0 L1883.95 834.0 M1863.2 852.0 L1883.95 862.0" stroke="#111" stroke-width="1.7" fill="none"/>
<path d="M1879.8 860.0 L1870.2 859.2 L1873.2 852.9 Z" fill="#111"/>
<path d="M1839.5 848.7 L1833.2 848.7" stroke="#111" stroke-width="1.69" fill="none"/>
<path d="M1883.8 832.7 L1889.5 823.1 L1889.5 815.1" stroke="#111" stroke-width="1.69" fill="none"/>
<path d="M1884.4 863.0 L1888.5 866.2 L1888.5 946.1" stroke="#111" stroke-width="1.69" fill="none"/>
<rect x="1884.5" y="911.1" width="8" height="22" fill="#fff" stroke="#111" stroke-width="1.7"/>
<path d="M1884.5 918.1 L1892.5 923.1 M1884.5 922.1 L1892.5 927.1" stroke="#111" stroke-width="1.4" fill="none"/>
<circle cx="1972.5" cy="700.1" r="25" fill="#fff" stroke="#111" stroke-width="1.7"/>
<path d="M1970.5 689.1 V711.1" stroke="#111" stroke-width="5.5" fill="none"/>
<path d="M1947.5 700.1 H1970.5" stroke="#111" stroke-width="1.7"/>
<path d="M1972.5 696.1 L1993.25 686.1 M1972.5 704.1 L1993.25 714.1" stroke="#111" stroke-width="1.7" fill="none"/>
<path d="M1989.1 712.1 L1979.5 711.3 L1982.5 705.0 Z" fill="#111"/>
<path d="M1993.3 685.3 L1998.1 681.8 L1998.1 660.5" stroke="#111" stroke-width="1.69" fill="none"/>
<path d="M1998.1 660.5 L1998.1 627.0" stroke="#111" stroke-width="1.24" fill="none" stroke-dasharray="7 3"/>
<path d="M1993.3 715.2 L1999.7 720.3" stroke="#111" stroke-width="1.69" fill="none"/>
<circle cx="1999.7" cy="720.3" r="3.4" fill="#111"/>
<path d="M1999.7 720.3 L1998.7 774.6" stroke="#111" stroke-width="1.69" fill="none"/>
<rect x="1994.7" y="741.2" width="8" height="20" fill="#fff" stroke="#111" stroke-width="1.7"/>
<path d="M1994.7 747.2 L2002.7 752.2 M1994.7 751.2 L2002.7 756.2" stroke="#111" stroke-width="1.4" fill="none"/>
<circle cx="1970.9" cy="848.7" r="25" fill="#fff" stroke="#111" stroke-width="1.7"/>
<path d="M1968.9 837.7 V859.7" stroke="#111" stroke-width="5.5" fill="none"/>
<path d="M1945.9 848.7 H1968.9" stroke="#111" stroke-width="1.5"/>
<path d="M1970.9 844.7 L1991.65 834.7 M1970.9 852.7 L1991.65 862.7" stroke="#111" stroke-width="1.5" fill="none"/>
<path d="M1973.6 843.4 L1984.1 842.2 L1981.1 835.9 Z" fill="#111"/>
<path d="M1991.7 834.3 L1998.1 831.1 L1998.1 823.1 L2002.9 823.1" stroke="#111" stroke-width="1.69" fill="none"/>
<path d="M1991.7 863.0 L1998.1 871.0 L1998.1 880.0" stroke="#111" stroke-width="1.69" fill="none"/>
<circle cx="1998.1" cy="880.0" r="3.4" fill="#111"/>
<path d="M1998.1 880.0 L2006.1 880.0" stroke="#111" stroke-width="1.69" fill="none"/>
<path d="M1910.0 850.3 L1910.0 880.0 L1998.1 880.0" stroke="#111" stroke-width="1.24" fill="none" stroke-dasharray="7 3"/>
<rect x="1926.1" y="872.0" width="7" height="16" fill="#fff"/>
<path d="M1927.1 872.0 V888.0 M1932.1 872.0 V888.0" stroke="#111" stroke-width="3" fill="none"/>
<path d="M1611.9 623.8 L1611.9 600.5 L1646.2 600.5" stroke="#111" stroke-width="1.69" fill="none"/>
<rect x="1646.2" y="582.9" width="66.9" height="35.8" fill="#fff" stroke="#111" stroke-width="1.7"/>
<path d="M1658.2420000000002 600.8 H1701.058" stroke="#111" stroke-width="1.4"/>
<text x="1679.65" y="598.3" font-size="13" font-style="italic" text-anchor="middle" fill="#111">45 V</text>
<text x="1679.65" y="612.8" font-size="13" font-style="italic" text-anchor="middle" fill="#111">35 V</text>
<circle cx="1645.2" cy="600.5" r="3.4" fill="#111"/>
<path d="M1891.7 893.4 L1901.2 899.8 L1901.2 969.4 L1912.2 969.4" stroke="#111" stroke-width="1.69" fill="none"/>
<rect x="1913.8" y="953.4" width="67.7" height="32.0" fill="#fff" stroke="#111" stroke-width="1.7"/>
<path d="M1925.986 969.4 H1969.314" stroke="#111" stroke-width="1.4"/>
<text x="1947.65" y="966.9" font-size="12" font-style="italic" text-anchor="middle" fill="#111">80 mA</text>
<text x="1947.65" y="980.4" font-size="12" font-style="italic" text-anchor="middle" fill="#111">60 mA</text>
<circle cx="1912.9" cy="969.4" r="3.4" fill="#111"/>
<path d="M1814.3 899.8 L1814.3 966.8 L1820.6 971.6" stroke="#111" stroke-width="1.69" fill="none"/>
<rect x="1822.2" y="953.4" width="67.3" height="30.4" fill="#fff" stroke="#111" stroke-width="1.7"/>
<text x="1855.85" y="973.2799999999999" font-size="14" font-style="italic" text-anchor="middle" fill="#111">0,6 V</text>
<circle cx="1820.6" cy="971.6" r="3.4" fill="#111"/>
<text x="1614.5" y="613.3" font-size="10.8" font-style="italic" text-anchor="start" fill="#111">R204</text>
<text x="1616.7" y="638.8" font-size="12.0" font-style="italic" text-anchor="start" fill="#111">1K</text>
<text x="1667.3" y="638.8" font-size="12.0" font-style="italic" text-anchor="start" fill="#111">R140</text>
<text x="1668.9" y="652.2" font-size="12.0" font-style="italic" text-anchor="start" fill="#111">15K</text>
<text x="1678.4" y="672.1" font-size="12.0" font-style="italic" text-anchor="start" fill="#111">C126</text>
<text x="1673.0" y="700.8" font-size="13.2" font-style="italic" text-anchor="start" fill="#111">47/63</text>
<text x="1627.8" y="719.9" font-size="10.8" font-style="italic" text-anchor="start" fill="#111">R141</text>
<text x="1628.5" y="733.7" font-size="12.0" font-style="italic" text-anchor="start" fill="#111">50K</text>
<text x="1627.8" y="792.5" font-size="12.0" font-style="italic" text-anchor="start" fill="#111">R142</text>
<text x="1627.2" y="805.2" font-size="12.0" font-style="italic" text-anchor="start" fill="#111">8,2K</text>
<text x="1672.1" y="801.4" font-size="17" font-style="italic" text-anchor="start" fill="#111">T106</text>
<text x="1669.5" y="819.9" font-size="17" font-style="italic" text-anchor="start" fill="#111">BC 313</text>
<text x="1937.5" y="650.0" font-size="17" font-style="italic" text-anchor="start" fill="#111">T108</text>
<text x="1937.5" y="668.6" font-size="17" font-style="italic" text-anchor="start" fill="#111">BC 211</text>
<text x="1948.6" y="800.8" font-size="17" font-style="italic" text-anchor="start" fill="#111">T110</text>
<text x="1939.1" y="819.0" font-size="17" font-style="italic" text-anchor="start" fill="#111">BC 313</text>
<text x="1838.0" y="884.4" font-size="17" font-style="italic" text-anchor="start" fill="#111">T107</text>
<text x="1840.2" y="899.8" font-size="17" font-style="italic" text-anchor="start" fill="#111">BC 211</text>
<text x="1626.9" y="836.5" font-size="12.0" font-style="italic" text-anchor="start" fill="#111">C125</text>
<text x="1621.5" y="866.9" font-size="12.0" font-style="italic" text-anchor="start" fill="#111">10/16</text>
<text x="1675.2" y="836.5" font-size="12.0" font-style="italic" text-anchor="start" fill="#111">R144</text>
<text x="1670.5" y="863.7" font-size="12.0" font-style="italic" text-anchor="start" fill="#111">2,2K</text>
<text x="1706.2" y="890.8" font-size="10.8" font-style="italic" text-anchor="start" fill="#111">C127</text>
<text x="1698.9" y="905.2" font-size="10.8" font-style="italic" text-anchor="start" fill="#111">100p</text>
<text x="1627.2" y="918.0" font-size="12.0" font-style="italic" text-anchor="start" fill="#111">R143</text>
<text x="1625.6" y="931.7" font-size="12.0" font-style="italic" text-anchor="start" fill="#111">30K</text>
<text x="1728.9" y="918.0" font-size="12.0" font-style="italic" text-anchor="start" fill="#111">R146</text>
<text x="1728.3" y="931.7" font-size="12.0" font-style="italic" text-anchor="start" fill="#111">510</text>
<text x="1766.9" y="918.0" font-size="12.0" font-style="italic" text-anchor="start" fill="#111">C130</text>
<text x="1816.8" y="918.9" font-size="12.0" font-style="italic" text-anchor="start" fill="#111">220/63</text>
<text x="1722.0" y="792.5" font-size="12.0" font-style="italic" text-anchor="start" fill="#111">R145</text>
<text x="1728.9" y="806.2" font-size="12.0" font-style="italic" text-anchor="start" fill="#111">2,2K</text>
<text x="1805.4" y="792.5" font-size="12.0" font-style="italic" text-anchor="start" fill="#111">R147</text>
<text x="1807.3" y="806.2" font-size="12.0" font-style="italic" text-anchor="start" fill="#111">1K</text>
<text x="1768.4" y="812.6" font-size="10.8" font-style="italic" text-anchor="start" fill="#111">C129</text>
<text x="1766.9" y="826.9" font-size="10.8" font-style="italic" text-anchor="start" fill="#111">270p</text>
<text x="1806.4" y="828.5" font-size="10.8" font-style="italic" text-anchor="start" fill="#111">C131</text>
<text x="1804.2" y="844.5" font-size="10.8" font-style="italic" text-anchor="start" fill="#111">100p</text>
<text x="1763.7" y="849.3" font-size="12.0" font-style="italic" text-anchor="start" fill="#111">R148</text>
<text x="1770.0" y="863.7" font-size="12.0" font-style="italic" text-anchor="start" fill="#111">510</text>
<text x="1794.4" y="642.0" font-size="12.0" font-style="italic" text-anchor="start" fill="#111">R149</text>
<text x="1798.5" y="654.8" font-size="12.0" font-style="italic" text-anchor="start" fill="#111">820</text>
<text x="1801.6" y="675.4" font-size="10.8" font-style="italic" text-anchor="start" fill="#111">R150</text>
<text x="1802.3" y="686.4" font-size="10.8" font-style="italic" text-anchor="start" fill="#111">2,2K</text>
<text x="1757.4" y="703.0" font-size="10.8" font-style="italic" text-anchor="start" fill="#111">C128</text>
<text x="1755.8" y="715.8" font-size="10.8" font-style="italic" text-anchor="start" fill="#111">100/63</text>
<text x="1846.5" y="682.3" font-size="12.0" font-style="italic" text-anchor="start" fill="#111">R151</text>
<text x="1852.8" y="715.2" font-size="12.0" font-style="italic" text-anchor="start" fill="#111">1K</text>
<text x="1851.6" y="665.0" font-size="12.0" font-style="italic" textLength="76.4" lengthAdjust="spacingAndGlyphs" text-anchor="start" fill="#111">Ruhestrom</text>
<text x="1823.7" y="736.9" font-size="10" font-style="italic" fill="#111" transform="rotate(-90 1823.7 736.9)">D104</text>
<text x="1825.3" y="768.8" font-size="10" font-style="italic" fill="#111" transform="rotate(-90 1825.3 768.8)">D102</text>
<text x="1849.7" y="770.4" font-size="9" font-style="italic" fill="#111" transform="rotate(-90 1849.7 770.4)">3×GA101</text>
<text x="1853.8" y="731.1" font-size="12.0" font-style="italic" text-anchor="start" fill="#111">R152</text>
<text x="1855.3" y="744.5" font-size="12.0" font-style="italic" text-anchor="start" fill="#111">1,8K</text>
<text x="1866.4" y="761.8" font-size="12.0" font-style="italic" text-anchor="start" fill="#111">ϑ</text>
<text x="1915.4" y="731.8" font-size="12.0" font-style="italic" text-anchor="start" fill="#111">R155</text>
<text x="1919.2" y="744.5" font-size="12.0" font-style="italic" text-anchor="start" fill="#111">1K</text>
<text x="1855.3" y="792.5" font-size="12.0" font-style="italic" text-anchor="start" fill="#111">R153</text>
<text x="1854.7" y="806.2" font-size="12.0" font-style="italic" text-anchor="start" fill="#111">620</text>
<text x="1961.4" y="747.7" font-size="12.0" font-style="italic" text-anchor="start" fill="#111">R156</text>
<text x="1965.5" y="761.5" font-size="12.0" font-style="italic" text-anchor="start" fill="#111">220</text>
<text x="1915.4" y="868.5" font-size="12.0" font-style="italic" text-anchor="start" fill="#111">C139</text>
<text x="1920.1" y="898.8" font-size="12.0" font-style="italic" text-anchor="start" fill="#111">2,2n</text>
<text x="1905.9" y="918.0" font-size="12.0" font-style="italic" text-anchor="start" fill="#111">R154</text>
<text x="1910.6" y="931.7" font-size="12.0" font-style="italic" text-anchor="start" fill="#111">10</text>
<text x="1656.3" y="959.5" font-size="13.2" font-style="italic" textLength="77.4" lengthAdjust="spacingAndGlyphs" text-anchor="start" fill="#111">Symmetrie</text>
<text x="1747.3" y="963.6" font-size="13.2" font-style="italic" textLength="51.2" lengthAdjust="spacingAndGlyphs" text-anchor="start" fill="#111">Verstär-</text>
<text x="1773.2" y="978.7" font-size="13.2" font-style="italic" textLength="33.2" lengthAdjust="spacingAndGlyphs" text-anchor="start" fill="#111">kung</text>
<path d="M1995.7 624.9 L2214.3 626.5" stroke="#111" stroke-width="1.69" fill="none"/>
<circle cx="2122.7" cy="626.2" r="3.4" fill="#111"/>
<path d="M2214.3 626.5 L2252.4 626.5" stroke="#111" stroke-width="1.69" fill="none"/>
<rect x="2216.9" y="623.0" width="22" height="7" rx="2" fill="#fff" stroke="#111" stroke-width="1.3"/>
<circle cx="2100.4" cy="700.0" r="25" fill="#fff" stroke="#111" stroke-width="1.7"/>
<path d="M2098.4 689.0 V711.0" stroke="#111" stroke-width="5.5" fill="none"/>
<path d="M2075.4 700.0 H2098.4" stroke="#111" stroke-width="1.7"/>
<path d="M2100.4 696.0 L2121.15 686.0 M2100.4 704.0 L2121.15 714.0" stroke="#111" stroke-width="1.7" fill="none"/>
<path d="M2117.0 712.0 L2107.4 711.2 L2110.4 704.9 Z" fill="#111"/>
<path d="M2120.8 684.1 L2123.4 677.1 L2123.4 626.2" stroke="#111" stroke-width="1.69" fill="none"/>
<path d="M1999.5 718.9 L2045.1 718.2 L2045.1 700.0 L2075.5 700.0" stroke="#111" stroke-width="1.69" fill="none"/>
<path d="M2120.8 716.0 L2125.0 719.8 L2125.0 820.4" stroke="#111" stroke-width="1.69" fill="none"/>
<rect x="2120.0" y="741.8" width="8" height="20" fill="#fff" stroke="#111" stroke-width="1.7"/>
<path d="M2120.0 747.8 L2128.0 752.8 M2120.0 751.8 L2128.0 756.8" stroke="#111" stroke-width="1.4" fill="none"/>
<circle cx="2125.0" cy="773.5" r="3.4" fill="#111"/>
<rect x="2121.0" y="786.5" width="8" height="20" fill="#fff" stroke="#111" stroke-width="1.7"/>
<path d="M2121.0 792.5 L2129.0 797.5 M2121.0 796.5 L2129.0 801.5" stroke="#111" stroke-width="1.4" fill="none"/>
<circle cx="2125.0" cy="820.4" r="3.4" fill="#111"/>
<path d="M2113.8 633.5 L2113.8 657.1" stroke="#111" stroke-width="1.36" fill="none"/>
<path d="M2113.8 663.9 L2110.8 654.9 L2116.8 654.9 Z" fill="#111"/>
<path d="M2124.0 654.0 L2134.8 654.0" stroke="#111" stroke-width="1.69" fill="none"/>
<rect x="2135.8" y="635.8" width="75.2" height="37.3" fill="#fff" stroke="#111" stroke-width="1.7"/>
<path d="M2149.3360000000002 654.45 H2197.464" stroke="#111" stroke-width="1.4"/>
<text x="2173.4" y="651.95" font-size="12" font-style="italic" text-anchor="middle" fill="#111">50 mA</text>
<text x="2173.4" y="665.45" font-size="12" font-style="italic" text-anchor="middle" fill="#111">1,2 A</text>
<circle cx="2134.8" cy="654.6" r="3.4" fill="#111"/>
<rect x="2012.6" y="728.8" width="66.7" height="31.9" fill="#fff" stroke="#111" stroke-width="1.7"/>
<path d="M2024.606 744.75 H2067.2940000000003" stroke="#111" stroke-width="1.4"/>
<text x="2045.95" y="742.25" font-size="11" font-style="italic" text-anchor="middle" fill="#111">27-30V</text>
<text x="2045.95" y="754.75" font-size="11" font-style="italic" text-anchor="middle" fill="#111">20-22V</text>
<circle cx="2012.6" cy="747.0" r="3.4" fill="#111"/>
<path d="M2012.6 747.0 L2006.8 747.0 L2006.8 770.9" stroke="#111" stroke-width="1.36" fill="none"/>
<path d="M1998.2 773.5 L2125.0 773.5" stroke="#111" stroke-width="1.36" fill="none" stroke-dasharray="9 3"/>
<path d="M2125.0 773.5 L2253.0 776.4" stroke="#111" stroke-width="1.69" fill="none"/>
<rect x="2143.7" y="770.1" width="24" height="8" fill="#fff" stroke="#111" stroke-width="1.4"/>
<text x="2152.7" y="777.1" font-size="7" font-style="italic" fill="#111">D</text>
<rect x="2199.4" y="766.8" width="10" height="16" fill="#fff"/>
<rect x="2199.4" y="766.8" width="3.5" height="16" fill="#fff" stroke="#111" stroke-width="1.3"/>
<path d="M2207.9 766.8 V782.8" stroke="#111" stroke-width="3.2" fill="none"/>
<circle cx="2225.2" cy="776.4" r="3.4" fill="#111"/>
<path d="M2225.9 698.1 L2227.5 776.4" stroke="#111" stroke-width="1.36" fill="none" stroke-dasharray="7 3"/>
<rect x="2223.5" y="741.8" width="8" height="20" fill="#fff" stroke="#111" stroke-width="1.7"/>
<path d="M2223.5 747.8 L2231.5 752.8 M2223.5 751.8 L2231.5 756.8" stroke="#111" stroke-width="1.4" fill="none"/>
<path d="M2227.5 776.4 L2227.5 967.3" stroke="#111" stroke-width="1.69" fill="none"/>
<rect x="2223.5" y="809.4" width="8" height="22" fill="#fff" stroke="#111" stroke-width="1.7"/>
<path d="M2223.5 820.4 H2231.5" stroke="#111" stroke-width="1.2"/>
<circle cx="2227.5" cy="851.7" r="3.4" fill="#111"/>
<circle cx="2227.5" cy="944.9" r="3.4" fill="#111"/>
<path d="M2219.5 967.9 H2235.5" stroke="#111" stroke-width="4" fill="none"/>
<path d="M1976.5 944.9 L2227.5 944.9" stroke="#111" stroke-width="1.69" fill="none"/>
<circle cx="2031.4" cy="944.9" r="3.4" fill="#111"/>
<circle cx="2066.9" cy="944.9" r="3.4" fill="#111"/>
<circle cx="2125.9" cy="944.9" r="3.4" fill="#111"/>
<circle cx="2100.4" cy="847.6" r="25" fill="#fff" stroke="#111" stroke-width="1.7"/>
<path d="M2098.4 836.6 V858.6" stroke="#111" stroke-width="5.5" fill="none"/>
<path d="M2075.4 847.6 H2098.4" stroke="#111" stroke-width="1.7"/>
<path d="M2100.4 843.6 L2121.15 833.6 M2100.4 851.6 L2121.15 861.6" stroke="#111" stroke-width="1.7" fill="none"/>
<path d="M2117.0 859.6 L2107.4 858.8 L2110.4 852.5 Z" fill="#111"/>
<path d="M2120.8 831.6 L2125.0 826.8 L2125.0 820.4" stroke="#111" stroke-width="1.69" fill="none"/>
<path d="M2125.0 820.4 L2066.9 820.4 L2000.4 821.4" stroke="#111" stroke-width="1.69" fill="none"/>
<circle cx="2066.9" cy="820.4" r="3.4" fill="#111"/>
<path d="M1998.8 878.8 L2045.1 878.8 L2045.1 849.2 L2075.5 849.2" stroke="#111" stroke-width="1.69" fill="none"/>
<circle cx="2031.4" cy="878.8" r="3.4" fill="#111"/>
<path d="M2120.8 863.5 L2126.6 869.3 L2126.6 944.9" stroke="#111" stroke-width="1.69" fill="none"/>
<circle cx="2126.6" cy="869.3" r="3.4" fill="#111"/>
<path d="M2066.9 820.4 L2066.9 944.9" stroke="#111" stroke-width="1.69" fill="none"/>
<rect x="2062.9" y="883.9" width="8" height="20" fill="#fff" stroke="#111" stroke-width="1.7"/>
<rect x="2058.9" y="915.9" width="16" height="7" fill="#fff"/>
<path d="M2058.9 916.9 H2074.9 M2058.9 921.9 H2074.9" stroke="#111" stroke-width="3" fill="none"/>
<path d="M2031.4 878.8 L2031.4 944.9" stroke="#111" stroke-width="1.69" fill="none"/>
<rect x="2028.4" y="913.2" width="8" height="22" fill="#fff" stroke="#111" stroke-width="1.7"/>
<path d="M2028.4 920.2 L2036.4 925.2 M2028.4 924.2 L2036.4 929.2" stroke="#111" stroke-width="1.4" fill="none"/>
<text x="2214.6" y="618.2" font-size="10.8" font-style="italic" text-anchor="start" fill="#111">Si2</text>
<text x="2217.9" y="642.2" font-size="10.8" font-style="italic" text-anchor="start" fill="#111">1,6AF</text>
<text x="2038.8" y="648.5" font-size="17" font-style="italic" text-anchor="start" fill="#111">T109</text>
<text x="2032.4" y="666.3" font-size="17" font-style="italic" text-anchor="start" fill="#111">KU 607</text>
<text x="2078.7" y="882.7" font-size="17" font-style="italic" text-anchor="start" fill="#111">T112</text>
<text x="2072.3" y="898.6" font-size="17" font-style="italic" text-anchor="start" fill="#111">KU607</text>
<text x="2084.4" y="749.2" font-size="12.0" font-style="italic" text-anchor="start" fill="#111">R159</text>
<text x="2088.2" y="762.6" font-size="12.0" font-style="italic" text-anchor="start" fill="#111">0,5</text>
<text x="2085.1" y="793.9" font-size="12.0" font-style="italic" text-anchor="start" fill="#111">R160</text>
<text x="2088.9" y="807.3" font-size="12.0" font-style="italic" text-anchor="start" fill="#111">0,5</text>
<text x="2146.4" y="765.2" font-size="10.8" font-style="italic" text-anchor="start" fill="#111">R163</text>
<text x="2144.8" y="791.4" font-size="12.0" font-style="italic" text-anchor="start" fill="#111">0,25</text>
<text x="2185.5" y="764.5" font-size="12.0" font-style="italic" text-anchor="start" fill="#111">C133</text>
<text x="2180.2" y="792.3" font-size="12.0" font-style="italic" text-anchor="start" fill="#111">2200/80</text>
<text x="2235.8" y="747.6" font-size="10.8" font-style="italic" text-anchor="start" fill="#111">R167</text>
<text x="2235.8" y="758.8" font-size="12.0" font-style="italic" text-anchor="start" fill="#111">82</text>
<text x="2191.1" y="817.9" font-size="12.0" font-style="italic" text-anchor="start" fill="#111">R166</text>
<text x="2176.2" y="830.6" font-size="10.8" font-style="italic" text-anchor="start" fill="#111">270/1W</text>
<text x="2037.2" y="891.3" font-size="12.0" font-style="italic" text-anchor="start" fill="#111">R158</text>
<text x="2042.0" y="902.5" font-size="10.8" font-style="italic" text-anchor="start" fill="#111">10</text>
<text x="1996.3" y="916.8" font-size="12.0" font-style="italic" text-anchor="start" fill="#111">R157</text>
<text x="1998.2" y="930.6" font-size="12.0" font-style="italic" text-anchor="start" fill="#111">220</text>
<text x="2079.3" y="914.6" font-size="12.0" font-style="italic" text-anchor="start" fill="#111">C132</text>
<text x="2078.0" y="929.0" font-size="12.0" font-style="italic" text-anchor="start" fill="#111">0,1µ</text>
<text x="1980.0" y="130.0" font-size="1.2" font-style="italic" text-anchor="start" fill="#111"></text>
<path d="M2251.4 239.5 L2272.1 239.5" stroke="#111" stroke-width="1.69" fill="none"/>
<path d="M2272.1 239.5 L2272.1 259.3" stroke="#111" stroke-width="1.24" fill="none" stroke-dasharray="6 3"/>
<path d="M2221.1 275.3 L2304.1 275.3" stroke="#111" stroke-width="1.24" fill="none" stroke-dasharray="9 3 2 3"/>
<circle cx="2272.8" cy="275.3" r="16" fill="#fff" stroke="#111" stroke-width="1.5"/>
<path d="M2267.8 267.3 H2277.8 M2267.8 283.3 H2277.8 M2272.8 267.3 V283.3" stroke="#111" stroke-width="1.5"/>
<path d="M2303.1 218.4 L2327.1 242.4 L2303.1 266.4 L2279.1 242.4 Z" fill="#fff" stroke="#111" stroke-width="1.7"/>
<text x="2303.1" y="246.4" font-size="11" font-style="italic" text-anchor="middle" fill="#111">10 V</text>
<path d="M2303.1 266.7 L2303.1 389.3 L2253.0 390.9" stroke="#111" stroke-width="1.36" fill="none" stroke-dasharray="12 3 2 3"/>
<path d="M2225.8 312.6 L2313.7 312.6 L2315.2 600.0" stroke="#111" stroke-width="1.69" fill="none"/>
<path d="M2227.4 466.2 L2280.1 466.2 L2280.1 444.5" stroke="#111" stroke-width="1.69" fill="none"/>
<path d="M2281.1 412.6 L2281.1 393.4" stroke="#111" stroke-width="1.69" fill="none"/>
<circle cx="2281.1" cy="428.5" r="16.5" fill="#fff" stroke="#111" stroke-width="1.6"/>
<circle cx="2281.1" cy="421.5" r="2.6" fill="#fff" stroke="#111" stroke-width="1.3"/>
<path d="M2273.1 433.0 H2289.1" stroke="#111" stroke-width="3.4"/>
<text x="2256.2" y="403.6" font-size="13.2" font-style="italic" textLength="46.3" lengthAdjust="spacingAndGlyphs" text-anchor="start" fill="#111">2≡ 4Ω</text>
<path d="M2315.2 540.0 L2315.2 597.5 L2299.3 597.5" stroke="#111" stroke-width="1.69" fill="none"/>
<path d="M2275.3 567.1 L2275.3 556.0 L2329.6 556.0" stroke="#111" stroke-width="1.69" fill="none"/>
<circle cx="2292.9" cy="556.0" r="3.4" fill="#111"/>
<path d="M2292.9 556.0 L2292.9 568.7" stroke="#111" stroke-width="1.69" fill="none"/>
<path d="M2330.6 549.0 V563.0" stroke="#111" stroke-width="4"/>
<circle cx="2281.7" cy="587.9" r="21" fill="#fff" stroke="#111" stroke-width="1.8"/>
<path d="M2278.3 568.1 H2288.3" stroke="#111" stroke-width="4"/>
<path d="M2262.6 600.7 L2259.4 600.7 L2259.4 614.1 L2297.7 614.1 L2297.7 701.2 L2224.3 701.2" stroke="#111" stroke-width="1.69" fill="none"/>
<text x="2304.1" y="636.7" font-size="13.2" font-style="italic" textLength="38.3" lengthAdjust="spacingAndGlyphs" text-anchor="start" fill="#111">Hörer</text>
<path d="M2253.0 626.2 L2269.9 626.2 L2269.9 650.2" stroke="#111" stroke-width="1.69" fill="none"/>
<circle cx="2272.1" cy="666.1" r="16" fill="#fff" stroke="#111" stroke-width="1.5"/>
<path d="M2267.1 658.1 H2277.1 M2267.1 674.1 H2277.1 M2272.1 658.1 V674.1" stroke="#111" stroke-width="1.5"/>
<path d="M2252.0 773.7 L2291.3 772.4 L2315.2 772.4 L2315.2 859.3" stroke="#111" stroke-width="1.69" fill="none"/>
<path d="M2314.6 859.2 L2339.6 884.2 L2314.6 909.2 L2289.6 884.2 Z" fill="#fff" stroke="#111" stroke-width="1.7"/>
<text x="2314.6" y="888.2" font-size="12" font-style="italic" text-anchor="middle" fill="#111">10 V</text>
<path d="M2225.8 849.1 L2283.3 849.1 L2283.3 824.2" stroke="#111" stroke-width="1.69" fill="none"/>
<path d="M2283.3 790.6 L2283.3 776.3" stroke="#111" stroke-width="1.69" fill="none"/>
<circle cx="2283.3" cy="807.6" r="16.5" fill="#fff" stroke="#111" stroke-width="1.6"/>
<circle cx="2283.3" cy="800.6" r="2.6" fill="#fff" stroke="#111" stroke-width="1.3"/>
<path d="M2275.3 812.1 H2291.3" stroke="#111" stroke-width="3.4"/>
<text x="2257.8" y="782.7" font-size="13.2" font-style="italic" text-anchor="start" fill="#111">2≡</text>
<text x="2286.5" y="782.7" font-size="13.2" font-style="italic" text-anchor="start" fill="#111">4Ω</text>
<text x="105.9" y="1016.7" font-size="14.4" font-style="italic" textLength="19.7" lengthAdjust="spacingAndGlyphs" text-anchor="start" fill="#111">ein</text>
<text x="160.0" y="1016.7" font-size="14.4" font-style="italic" textLength="55.7" lengthAdjust="spacingAndGlyphs" text-anchor="start" fill="#111">tonband</text>
<text x="222.9" y="1016.7" font-size="14.4" font-style="italic" textLength="35.4" lengthAdjust="spacingAndGlyphs" text-anchor="start" fill="#111">tuner</text>
<text x="263.2" y="1016.7" font-size="14.4" font-style="italic" textLength="50.8" lengthAdjust="spacingAndGlyphs" text-anchor="start" fill="#111">phono II</text>
<text x="318.9" y="1016.7" font-size="14.4" font-style="italic" textLength="49.2" lengthAdjust="spacingAndGlyphs" text-anchor="start" fill="#111">phono I</text>
<text x="376.3" y="1016.7" font-size="14.4" font-style="italic" textLength="41.0" lengthAdjust="spacingAndGlyphs" text-anchor="start" fill="#111">mikro</text>
<text x="430.4" y="1016.7" font-size="14.4" font-style="italic" textLength="39.3" lengthAdjust="spacingAndGlyphs" text-anchor="start" fill="#111">mono</text>
<text x="480.2" y="1016.7" font-size="14.4" font-style="italic" textLength="48.5" lengthAdjust="spacingAndGlyphs" text-anchor="start" fill="#111">rumpel</text>
<text x="540.2" y="1016.7" font-size="14.4" font-style="italic" textLength="49.1" lengthAdjust="spacingAndGlyphs" text-anchor="start" fill="#111">kontur</text>
<circle cx="122.3" cy="1044.9" r="17" fill="none" stroke="#111" stroke-width="1.4"/>
<circle cx="178.0" cy="1044.9" r="17" fill="none" stroke="#111" stroke-width="1.4"/>
<circle cx="234.7" cy="1044.9" r="17" fill="none" stroke="#111" stroke-width="1.4"/>
<circle cx="286.2" cy="1044.9" r="17" fill="none" stroke="#111" stroke-width="1.4"/>
<circle cx="337.9" cy="1044.9" r="17" fill="none" stroke="#111" stroke-width="1.4"/>
<circle cx="394.3" cy="1044.9" r="17" fill="none" stroke="#111" stroke-width="1.4"/>
<circle cx="446.1" cy="1044.9" r="17" fill="none" stroke="#111" stroke-width="1.4"/>
<circle cx="496.9" cy="1044.9" r="17" fill="none" stroke="#111" stroke-width="1.4"/>
<circle cx="554.9" cy="1044.9" r="17" fill="none" stroke="#111" stroke-width="1.4"/>
<path d="M223.2 1065.9 L222.6 1057.2 L229.2 1059.6 Z" fill="#111"/>
<text x="604.1" y="1051.5" font-size="14.4" font-style="italic" textLength="140.9" lengthAdjust="spacingAndGlyphs" text-anchor="start" fill="#111">Tastenfrontansicht</text>
<circle cx="528.0" cy="1102.9" r="20.5" fill="#fff" stroke="#111" stroke-width="1.5" stroke-dasharray="14 2"/>
<path d="M524.7 1084.9 H532.7" stroke="#111" stroke-width="4"/>
<text x="577.2" y="1102.3" font-size="14.4" font-style="italic" textLength="92.4" lengthAdjust="spacingAndGlyphs" text-anchor="start" fill="#111">Hörerbuchse</text>
<circle cx="123.3" cy="1153.1" r="23.5" fill="#fff" stroke="#111" stroke-width="1.6"/>
<path d="M118.3 1131.1 H128.3" stroke="#111" stroke-width="4.5"/>
<text x="92.8" y="1158.6" font-size="13.2" font-style="italic" font-weight="bold" text-anchor="start" fill="#111">1</text>
<text x="150.1" y="1158.6" font-size="12.0" font-style="italic" text-anchor="start" fill="#111">3</text>
<text x="104.2" y="1179.3" font-size="13.2" font-style="italic" text-anchor="start" fill="#111">4</text>
<text x="123.9" y="1180.6" font-size="12.0" font-style="italic" font-weight="bold" text-anchor="start" fill="#111">2</text>
<text x="142.6" y="1173.4" font-size="12.0" font-style="italic" text-anchor="start" fill="#111">5</text>
<text x="83.6" y="1190.8" font-size="14.4" font-style="italic" font-weight="bold" textLength="95.0" lengthAdjust="spacingAndGlyphs" text-anchor="start" fill="#111">Diodenbuchse</text>
<text x="82.9" y="1210.4" font-size="14" font-style="italic" textLength="103.3" lengthAdjust="spacingAndGlyphs" text-anchor="start" fill="#111">Rückansicht</text>
<text x="197.7" y="1131.8" font-size="14.4" font-style="italic" font-weight="bold" textLength="45.8" lengthAdjust="spacingAndGlyphs" text-anchor="start" fill="#111">SC 239</text>
<text x="197.7" y="1153.1" font-size="13.2" font-style="italic" font-weight="bold" textLength="35.4" lengthAdjust="spacingAndGlyphs" text-anchor="start" fill="#111">E B C</text>
<rect x="195.4" y="1157.0" width="42.6" height="9.8" rx="3" fill="#fff" stroke="#111" stroke-width="1.5"/>
<path d="M200.2 1161.3 H208.2" stroke="#111" stroke-width="2.6"/>
<path d="M212.7 1161.3 H220.7" stroke="#111" stroke-width="2.6"/>
<path d="M225.8 1161.3 H233.8" stroke="#111" stroke-width="2.6"/>
<circle cx="317.3" cy="1155.4" r="18" fill="#fff" stroke="#111" stroke-width="1.5"/>
<path d="M301.9 1161.9 L299.9 1168.5 L305.8 1171.7" stroke="#111" stroke-width="1.47" fill="none"/>
<text x="314.0" y="1135.7" font-size="12.0" font-style="italic" font-weight="bold" text-anchor="start" fill="#111">B</text>
<text x="332.7" y="1142.2" font-size="12.0" font-style="italic" text-anchor="start" fill="#111">C</text>
<text x="288.4" y="1153.7" font-size="12.0" font-style="italic" text-anchor="start" fill="#111">E</text>
<text x="277.3" y="1187.5" font-size="14.4" font-style="italic" font-weight="bold" textLength="67.2" lengthAdjust="spacingAndGlyphs" text-anchor="start" fill="#111">BC 211/313</text>
<path d="M401.5 1096.1 Q413.5 1098.1 418.5 1110.1 L436.5 1149.1 Q437.5 1155.1 434.5 1162.1 L416.5 1198.1 Q409.5 1208.1 401.5 1208.1 Q393.5 1208.1 386.5 1198.1 L368.5 1162.1 Q365.5 1155.1 366.5 1149.1 L384.5 1110.1 Q389.5 1098.1 401.5 1096.1 Z" fill="#fff" stroke="#111" stroke-width="1.8"/>
<circle cx="387.1" cy="1143.9" r="4" fill="#111"/>
<circle cx="414.0" cy="1143.2" r="4" fill="#111"/>
<text x="381.9" y="1160.9" font-size="13.2" font-style="italic" font-weight="bold" text-anchor="start" fill="#111">B</text>
<text x="407.4" y="1160.9" font-size="13.2" font-style="italic" font-weight="bold" text-anchor="start" fill="#111">E</text>
<text x="368.1" y="1228.4" font-size="14.4" font-style="italic" font-weight="bold" textLength="52.4" lengthAdjust="spacingAndGlyphs" text-anchor="start" fill="#111">KU 607</text>
<text x="507.4" y="1169.4" font-size="14.4" font-style="italic" textLength="272.0" lengthAdjust="spacingAndGlyphs" text-anchor="start" fill="#111">Alle Schaltkontakte in Ruhestellung !</text>
<text x="505.1" y="1188.1" font-size="14.4" font-style="italic" textLength="264.5" lengthAdjust="spacingAndGlyphs" text-anchor="start" fill="#111">Gleichspannungen gem. mit 20kΩ/V</text>
<rect x="885.8" y="1056.2" width="341.8" height="260.6" fill="#fff" stroke="#111" stroke-width="1.5"/>
<path d="M885.8 1087.3 L1227.6 1087.3" stroke="#111" stroke-width="1.58" fill="none"/>
<path d="M1059.7 1087.3 L1059.7 1316.8" stroke="#111" stroke-width="2.26" fill="none"/>
<path d="M1143.4 1087.3 L1143.4 1316.8" stroke="#111" stroke-width="1.36" fill="none"/>
<path d="M885.8 1117.2 L1227.6 1117.2" stroke="#111" stroke-width="1.69" fill="none"/>
<path d="M885.8 1146.4 L1227.6 1146.4" stroke="#111" stroke-width="1.69" fill="none"/>
<path d="M885.8 1175.5 L1227.6 1175.5" stroke="#111" stroke-width="1.69" fill="none"/>
<path d="M885.8 1261.6 L1227.6 1261.6" stroke="#111" stroke-width="1.69" fill="none"/>
<path d="M885.8 1202.5 L1059.7 1202.5" stroke="#111" stroke-width="1.69" fill="none"/>
<path d="M885.8 1231.5 L1227.6 1231.5" stroke="#111" stroke-width="1.58" fill="none" stroke-dasharray="9 4"/>
<path d="M885.8 1289.8 L1059.7 1289.8" stroke="#111" stroke-width="1.36" fill="none" stroke-dasharray="12 2"/>
<path d="M973.4 1202.5 L973.4 1261.6" stroke="#111" stroke-width="1.69" fill="none"/>
<text x="975.4" y="1075.9" font-size="17" font-style="italic" textLength="170.4" lengthAdjust="spacingAndGlyphs" text-anchor="start" fill="#111">Äquivalente  Typen</text>
<text x="895.6" y="1105.4" font-size="13.2" font-style="italic" textLength="56.2" lengthAdjust="spacingAndGlyphs" text-anchor="start" fill="#111">T1 / T101</text>
<text x="973.4" y="1105.4" font-size="13.2" font-style="italic" textLength="60.1" lengthAdjust="spacingAndGlyphs" text-anchor="start" fill="#111">T5 / T105</text>
<text x="1067.0" y="1105.4" font-size="13.2" font-style="italic" textLength="69.9" lengthAdjust="spacingAndGlyphs" text-anchor="start" fill="#111">SC 207 d/e</text>
<text x="1148.8" y="1105.4" font-size="13.2" font-style="italic" textLength="68.9" lengthAdjust="spacingAndGlyphs" text-anchor="start" fill="#111">BC 109 a/b</text>
<text x="939.9" y="1134.6" font-size="13.2" font-style="italic" textLength="66.0" lengthAdjust="spacingAndGlyphs" text-anchor="start" fill="#111">T6 / T 106</text>
<text x="1068.0" y="1134.6" font-size="13.2" font-style="italic" textLength="42.3" lengthAdjust="spacingAndGlyphs" text-anchor="start" fill="#111">BC 313</text>
<text x="1156.6" y="1134.6" font-size="13.2" font-style="italic" textLength="47.3" lengthAdjust="spacingAndGlyphs" text-anchor="start" fill="#111">KFY 16</text>
<text x="938.0" y="1164.1" font-size="13.2" font-style="italic" textLength="67.9" lengthAdjust="spacingAndGlyphs" text-anchor="start" fill="#111">T7 / T 107</text>
<text x="1068.0" y="1164.1" font-size="13.2" font-style="italic" textLength="39.4" lengthAdjust="spacingAndGlyphs" text-anchor="start" fill="#111">BC 211</text>
<text x="1153.7" y="1164.1" font-size="13.2" font-style="italic" textLength="56.1" lengthAdjust="spacingAndGlyphs" text-anchor="start" fill="#111">SF 128d</text>
<text x="893.6" y="1187.8" font-size="12.0" font-style="italic" textLength="139.9" lengthAdjust="spacingAndGlyphs" text-anchor="start" fill="#111">Quasi - Pärchen mit</text>
<text x="935.0" y="1200.0" font-size="12.0" font-style="italic" textLength="81.8" lengthAdjust="spacingAndGlyphs" text-anchor="start" fill="#111">Kühlkörper</text>
<text x="907.4" y="1218.7" font-size="13.2" font-style="italic" textLength="19.7" lengthAdjust="spacingAndGlyphs" text-anchor="start" fill="#111">T 8</text>
<text x="990.2" y="1218.7" font-size="13.2" font-style="italic" textLength="33.5" lengthAdjust="spacingAndGlyphs" text-anchor="start" fill="#111">T 108</text>
<text x="1067.0" y="1207.8" font-size="13.2" font-style="italic" textLength="41.4" lengthAdjust="spacingAndGlyphs" text-anchor="start" fill="#111">BC 211</text>
<text x="1149.7" y="1207.8" font-size="13.2" font-style="italic" textLength="58.2" lengthAdjust="spacingAndGlyphs" text-anchor="start" fill="#111">SF 128 d</text>
<text x="905.5" y="1250.8" font-size="13.2" font-style="italic" textLength="23.6" lengthAdjust="spacingAndGlyphs" text-anchor="start" fill="#111">T 10</text>
<text x="987.8" y="1250.8" font-size="13.2" font-style="italic" textLength="33.9" lengthAdjust="spacingAndGlyphs" text-anchor="start" fill="#111">T 110</text>
<text x="1067.0" y="1250.2" font-size="13.2" font-style="italic" textLength="43.3" lengthAdjust="spacingAndGlyphs" text-anchor="start" fill="#111">BC 313</text>
<text x="1149.7" y="1250.2" font-size="13.2" font-style="italic" textLength="51.3" lengthAdjust="spacingAndGlyphs" text-anchor="start" fill="#111">KFY 16</text>
<text x="943.9" y="1277.8" font-size="13.2" font-style="italic" textLength="60.1" lengthAdjust="spacingAndGlyphs" text-anchor="start" fill="#111">Pärchen</text>
<text x="892.7" y="1306.4" font-size="13.2" font-style="italic" textLength="41.3" lengthAdjust="spacingAndGlyphs" text-anchor="start" fill="#111">T9, 12</text>
<text x="954.7" y="1306.4" font-size="13.2" font-style="italic" text-anchor="start" fill="#111">/</text>
<text x="982.3" y="1306.4" font-size="13.2" font-style="italic" textLength="59.1" lengthAdjust="spacingAndGlyphs" text-anchor="start" fill="#111">T 109, 112</text>
<text x="1070.9" y="1295.5" font-size="13.2" font-style="italic" textLength="47.3" lengthAdjust="spacingAndGlyphs" text-anchor="start" fill="#111">KD 607</text>
<text x="1151.7" y="1295.5" font-size="13.2" font-style="italic" textLength="61.1" lengthAdjust="spacingAndGlyphs" text-anchor="start" fill="#111">2 N 3055</text>
<path d="M1573.5 1123.2 H1585.5" stroke="#111" stroke-width="3.4"/>
<path d="M1573.5 1161.1 H1585.5" stroke="#111" stroke-width="3.4"/>
<path d="M1573.5 1190.8 H1585.5" stroke="#111" stroke-width="3.4"/>
<path d="M1589.7 1123.2 L1589.7 1190.8" stroke="#111" stroke-width="2.03" fill="none"/>
<path d="M1589.7 1122.2 q8.2 -9 16.4 0 t16.4 0 h8.2" stroke="#111" stroke-width="1.4" fill="none"/>
<path d="M1589.7 1160.1 q8.2 -9 16.4 0 t16.4 0 h8.2" stroke="#111" stroke-width="1.4" fill="none"/>
<path d="M1589.7 1191.8 q8.2 -9 16.4 0 t16.4 0 h8.2" stroke="#111" stroke-width="1.4" fill="none"/>
<path d="M1637.8 1114.0 L1650.1 1121.2" stroke="#111" stroke-width="1.58" fill="none"/>
<path d="M1652.6 1121.2 L1656.3 1119.7 L1720.8 1119.7" stroke="#111" stroke-width="1.69" fill="none"/>
<rect x="1684.8" y="1116.1" width="20" height="8" rx="1.5" fill="#fff" stroke="#111" stroke-width="1.3"/>
<path d="M1621.5 1158.6 L1689.0 1158.6 L1689.0 1226.6" stroke="#111" stroke-width="1.69" fill="none"/>
<path d="M1683.0 1227.1 H1695.0 M1685.0 1229.6 H1693.0 M1687.0 1232.1 H1691.0" stroke="#111" stroke-width="1.1"/>
<path d="M1638.9 1185.7 L1650.1 1191.8" stroke="#111" stroke-width="1.58" fill="none"/>
<path d="M1652.6 1192.4 L1720.8 1192.2" stroke="#111" stroke-width="1.69" fill="none"/>
<path d="M1645.0 1120.1 L1645.0 1185.7" stroke="#111" stroke-width="1.24" fill="none" stroke-dasharray="5 3"/>
<rect x="1720.8" y="1119.7" width="10.2" height="72.5" fill="#111"/>
<path d="M1735.5 1087.4 L1735.5 1230.7" stroke="#111" stroke-width="1.58" fill="none"/>
<path d="M1737.8 1087.4 L1737.8 1230.7" stroke="#111" stroke-width="1.58" fill="none"/>
<rect x="1741.9" y="1087.4" width="12.7" height="85.0" fill="#111"/>
<rect x="1741.9" y="1194.9" width="12.7" height="35.8" fill="#111"/>
<path d="M1754.6 1087.4 L1874.4 1087.4" stroke="#111" stroke-width="1.69" fill="none"/>
<path d="M1754.6 1130.4 L1815.0 1130.4" stroke="#111" stroke-width="1.69" fill="none"/>
<path d="M1754.6 1171.7 L1848.8 1171.7" stroke="#111" stroke-width="1.69" fill="none"/>
<path d="M1815.0 1122.4 V1138.4" stroke="#111" stroke-width="3.2"/>
<path d="M1785.3 1087.4 L1785.3 1172.4" stroke="#111" stroke-width="1.69" fill="none"/>
<rect x="1777.3" y="1107.4" width="16" height="7" fill="#fff"/>
<path d="M1777.3 1108.4 H1793.3 M1777.3 1113.4 H1793.3" stroke="#111" stroke-width="3" fill="none"/>
<rect x="1777.3" y="1146.3" width="16" height="7" fill="#fff"/>
<path d="M1777.3 1147.3 H1793.3 M1777.3 1152.3 H1793.3" stroke="#111" stroke-width="3" fill="none"/>
<circle cx="1785.3" cy="1087.4" r="3.4" fill="#111"/>
<circle cx="1785.3" cy="1130.4" r="3.4" fill="#111"/>
<circle cx="1785.3" cy="1172.4" r="3.4" fill="#111"/>
<circle cx="1830.4" cy="1087.4" r="3.4" fill="#111"/>
<circle cx="1830.4" cy="1171.7" r="3.4" fill="#111"/>
<circle cx="1874.4" cy="1087.4" r="3.4" fill="#111"/>
<circle cx="1874.4" cy="1115.0" r="3.4" fill="#111"/>
<circle cx="1874.4" cy="1143.7" r="3.4" fill="#111"/>
<path d="M1830.4 1087.4 L1830.4 1115.0 L1874.4 1115.0" stroke="#111" stroke-width="1.69" fill="none"/>
<path d="M1830.4 1171.7 L1830.4 1143.7 L1874.4 1143.7" stroke="#111" stroke-width="1.69" fill="none"/>
<path d="M1848.8 1171.7 L1875.4 1171.7 L1875.4 1143.7" stroke="#111" stroke-width="1.36" fill="none" stroke-dasharray="6 3"/>
<path d="M1874.4 1087.4 L1874.4 1143.7" stroke="#111" stroke-width="1.69" fill="none"/>
<path d="M1847.9 1081.4 L1847.9 1093.4 L1858.9 1087.4 Z" fill="#111"/>
<path d="M1859.4 1081.4 V1093.4" stroke="#111" stroke-width="1.6"/>
<path d="M1847.9 1109.0 L1847.9 1121.0 L1858.9 1115.0 Z" fill="#111"/>
<path d="M1859.4 1109.0 V1121.0" stroke="#111" stroke-width="1.6"/>
<path d="M1847.9 1137.7 L1847.9 1149.7 L1858.9 1143.7 Z" fill="#111"/>
<path d="M1859.4 1137.7 V1149.7" stroke="#111" stroke-width="1.6"/>
<path d="M1847.9 1165.7 L1847.9 1177.7 L1858.9 1171.7 Z" fill="#111"/>
<path d="M1859.4 1165.7 V1177.7" stroke="#111" stroke-width="1.6"/>
<path d="M1874.4 1087.4 L1961.5 1087.4" stroke="#111" stroke-width="1.69" fill="none"/>
<rect x="1901.9" y="1082.3" width="20" height="8" rx="1" fill="#fff" stroke="#111" stroke-width="1.4"/>
<text x="1908.9" y="1089.3" font-size="7" font-style="italic" fill="#111">D</text>
<circle cx="1948.2" cy="1087.4" r="3.4" fill="#111"/>
<circle cx="1983.6" cy="1087.4" r="3.4" fill="#111"/>
<path d="M1948.2 1087.4 L1950.2 1141.6" stroke="#111" stroke-width="1.69" fill="none"/>
<rect x="1942.2" y="1109.0" width="16" height="10" fill="#fff"/>
<rect x="1942.2" y="1109.0" width="16" height="3.5" fill="#fff" stroke="#111" stroke-width="1.3"/>
<path d="M1942.2 1117.5 H1958.2" stroke="#111" stroke-width="3.2" fill="none"/>
<path d="M1942.2 1142.0 H1958.2" stroke="#111" stroke-width="4" fill="none"/>
<path d="M1983.6 1087.4 L1985.0 1141.6" stroke="#111" stroke-width="1.69" fill="none"/>
<rect x="1977.0" y="1109.0" width="16" height="10" fill="#fff"/>
<rect x="1977.0" y="1109.0" width="16" height="3.5" fill="#fff" stroke="#111" stroke-width="1.3"/>
<path d="M1977.0 1117.5 H1993.0" stroke="#111" stroke-width="3.2" fill="none"/>
<path d="M1977.0 1142.0 H1993.0" stroke="#111" stroke-width="4" fill="none"/>
<text x="1954.3" y="1103.7" font-size="10.8" font-style="normal" text-anchor="start" fill="#111">+</text>
<text x="1990.2" y="1103.3" font-size="10.8" font-style="normal" text-anchor="start" fill="#111">+</text>
<path d="M1746.4 1084.3 L1746.4 1071.0 L1752.5 1071.0" stroke="#111" stroke-width="1.69" fill="none"/>
<rect x="1754.2" y="1049.5" width="63.9" height="31.7" fill="#fff" stroke="#111" stroke-width="1.7"/>
<path d="M1765.7020000000002 1065.35 H1806.598" stroke="#111" stroke-width="1.4"/>
<text x="1786.15" y="1062.85" font-size="13" font-style="italic" text-anchor="middle" fill="#111">42 V~</text>
<text x="1786.15" y="1077.35" font-size="13" font-style="italic" text-anchor="middle" fill="#111">38 V~</text>
<circle cx="1752.5" cy="1071.0" r="3.4" fill="#111"/>
<path d="M1754.6 1194.9 L1831.4 1194.9 L1831.4 1248.1" stroke="#111" stroke-width="1.69" fill="none"/>
<path d="M1771.0 1231.8 L1831.4 1231.8" stroke="#111" stroke-width="1.69" fill="none"/>
<rect x="1779.5" y="1227.8" width="24" height="8" fill="#fff" stroke="#111" stroke-width="1.7"/>
<path d="M1789.4 1235.9 L1795.6 1227.7" stroke="#111" stroke-width="1.47" fill="none"/>
<circle cx="1831.4" cy="1211.3" r="9.5" fill="#fff" stroke="#111" stroke-width="1.5"/><path d="M1824.9 1204.8 L1837.9 1217.8 M1824.9 1217.8 L1837.9 1204.8" stroke="#111" stroke-width="1.3"/>
<circle cx="1831.4" cy="1231.8" r="3.4" fill="#111"/>
<path d="M1824.4 1248.6 H1838.4" stroke="#111" stroke-width="4" fill="none"/>
<text x="1662.4" y="1052.9" font-size="13.2" font-style="italic" textLength="25.6" lengthAdjust="spacingAndGlyphs" text-anchor="start" fill="#111">TR1</text>
<text x="1653.2" y="1067.3" font-size="13.2" font-style="italic" textLength="45.1" lengthAdjust="spacingAndGlyphs" text-anchor="start" fill="#111">M 102a</text>
<text x="1684.9" y="1112.3" font-size="13.2" font-style="italic" text-anchor="start" fill="#111">Si 3</text>
<text x="1682.9" y="1135.9" font-size="13.2" font-style="italic" text-anchor="start" fill="#111">0,6AT</text>
<text x="1795.6" y="1103.1" font-size="13.2" font-style="italic" text-anchor="start" fill="#111">C203</text>
<text x="1795.6" y="1116.4" font-size="13.2" font-style="italic" text-anchor="start" fill="#111">0,22µ</text>
<text x="1795.6" y="1151.3" font-size="13.2" font-style="italic" text-anchor="start" fill="#111">C204</text>
<text x="1795.6" y="1163.6" font-size="13.2" font-style="italic" text-anchor="start" fill="#111">0,22µ</text>
<text x="1828.3" y="1061.1" font-size="13.2" font-style="italic" text-anchor="start" fill="#111">D201</text>
<text x="1828.3" y="1073.4" font-size="13.2" font-style="italic" textLength="62.5" lengthAdjust="spacingAndGlyphs" text-anchor="start" fill="#111">4×SY 201</text>
<text x="1874.4" y="1061.1" font-size="13.2" font-style="italic" text-anchor="start" fill="#111">D 204</text>
<text x="1903.1" y="1076.5" font-size="13.2" font-style="italic" text-anchor="start" fill="#111">R202</text>
<text x="1903.1" y="1100.1" font-size="13.2" font-style="italic" text-anchor="start" fill="#111">0,5</text>
<text x="1944.1" y="1076.5" font-size="13.2" font-style="italic" textLength="66.5" lengthAdjust="spacingAndGlyphs" text-anchor="start" fill="#111">2×2200/80</text>
<text x="1912.3" y="1130.8" font-size="13.2" font-style="italic" text-anchor="start" fill="#111">C201</text>
<text x="1951.2" y="1130.8" font-size="13.2" font-style="italic" text-anchor="start" fill="#111">C202</text>
<text x="1759.7" y="1206.6" font-size="13.2" font-style="italic" text-anchor="start" fill="#111">5V~</text>
<text x="1778.1" y="1221.9" font-size="13.2" font-style="italic" text-anchor="start" fill="#111">R 201</text>
<text x="1784.3" y="1247.5" font-size="13.2" font-style="italic" text-anchor="start" fill="#111">10</text>
<text x="1847.8" y="1207.6" font-size="13.2" font-style="italic" text-anchor="start" fill="#111">La 1</text>
<text x="1849.8" y="1221.9" font-size="14.4" font-style="italic" textLength="69.7" lengthAdjust="spacingAndGlyphs" text-anchor="start" fill="#111">6V / 0,6 W</text>
<path d="M1960.0 1086.8 L2286.1 1085.9 L2286.1 1073.4" stroke="#111" stroke-width="1.69" fill="none"/>
<circle cx="2285.5" cy="1056.9" r="16.5" fill="#fff" stroke="#111" stroke-width="1.5"/>
<path d="M2280.5 1048.9 H2290.5 M2280.5 1064.9 H2290.5 M2285.5 1048.9 V1064.9" stroke="#111" stroke-width="1.5"/>
<path d="M2043.7 1083.9 L2043.7 1052.0 L2066.4 1052.0" stroke="#111" stroke-width="1.69" fill="none"/>
<rect x="2067.4" y="1030.7" width="70.5" height="37.0" fill="#fff" stroke="#111" stroke-width="1.7"/>
<path d="M2080.09 1049.2 H2125.21" stroke="#111" stroke-width="1.4"/>
<text x="2102.65" y="1046.7" font-size="13" font-style="italic" text-anchor="middle" fill="#111">58 V</text>
<text x="2102.65" y="1061.2" font-size="13" font-style="italic" text-anchor="middle" fill="#111">41 V</text>
<circle cx="2066.4" cy="1052.0" r="3.4" fill="#111"/>
<path d="M2166.5 1083.9 L2166.5 1052.0 L2190.9 1052.0" stroke="#111" stroke-width="1.69" fill="none"/>
<rect x="2191.5" y="1030.7" width="69.0" height="36.4" fill="#fff" stroke="#111" stroke-width="1.5"/>
<circle cx="2190.9" cy="1052.0" r="3.4" fill="#111"/>
<text x="2203.3" y="1048.0" font-size="13.2" font-style="italic" textLength="29.6" lengthAdjust="spacingAndGlyphs" text-anchor="start" fill="#111">max</text>
<text x="2203.3" y="1061.6" font-size="13.2" font-style="italic" textLength="31.6" lengthAdjust="spacingAndGlyphs" text-anchor="start" fill="#111">2,4 A</text>
<path d="M2164.9 1117.0 L2252.6 1117.0" stroke="#111" stroke-width="1.69" fill="none"/>
<rect x="2190.9" y="1111.0" width="34" height="12" rx="1.5" fill="#fff" stroke="#111" stroke-width="1.5"/>
<text x="2203.9" y="1121.0" font-size="9" font-style="italic" font-weight="bold" fill="#111">D</text>
<path d="M2164.9 1155.4 L2252.6 1155.4" stroke="#111" stroke-width="1.69" fill="none"/>
<rect x="2190.9" y="1149.4" width="34" height="12" rx="1.5" fill="#fff" stroke="#111" stroke-width="1.5"/>
<path d="M2207.9 1149.4 V1161.4" stroke="#111" stroke-width="1.3"/>
<path d="M2164.9 1195.8 L2252.6 1195.8" stroke="#111" stroke-width="1.69" fill="none"/>
<rect x="2190.9" y="1189.8" width="34" height="12" rx="1.5" fill="#fff" stroke="#111" stroke-width="1.5"/>
<path d="M2204.9 1201.8 L2211.9 1190.8" stroke="#111" stroke-width="1.4"/>
<path d="M2164.9 1238.6 L2252.6 1238.6" stroke="#111" stroke-width="1.69" fill="none"/>
<rect x="2190.9" y="1232.6" width="34" height="12" rx="1.5" fill="#fff" stroke="#111" stroke-width="1.5"/>
<path d="M2201.9 1244.6 L2208.9 1233.6 M2203.9 1244.6 L2210.9 1233.6" stroke="#111" stroke-width="1.6"/>
<text x="2190.1" y="1107.1" font-size="13.2" font-style="italic" textLength="38.9" lengthAdjust="spacingAndGlyphs" text-anchor="start" fill="#111">Draht</text>
<text x="2199.4" y="1146.6" font-size="13.2" font-style="italic" text-anchor="start" fill="#111">1W</text>
<text x="2189.6" y="1186.0" font-size="13.2" font-style="italic" textLength="36.4" lengthAdjust="spacingAndGlyphs" text-anchor="start" fill="#111">0,21W</text>
<text x="2193.5" y="1227.3" font-size="13.2" font-style="italic" textLength="35.5" lengthAdjust="spacingAndGlyphs" text-anchor="start" fill="#111">0,16 W</text>
<text x="2349.2" y="1244.5" font-size="21" fill="#111" transform="rotate(-90 2349.2 1244.5)" textLength="88" lengthAdjust="spacingAndGlyphs">67 - 679</text>
<path d="M232.0 187.0 L1016.0 187.0" stroke="#111" stroke-width="1.81" fill="none" stroke-dasharray="48 12"/>
<path d="M1016.0 187.0 L1016.0 984.0" stroke="#111" stroke-width="1.58" fill="none" stroke-dasharray="46 12"/>
<path d="M232.0 984.0 L1016.0 984.0" stroke="#111" stroke-width="1.69" fill="none" stroke-dasharray="80 10"/>
<path d="M232.0 187.0 L232.0 984.0" stroke="#111" stroke-width="1.36" fill="none" stroke-dasharray="28 4 3 4"/>
<path d="M1077.0 185.0 L1537.0 185.0" stroke="#111" stroke-width="1.81" fill="none" stroke-dasharray="48 12"/>
<path d="M1077.0 986.0 L1537.0 986.0" stroke="#111" stroke-width="1.81" fill="none" stroke-dasharray="50 12"/>
<path d="M1077.0 185.0 L1077.0 986.0" stroke="#111" stroke-width="1.24" fill="none" stroke-dasharray="28 4 3 4"/>
<path d="M1537.0 185.0 L1537.0 986.0" stroke="#111" stroke-width="1.36" fill="none" stroke-dasharray="28 4 3 4"/>
<path d="M1600.0 187.0 L2253.0 187.0" stroke="#111" stroke-width="1.81" fill="none" stroke-dasharray="48 12"/>
<path d="M1600.0 989.0 L2253.0 989.0" stroke="#111" stroke-width="1.69" fill="none" stroke-dasharray="60 10"/>
<path d="M1600.0 187.0 L1600.0 989.0" stroke="#111" stroke-width="1.36" fill="none" stroke-dasharray="28 4 3 4"/>
<path d="M2253.0 187.0 L2253.0 989.0" stroke="#111" stroke-width="1.69" fill="none" stroke-dasharray="60 10"/>
<text x="1517.0" y="1159.0" font-size="13.2" font-style="italic" textLength="40.0" lengthAdjust="spacingAndGlyphs" text-anchor="start" fill="#111">220 V</text>
<text x="1519.0" y="1173.0" font-size="13.2" font-style="italic" textLength="38.0" lengthAdjust="spacingAndGlyphs" text-anchor="start" fill="#111">50 Hz</text>
<text x="57.6" y="690.4" font-size="14.4" font-style="italic" textLength="59.0" lengthAdjust="spacingAndGlyphs" text-anchor="start" fill="#111">tonband</text>
<text x="57.6" y="707.6" font-size="14.4" font-style="italic" textLength="63.4" lengthAdjust="spacingAndGlyphs" text-anchor="start" fill="#111">≤ 250 mV</text>
<text x="1030" y="1446" font-size="31" font-weight="bold" style="stroke:none" fill="#555" textLength="382" lengthAdjust="spacingAndGlyphs" transform="translate(2.5 2.5)">Comix CX 40 GFGF Archiv</text>
<text x="1030" y="1446" font-size="31" font-weight="bold" fill="#fff" style="stroke:#888;stroke-width:1.2px" textLength="382" lengthAdjust="spacingAndGlyphs">Comix CX 40 GFGF Archiv</text>
<circle cx="162.1" cy="377.7" r="2.6" fill="#fff" stroke="#111" stroke-width="1.2"/>
<circle cx="172.2" cy="381.8" r="2.6" fill="#fff" stroke="#111" stroke-width="1.2"/>
<circle cx="176.5" cy="392.7" r="2.6" fill="#fff" stroke="#111" stroke-width="1.2"/>
<circle cx="171.1" cy="403.5" r="2.6" fill="#fff" stroke="#111" stroke-width="1.2"/>
<circle cx="162.1" cy="407.6" r="2.6" fill="#fff" stroke="#111" stroke-width="1.2"/>
<circle cx="161.3" cy="477.7" r="2.6" fill="#fff" stroke="#111" stroke-width="1.2"/>
<circle cx="171.1" cy="481.0" r="2.6" fill="#fff" stroke="#111" stroke-width="1.2"/>
<circle cx="175.7" cy="492.7" r="2.6" fill="#fff" stroke="#111" stroke-width="1.2"/>
<circle cx="171.6" cy="502.7" r="2.6" fill="#fff" stroke="#111" stroke-width="1.2"/>
<circle cx="162.9" cy="509.0" r="2.6" fill="#fff" stroke="#111" stroke-width="1.2"/>
<circle cx="173.0" cy="580.2" r="2.6" fill="#fff" stroke="#111" stroke-width="1.2"/>
<circle cx="175.7" cy="591.8" r="2.6" fill="#fff" stroke="#111" stroke-width="1.2"/>
<circle cx="173.0" cy="603.3" r="2.6" fill="#fff" stroke="#111" stroke-width="1.2"/>
<circle cx="339.6" cy="285.9" r="2.8" fill="#fff" stroke="#111" stroke-width="1.2"/>
<circle cx="357.2" cy="298.4" r="2.8" fill="#fff" stroke="#111" stroke-width="1.2"/>
<circle cx="339.6" cy="341.0" r="2.8" fill="#fff" stroke="#111" stroke-width="1.2"/>
<circle cx="357.2" cy="351.1" r="2.8" fill="#fff" stroke="#111" stroke-width="1.2"/>
<circle cx="339.6" cy="394.0" r="2.8" fill="#fff" stroke="#111" stroke-width="1.2"/>
<circle cx="357.2" cy="406.2" r="2.8" fill="#fff" stroke="#111" stroke-width="1.2"/>
<circle cx="338.2" cy="451.1" r="2.8" fill="#fff" stroke="#111" stroke-width="1.2"/>
<circle cx="357.2" cy="461.4" r="2.8" fill="#fff" stroke="#111" stroke-width="1.2"/>
<circle cx="357.0" cy="221.5" r="2.6" fill="#fff" stroke="#111" stroke-width="1.4"/>
<circle cx="338.2" cy="228.8" r="2.8" fill="#fff" stroke="#111" stroke-width="1.2"/>
<circle cx="355.9" cy="239.1" r="2.8" fill="#fff" stroke="#111" stroke-width="1.2"/>
<circle cx="358.6" cy="275.8" r="2.6" fill="#fff" stroke="#111" stroke-width="1.4"/>
<circle cx="358.6" cy="330.7" r="2.6" fill="#fff" stroke="#111" stroke-width="1.4"/>
<circle cx="358.6" cy="384.5" r="2.6" fill="#fff" stroke="#111" stroke-width="1.4"/>
<circle cx="358.6" cy="438.0" r="2.6" fill="#fff" stroke="#111" stroke-width="1.4"/>
<circle cx="357.5" cy="604.1" r="2.6" fill="#fff" stroke="#111" stroke-width="1.4"/>
<circle cx="176.2" cy="679.1" r="2.6" fill="#fff" stroke="#111" stroke-width="1.2"/>
<circle cx="177.8" cy="691.6" r="2.6" fill="#fff" stroke="#111" stroke-width="1.2"/>
<circle cx="173.1" cy="701.9" r="2.6" fill="#fff" stroke="#111" stroke-width="1.2"/>
<circle cx="163.1" cy="707.2" r="2.6" fill="#fff" stroke="#111" stroke-width="1.2"/>
<circle cx="205.9" cy="717.5" r="2.6" fill="#fff" stroke="#111" stroke-width="1.4"/>
<circle cx="182.5" cy="735.3" r="2.6" fill="#fff" stroke="#111" stroke-width="1.4"/>
<circle cx="337.8" cy="616.6" r="2.8" fill="#fff" stroke="#111" stroke-width="1.2"/>
<circle cx="357.5" cy="628.1" r="2.8" fill="#fff" stroke="#111" stroke-width="1.2"/>
<circle cx="356.9" cy="819.1" r="2.6" fill="#fff" stroke="#111" stroke-width="1.4"/>
<circle cx="357.5" cy="656.2" r="2.6" fill="#fff" stroke="#111" stroke-width="1.4"/>
<circle cx="357.5" cy="711.2" r="2.6" fill="#fff" stroke="#111" stroke-width="1.4"/>
<circle cx="357.5" cy="762.5" r="2.6" fill="#fff" stroke="#111" stroke-width="1.4"/>
<circle cx="337.8" cy="668.1" r="2.8" fill="#fff" stroke="#111" stroke-width="1.2"/>
<circle cx="357.5" cy="680.6" r="2.8" fill="#fff" stroke="#111" stroke-width="1.2"/>
<circle cx="337.8" cy="722.8" r="2.8" fill="#fff" stroke="#111" stroke-width="1.2"/>
<circle cx="357.5" cy="736.9" r="2.8" fill="#fff" stroke="#111" stroke-width="1.2"/>
<circle cx="337.2" cy="773.8" r="2.8" fill="#fff" stroke="#111" stroke-width="1.2"/>
<circle cx="356.6" cy="783.8" r="2.8" fill="#fff" stroke="#111" stroke-width="1.2"/>
<circle cx="336.2" cy="827.5" r="2.8" fill="#fff" stroke="#111" stroke-width="1.2"/>
<circle cx="356.6" cy="839.1" r="2.8" fill="#fff" stroke="#111" stroke-width="1.2"/>
<circle cx="434.1" cy="549.4" r="2.6" fill="#fff" stroke="#111" stroke-width="1.4"/>
<circle cx="435.2" cy="530.7" r="2.6" fill="#fff" stroke="#111" stroke-width="1.4"/>
<circle cx="435.2" cy="548.9" r="2.6" fill="#fff" stroke="#111" stroke-width="1.4"/>
<circle cx="518.3" cy="522.7" r="2.6" fill="#fff" stroke="#111" stroke-width="1.4"/>
<circle cx="498.5" cy="530.7" r="2.8" fill="#fff" stroke="#111" stroke-width="1.2"/>
<circle cx="518.9" cy="540.3" r="2.8" fill="#fff" stroke="#111" stroke-width="1.2"/>
<circle cx="566.8" cy="540.3" r="2.8" fill="#fff" stroke="#111" stroke-width="1.2"/>
<circle cx="586.0" cy="548.9" r="2.8" fill="#fff" stroke="#111" stroke-width="1.2"/>
<circle cx="583.7" cy="532.3" r="2.4" fill="#fff" stroke="#111" stroke-width="1.4"/>
<circle cx="839.7" cy="294.5" r="2.8" fill="#fff" stroke="#111" stroke-width="1.2"/>
<circle cx="855.0" cy="303.1" r="2.8" fill="#fff" stroke="#111" stroke-width="1.2"/>
<circle cx="840.7" cy="312.1" r="2.6" fill="#fff" stroke="#111" stroke-width="1.4"/>
<circle cx="790.2" cy="443.0" r="7" fill="#fff" stroke="#111" stroke-width="1.4"/>
<circle cx="977.0" cy="295.4" r="2.8" fill="#fff" stroke="#111" stroke-width="1.2"/>
<circle cx="995.6" cy="302.5" r="2.8" fill="#fff" stroke="#111" stroke-width="1.2"/>
<circle cx="978.0" cy="311.4" r="2.4" fill="#fff" stroke="#111" stroke-width="1.4"/>
<circle cx="1015.4" cy="233.8" r="3.8" fill="#fff" stroke="#111" stroke-width="1.4"/>
<circle cx="1076.0" cy="232.8" r="3.8" fill="#fff" stroke="#111" stroke-width="1.4"/>
<circle cx="1015.4" cy="302.5" r="3.8" fill="#fff" stroke="#111" stroke-width="1.4"/>
<circle cx="1076.0" cy="302.5" r="3.8" fill="#fff" stroke="#111" stroke-width="1.4"/>
<circle cx="1016.2" cy="622.3" r="3.8" fill="#fff" stroke="#111" stroke-width="1.4"/>
<circle cx="842.2" cy="680.7" r="2.8" fill="#fff" stroke="#111" stroke-width="1.2"/>
<circle cx="858.2" cy="690.9" r="2.8" fill="#fff" stroke="#111" stroke-width="1.2"/>
<circle cx="977.9" cy="678.8" r="2.8" fill="#fff" stroke="#111" stroke-width="1.2"/>
<circle cx="998.7" cy="689.3" r="2.8" fill="#fff" stroke="#111" stroke-width="1.2"/>
<circle cx="1016.2" cy="689.3" r="3.8" fill="#fff" stroke="#111" stroke-width="1.4"/>
<circle cx="843.2" cy="699.8" r="2.6" fill="#fff" stroke="#111" stroke-width="1.4"/>
<circle cx="790.2" cy="829.8" r="7" fill="#fff" stroke="#111" stroke-width="1.4"/>
<circle cx="978.5" cy="699.5" r="2.4" fill="#fff" stroke="#111" stroke-width="1.4"/>
<circle cx="514.0" cy="899.1" r="2.6" fill="#fff" stroke="#111" stroke-width="1.4"/>
<circle cx="494.2" cy="908.0" r="2.8" fill="#fff" stroke="#111" stroke-width="1.2"/>
<circle cx="514.9" cy="917.0" r="2.8" fill="#fff" stroke="#111" stroke-width="1.2"/>
<circle cx="562.8" cy="917.6" r="2.8" fill="#fff" stroke="#111" stroke-width="1.2"/>
<circle cx="580.4" cy="926.5" r="2.8" fill="#fff" stroke="#111" stroke-width="1.2"/>
<circle cx="582.0" cy="909.6" r="2.4" fill="#fff" stroke="#111" stroke-width="1.4"/>
<circle cx="1076.7" cy="232.8" r="3.8" fill="#fff" stroke="#111" stroke-width="1.4"/>
<circle cx="1537.4" cy="233.8" r="3.8" fill="#fff" stroke="#111" stroke-width="1.4"/>
<circle cx="1076.7" cy="302.4" r="3.8" fill="#fff" stroke="#111" stroke-width="1.4"/>
<circle cx="1077.7" cy="430.8" r="3.2" fill="#fff" stroke="#111" stroke-width="1.4"/>
<circle cx="1521.5" cy="303.4" r="7" fill="#fff" stroke="#111" stroke-width="1.4"/>
<circle cx="1537.4" cy="302.4" r="3.8" fill="#fff" stroke="#111" stroke-width="1.4"/>
<circle cx="1076.7" cy="620.8" r="3.8" fill="#fff" stroke="#111" stroke-width="1.4"/>
<circle cx="1537.4" cy="621.8" r="3.8" fill="#fff" stroke="#111" stroke-width="1.4"/>
<circle cx="1076.7" cy="690.4" r="3.8" fill="#fff" stroke="#111" stroke-width="1.4"/>
<circle cx="1077.7" cy="818.8" r="3.2" fill="#fff" stroke="#111" stroke-width="1.4"/>
<circle cx="1521.5" cy="691.4" r="7" fill="#fff" stroke="#111" stroke-width="1.4"/>
<circle cx="1537.4" cy="690.4" r="3.8" fill="#fff" stroke="#111" stroke-width="1.4"/>
<circle cx="1600.8" cy="233.8" r="3.8" fill="#fff" stroke="#111" stroke-width="1.4"/>
<circle cx="1599.8" cy="302.5" r="3.8" fill="#fff" stroke="#111" stroke-width="1.4"/>
<circle cx="1600.8" cy="623.8" r="3.8" fill="#fff" stroke="#111" stroke-width="1.4"/>
<circle cx="1599.8" cy="689.0" r="3.8" fill="#fff" stroke="#111" stroke-width="1.4"/>
<circle cx="2252.0" cy="239.5" r="3.8" fill="#fff" stroke="#111" stroke-width="1.4"/>
<circle cx="2252.0" cy="312.6" r="3.8" fill="#fff" stroke="#111" stroke-width="1.4"/>
<circle cx="2252.0" cy="390.9" r="3.8" fill="#fff" stroke="#111" stroke-width="1.4"/>
<circle cx="2252.0" cy="466.2" r="3.8" fill="#fff" stroke="#111" stroke-width="1.4"/>
<circle cx="2276.3" cy="577.7" r="2.6" fill="#fff" stroke="#111" stroke-width="1.2"/>
<circle cx="2292.3" cy="579.0" r="2.6" fill="#fff" stroke="#111" stroke-width="1.2"/>
<circle cx="2282.7" cy="587.9" r="2.6" fill="#fff" stroke="#111" stroke-width="1.2"/>
<circle cx="2272.1" cy="599.1" r="2.6" fill="#fff" stroke="#111" stroke-width="1.2"/>
<circle cx="2291.3" cy="599.1" r="2.6" fill="#fff" stroke="#111" stroke-width="1.2"/>
<circle cx="2307.3" cy="617.6" r="3.2" fill="none" stroke="#111" stroke-width="1.1"/>
<circle cx="2310.5" cy="617.6" r="3.2" fill="none" stroke="#111" stroke-width="1.1"/>
<circle cx="2252.3" cy="626.2" r="3.8" fill="#fff" stroke="#111" stroke-width="1.4"/>
<circle cx="2252.3" cy="701.2" r="3.8" fill="#fff" stroke="#111" stroke-width="1.4"/>
<circle cx="2252.3" cy="773.7" r="3.8" fill="#fff" stroke="#111" stroke-width="1.4"/>
<circle cx="2252.3" cy="849.1" r="3.8" fill="#fff" stroke="#111" stroke-width="1.4"/>
<circle cx="519.5" cy="1093.1" r="2.6" fill="#fff" stroke="#111" stroke-width="1.1"/>
<circle cx="537.9" cy="1094.1" r="2.6" fill="#fff" stroke="#111" stroke-width="1.1"/>
<circle cx="528.7" cy="1102.9" r="2.6" fill="#fff" stroke="#111" stroke-width="1.1"/>
<circle cx="518.9" cy="1113.7" r="2.6" fill="#fff" stroke="#111" stroke-width="1.1"/>
<circle cx="537.9" cy="1112.7" r="2.6" fill="#fff" stroke="#111" stroke-width="1.1"/>
<circle cx="106.9" cy="1153.1" r="2.6" fill="#fff" stroke="#111" stroke-width="1.1"/>
<circle cx="113.4" cy="1160.9" r="2.6" fill="#fff" stroke="#111" stroke-width="1.1"/>
<circle cx="123.3" cy="1165.2" r="2.6" fill="#fff" stroke="#111" stroke-width="1.1"/>
<circle cx="132.8" cy="1160.9" r="2.6" fill="#fff" stroke="#111" stroke-width="1.1"/>
<circle cx="138.7" cy="1152.1" r="2.6" fill="#fff" stroke="#111" stroke-width="1.1"/>
<circle cx="307.5" cy="1155.4" r="2.5" fill="#fff" stroke="#111" stroke-width="1.1"/>
<circle cx="316.6" cy="1147.2" r="2.5" fill="#fff" stroke="#111" stroke-width="1.1"/>
<circle cx="327.1" cy="1155.4" r="2.5" fill="#fff" stroke="#111" stroke-width="1.1"/>
<circle cx="401.5" cy="1111.1" r="4.6" fill="#fff" stroke="#111" stroke-width="1.4"/>
<circle cx="400.9" cy="1192.4" r="4.6" fill="#fff" stroke="#111" stroke-width="1.4"/>
<circle cx="1632.1" cy="1122.6" r="2.8" fill="#fff" stroke="#111" stroke-width="1.4"/>
<circle cx="1651.2" cy="1122.6" r="2.8" fill="#fff" stroke="#111" stroke-width="1.4"/>
<circle cx="1631.3" cy="1192.8" r="2.8" fill="#fff" stroke="#111" stroke-width="1.4"/>
<circle cx="1651.2" cy="1192.8" r="2.8" fill="#fff" stroke="#111" stroke-width="1.4"/>
</svg>
</body></html>
